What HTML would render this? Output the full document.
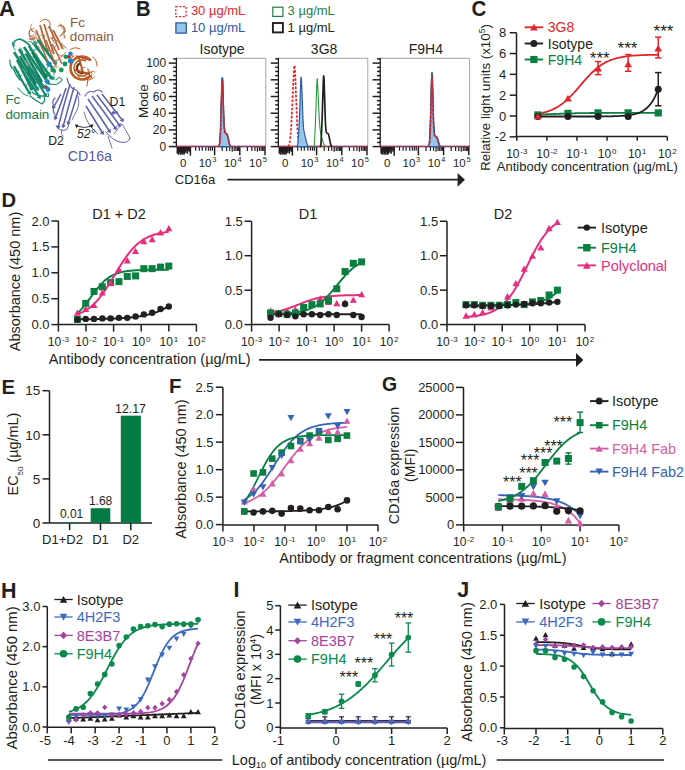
<!DOCTYPE html>
<html><head><meta charset="utf-8"><style>
html,body{margin:0;padding:0;background:#fff;}
svg{display:block;}
text{font-family:"Liberation Sans", sans-serif;}
</style></head><body>
<svg width="685" height="770" viewBox="0 0 685 770" font-family='"Liberation Sans", sans-serif'>
<rect width="685" height="770" fill="#fff"/>
<text x="135.90" y="15.70" font-size="21.5" fill="#231f20" font-weight="bold" textLength="14.6" lengthAdjust="spacingAndGlyphs">B</text>
<rect x="175.8" y="6.6" width="10.3" height="10" fill="none" stroke="#e3242b" stroke-width="1.3" stroke-dasharray="2 1.6"/>
<text x="190.90" y="14.90" font-size="13" fill="#e3242b">30 µg/mL</text>
<rect x="175.9" y="22.9" width="10.4" height="10.2" fill="#95c6e8" stroke="#2b5aa6" stroke-width="1.3"/>
<text x="190.90" y="32.00" font-size="13" fill="#2b5aa6">10 µg/mL</text>
<rect x="272.8" y="7.2" width="10.1" height="9.2" fill="none" stroke="#1f7d45" stroke-width="1.2"/>
<text x="287.60" y="14.90" font-size="13" fill="#1f7d45">3 µg/mL</text>
<rect x="272.9" y="23.0" width="10.0" height="9.4" fill="none" stroke="#231f20" stroke-width="1.9"/>
<text x="287.60" y="32.00" font-size="13" fill="#231f20">1 µg/mL</text>
<polyline points="176.80,58.3 265.80,58.3 265.80,146.7" fill="none" stroke="#9a9a9a" stroke-width="0.9"/>
<text x="222.10" y="54.00" font-size="14" text-anchor="middle" fill="#231f20">Isotype</text>
<line x1="176.40" y1="57.70" x2="176.40" y2="146.70" stroke="#231f20" stroke-width="1.3" />
<line x1="173.20" y1="58.93" x2="176.80" y2="58.93" stroke="#231f20" stroke-width="1.5" />
<line x1="168.80" y1="63.10" x2="176.80" y2="63.10" stroke="#231f20" stroke-width="1.5" />
<line x1="173.20" y1="67.28" x2="176.80" y2="67.28" stroke="#231f20" stroke-width="1.5" />
<line x1="173.20" y1="71.45" x2="176.80" y2="71.45" stroke="#231f20" stroke-width="1.5" />
<line x1="173.20" y1="75.62" x2="176.80" y2="75.62" stroke="#231f20" stroke-width="1.5" />
<line x1="168.80" y1="79.80" x2="176.80" y2="79.80" stroke="#231f20" stroke-width="1.5" />
<line x1="173.20" y1="83.98" x2="176.80" y2="83.98" stroke="#231f20" stroke-width="1.5" />
<line x1="173.20" y1="88.15" x2="176.80" y2="88.15" stroke="#231f20" stroke-width="1.5" />
<line x1="173.20" y1="92.33" x2="176.80" y2="92.33" stroke="#231f20" stroke-width="1.5" />
<line x1="168.80" y1="96.50" x2="176.80" y2="96.50" stroke="#231f20" stroke-width="1.5" />
<line x1="173.20" y1="100.67" x2="176.80" y2="100.67" stroke="#231f20" stroke-width="1.5" />
<line x1="173.20" y1="104.85" x2="176.80" y2="104.85" stroke="#231f20" stroke-width="1.5" />
<line x1="173.20" y1="109.02" x2="176.80" y2="109.02" stroke="#231f20" stroke-width="1.5" />
<line x1="168.80" y1="113.20" x2="176.80" y2="113.20" stroke="#231f20" stroke-width="1.5" />
<line x1="173.20" y1="117.38" x2="176.80" y2="117.38" stroke="#231f20" stroke-width="1.5" />
<line x1="173.20" y1="121.55" x2="176.80" y2="121.55" stroke="#231f20" stroke-width="1.5" />
<line x1="173.20" y1="125.73" x2="176.80" y2="125.73" stroke="#231f20" stroke-width="1.5" />
<line x1="168.80" y1="129.90" x2="176.80" y2="129.90" stroke="#231f20" stroke-width="1.5" />
<line x1="173.20" y1="134.07" x2="176.80" y2="134.07" stroke="#231f20" stroke-width="1.5" />
<line x1="173.20" y1="138.25" x2="176.80" y2="138.25" stroke="#231f20" stroke-width="1.5" />
<line x1="173.20" y1="142.42" x2="176.80" y2="142.42" stroke="#231f20" stroke-width="1.5" />
<line x1="168.80" y1="146.60" x2="176.80" y2="146.60" stroke="#231f20" stroke-width="1.5" />
<line x1="176.40" y1="146.70" x2="265.80" y2="146.70" stroke="#231f20" stroke-width="1.3" />
<line x1="177.30" y1="146.70" x2="177.30" y2="153.70" stroke="#231f20" stroke-width="1.5" />
<line x1="177.90" y1="146.70" x2="177.90" y2="151.70" stroke="#231f20" stroke-width="1.5" />
<line x1="178.50" y1="146.70" x2="178.50" y2="154.70" stroke="#231f20" stroke-width="1.5" />
<line x1="179.10" y1="146.70" x2="179.10" y2="152.70" stroke="#231f20" stroke-width="1.5" />
<line x1="179.70" y1="146.70" x2="179.70" y2="151.70" stroke="#231f20" stroke-width="1.5" />
<line x1="180.30" y1="146.70" x2="180.30" y2="154.70" stroke="#231f20" stroke-width="1.5" />
<line x1="180.90" y1="146.70" x2="180.90" y2="152.70" stroke="#231f20" stroke-width="1.5" />
<line x1="181.50" y1="146.70" x2="181.50" y2="153.70" stroke="#231f20" stroke-width="1.5" />
<line x1="182.10" y1="146.70" x2="182.10" y2="154.70" stroke="#231f20" stroke-width="1.5" />
<line x1="182.70" y1="146.70" x2="182.70" y2="151.70" stroke="#231f20" stroke-width="1.5" />
<line x1="183.30" y1="146.70" x2="183.30" y2="152.70" stroke="#231f20" stroke-width="1.5" />
<line x1="183.90" y1="146.70" x2="183.90" y2="154.70" stroke="#231f20" stroke-width="1.5" />
<line x1="184.50" y1="146.70" x2="184.50" y2="153.70" stroke="#231f20" stroke-width="1.5" />
<line x1="185.10" y1="146.70" x2="185.10" y2="151.70" stroke="#231f20" stroke-width="1.5" />
<line x1="185.80" y1="146.70" x2="185.80" y2="152.70" stroke="#231f20" stroke-width="1.5" />
<line x1="186.60" y1="146.70" x2="186.60" y2="150.70" stroke="#231f20" stroke-width="1.5" />
<line x1="187.40" y1="146.70" x2="187.40" y2="153.70" stroke="#231f20" stroke-width="1.5" />
<line x1="188.30" y1="146.70" x2="188.30" y2="150.70" stroke="#231f20" stroke-width="1.5" />
<line x1="189.30" y1="146.70" x2="189.30" y2="151.70" stroke="#231f20" stroke-width="1.5" />
<line x1="190.40" y1="146.70" x2="190.40" y2="155.70" stroke="#231f20" stroke-width="1.5" />
<line x1="195.70" y1="146.70" x2="195.70" y2="150.70" stroke="#231f20" stroke-width="1.2" />
<line x1="199.30" y1="146.70" x2="199.30" y2="150.70" stroke="#231f20" stroke-width="1.2" />
<line x1="202.30" y1="146.70" x2="202.30" y2="150.70" stroke="#231f20" stroke-width="1.2" />
<line x1="205.90" y1="146.70" x2="205.90" y2="150.70" stroke="#231f20" stroke-width="1.2" />
<line x1="208.50" y1="146.70" x2="208.50" y2="150.70" stroke="#231f20" stroke-width="1.2" />
<line x1="210.50" y1="146.70" x2="210.50" y2="150.70" stroke="#231f20" stroke-width="1.2" />
<line x1="212.40" y1="146.70" x2="212.40" y2="150.70" stroke="#231f20" stroke-width="1.2" />
<line x1="214.60" y1="146.70" x2="214.60" y2="155.30" stroke="#231f20" stroke-width="1.5" />
<line x1="222.19" y1="146.70" x2="222.19" y2="150.90" stroke="#231f20" stroke-width="1.2" />
<line x1="226.62" y1="146.70" x2="226.62" y2="150.90" stroke="#231f20" stroke-width="1.2" />
<line x1="229.77" y1="146.70" x2="229.77" y2="150.90" stroke="#231f20" stroke-width="1.2" />
<line x1="232.21" y1="146.70" x2="232.21" y2="151.70" stroke="#231f20" stroke-width="1.2" />
<line x1="234.21" y1="146.70" x2="234.21" y2="150.90" stroke="#231f20" stroke-width="1.2" />
<line x1="235.90" y1="146.70" x2="235.90" y2="150.90" stroke="#231f20" stroke-width="1.2" />
<line x1="237.36" y1="146.70" x2="237.36" y2="150.90" stroke="#231f20" stroke-width="1.2" />
<line x1="238.65" y1="146.70" x2="238.65" y2="150.90" stroke="#231f20" stroke-width="1.2" />
<line x1="239.80" y1="146.70" x2="239.80" y2="155.30" stroke="#231f20" stroke-width="1.5" />
<line x1="247.39" y1="146.70" x2="247.39" y2="150.90" stroke="#231f20" stroke-width="1.2" />
<line x1="251.82" y1="146.70" x2="251.82" y2="150.90" stroke="#231f20" stroke-width="1.2" />
<line x1="254.97" y1="146.70" x2="254.97" y2="150.90" stroke="#231f20" stroke-width="1.2" />
<line x1="257.41" y1="146.70" x2="257.41" y2="151.70" stroke="#231f20" stroke-width="1.2" />
<line x1="259.41" y1="146.70" x2="259.41" y2="150.90" stroke="#231f20" stroke-width="1.2" />
<line x1="261.10" y1="146.70" x2="261.10" y2="150.90" stroke="#231f20" stroke-width="1.2" />
<line x1="262.56" y1="146.70" x2="262.56" y2="150.90" stroke="#231f20" stroke-width="1.2" />
<line x1="263.85" y1="146.70" x2="263.85" y2="150.90" stroke="#231f20" stroke-width="1.2" />
<line x1="265.00" y1="146.70" x2="265.00" y2="155.30" stroke="#231f20" stroke-width="1.5" />
<text x="183.30" y="167.00" font-size="11.5" text-anchor="middle" fill="#231f20">0</text>
<text x="207.60" y="167.00" font-size="11.5" text-anchor="middle" fill="#231f20">10<tspan font-size="7.5" dx="0.8" dy="-4.60">3</tspan></text>
<text x="232.80" y="167.00" font-size="11.5" text-anchor="middle" fill="#231f20">10<tspan font-size="7.5" dx="0.8" dy="-4.60">4</tspan></text>
<text x="258.00" y="167.00" font-size="11.5" text-anchor="middle" fill="#231f20">10<tspan font-size="7.5" dx="0.8" dy="-4.60">5</tspan></text>
<polyline points="278.80,58.3 367.80,58.3 367.80,146.7" fill="none" stroke="#9a9a9a" stroke-width="0.9"/>
<text x="324.10" y="54.00" font-size="14" text-anchor="middle" fill="#231f20">3G8</text>
<line x1="278.40" y1="57.70" x2="278.40" y2="146.70" stroke="#231f20" stroke-width="1.3" />
<line x1="275.20" y1="58.93" x2="278.80" y2="58.93" stroke="#231f20" stroke-width="1.5" />
<line x1="270.80" y1="63.10" x2="278.80" y2="63.10" stroke="#231f20" stroke-width="1.5" />
<line x1="275.20" y1="67.28" x2="278.80" y2="67.28" stroke="#231f20" stroke-width="1.5" />
<line x1="275.20" y1="71.45" x2="278.80" y2="71.45" stroke="#231f20" stroke-width="1.5" />
<line x1="275.20" y1="75.62" x2="278.80" y2="75.62" stroke="#231f20" stroke-width="1.5" />
<line x1="270.80" y1="79.80" x2="278.80" y2="79.80" stroke="#231f20" stroke-width="1.5" />
<line x1="275.20" y1="83.98" x2="278.80" y2="83.98" stroke="#231f20" stroke-width="1.5" />
<line x1="275.20" y1="88.15" x2="278.80" y2="88.15" stroke="#231f20" stroke-width="1.5" />
<line x1="275.20" y1="92.33" x2="278.80" y2="92.33" stroke="#231f20" stroke-width="1.5" />
<line x1="270.80" y1="96.50" x2="278.80" y2="96.50" stroke="#231f20" stroke-width="1.5" />
<line x1="275.20" y1="100.67" x2="278.80" y2="100.67" stroke="#231f20" stroke-width="1.5" />
<line x1="275.20" y1="104.85" x2="278.80" y2="104.85" stroke="#231f20" stroke-width="1.5" />
<line x1="275.20" y1="109.02" x2="278.80" y2="109.02" stroke="#231f20" stroke-width="1.5" />
<line x1="270.80" y1="113.20" x2="278.80" y2="113.20" stroke="#231f20" stroke-width="1.5" />
<line x1="275.20" y1="117.38" x2="278.80" y2="117.38" stroke="#231f20" stroke-width="1.5" />
<line x1="275.20" y1="121.55" x2="278.80" y2="121.55" stroke="#231f20" stroke-width="1.5" />
<line x1="275.20" y1="125.73" x2="278.80" y2="125.73" stroke="#231f20" stroke-width="1.5" />
<line x1="270.80" y1="129.90" x2="278.80" y2="129.90" stroke="#231f20" stroke-width="1.5" />
<line x1="275.20" y1="134.07" x2="278.80" y2="134.07" stroke="#231f20" stroke-width="1.5" />
<line x1="275.20" y1="138.25" x2="278.80" y2="138.25" stroke="#231f20" stroke-width="1.5" />
<line x1="275.20" y1="142.42" x2="278.80" y2="142.42" stroke="#231f20" stroke-width="1.5" />
<line x1="270.80" y1="146.60" x2="278.80" y2="146.60" stroke="#231f20" stroke-width="1.5" />
<line x1="278.40" y1="146.70" x2="367.80" y2="146.70" stroke="#231f20" stroke-width="1.3" />
<line x1="279.30" y1="146.70" x2="279.30" y2="153.70" stroke="#231f20" stroke-width="1.5" />
<line x1="279.90" y1="146.70" x2="279.90" y2="151.70" stroke="#231f20" stroke-width="1.5" />
<line x1="280.50" y1="146.70" x2="280.50" y2="154.70" stroke="#231f20" stroke-width="1.5" />
<line x1="281.10" y1="146.70" x2="281.10" y2="152.70" stroke="#231f20" stroke-width="1.5" />
<line x1="281.70" y1="146.70" x2="281.70" y2="151.70" stroke="#231f20" stroke-width="1.5" />
<line x1="282.30" y1="146.70" x2="282.30" y2="154.70" stroke="#231f20" stroke-width="1.5" />
<line x1="282.90" y1="146.70" x2="282.90" y2="152.70" stroke="#231f20" stroke-width="1.5" />
<line x1="283.50" y1="146.70" x2="283.50" y2="153.70" stroke="#231f20" stroke-width="1.5" />
<line x1="284.10" y1="146.70" x2="284.10" y2="154.70" stroke="#231f20" stroke-width="1.5" />
<line x1="284.70" y1="146.70" x2="284.70" y2="151.70" stroke="#231f20" stroke-width="1.5" />
<line x1="285.30" y1="146.70" x2="285.30" y2="152.70" stroke="#231f20" stroke-width="1.5" />
<line x1="285.90" y1="146.70" x2="285.90" y2="154.70" stroke="#231f20" stroke-width="1.5" />
<line x1="286.50" y1="146.70" x2="286.50" y2="153.70" stroke="#231f20" stroke-width="1.5" />
<line x1="287.10" y1="146.70" x2="287.10" y2="151.70" stroke="#231f20" stroke-width="1.5" />
<line x1="287.80" y1="146.70" x2="287.80" y2="152.70" stroke="#231f20" stroke-width="1.5" />
<line x1="288.60" y1="146.70" x2="288.60" y2="150.70" stroke="#231f20" stroke-width="1.5" />
<line x1="289.40" y1="146.70" x2="289.40" y2="153.70" stroke="#231f20" stroke-width="1.5" />
<line x1="290.30" y1="146.70" x2="290.30" y2="150.70" stroke="#231f20" stroke-width="1.5" />
<line x1="291.30" y1="146.70" x2="291.30" y2="151.70" stroke="#231f20" stroke-width="1.5" />
<line x1="292.40" y1="146.70" x2="292.40" y2="155.70" stroke="#231f20" stroke-width="1.5" />
<line x1="297.70" y1="146.70" x2="297.70" y2="150.70" stroke="#231f20" stroke-width="1.2" />
<line x1="301.30" y1="146.70" x2="301.30" y2="150.70" stroke="#231f20" stroke-width="1.2" />
<line x1="304.30" y1="146.70" x2="304.30" y2="150.70" stroke="#231f20" stroke-width="1.2" />
<line x1="307.90" y1="146.70" x2="307.90" y2="150.70" stroke="#231f20" stroke-width="1.2" />
<line x1="310.50" y1="146.70" x2="310.50" y2="150.70" stroke="#231f20" stroke-width="1.2" />
<line x1="312.50" y1="146.70" x2="312.50" y2="150.70" stroke="#231f20" stroke-width="1.2" />
<line x1="314.40" y1="146.70" x2="314.40" y2="150.70" stroke="#231f20" stroke-width="1.2" />
<line x1="316.60" y1="146.70" x2="316.60" y2="155.30" stroke="#231f20" stroke-width="1.5" />
<line x1="324.19" y1="146.70" x2="324.19" y2="150.90" stroke="#231f20" stroke-width="1.2" />
<line x1="328.62" y1="146.70" x2="328.62" y2="150.90" stroke="#231f20" stroke-width="1.2" />
<line x1="331.77" y1="146.70" x2="331.77" y2="150.90" stroke="#231f20" stroke-width="1.2" />
<line x1="334.21" y1="146.70" x2="334.21" y2="151.70" stroke="#231f20" stroke-width="1.2" />
<line x1="336.21" y1="146.70" x2="336.21" y2="150.90" stroke="#231f20" stroke-width="1.2" />
<line x1="337.90" y1="146.70" x2="337.90" y2="150.90" stroke="#231f20" stroke-width="1.2" />
<line x1="339.36" y1="146.70" x2="339.36" y2="150.90" stroke="#231f20" stroke-width="1.2" />
<line x1="340.65" y1="146.70" x2="340.65" y2="150.90" stroke="#231f20" stroke-width="1.2" />
<line x1="341.80" y1="146.70" x2="341.80" y2="155.30" stroke="#231f20" stroke-width="1.5" />
<line x1="349.39" y1="146.70" x2="349.39" y2="150.90" stroke="#231f20" stroke-width="1.2" />
<line x1="353.82" y1="146.70" x2="353.82" y2="150.90" stroke="#231f20" stroke-width="1.2" />
<line x1="356.97" y1="146.70" x2="356.97" y2="150.90" stroke="#231f20" stroke-width="1.2" />
<line x1="359.41" y1="146.70" x2="359.41" y2="151.70" stroke="#231f20" stroke-width="1.2" />
<line x1="361.41" y1="146.70" x2="361.41" y2="150.90" stroke="#231f20" stroke-width="1.2" />
<line x1="363.10" y1="146.70" x2="363.10" y2="150.90" stroke="#231f20" stroke-width="1.2" />
<line x1="364.56" y1="146.70" x2="364.56" y2="150.90" stroke="#231f20" stroke-width="1.2" />
<line x1="365.85" y1="146.70" x2="365.85" y2="150.90" stroke="#231f20" stroke-width="1.2" />
<line x1="367.00" y1="146.70" x2="367.00" y2="155.30" stroke="#231f20" stroke-width="1.5" />
<text x="285.30" y="167.00" font-size="11.5" text-anchor="middle" fill="#231f20">0</text>
<text x="309.60" y="167.00" font-size="11.5" text-anchor="middle" fill="#231f20">10<tspan font-size="7.5" dx="0.8" dy="-4.60">3</tspan></text>
<text x="334.80" y="167.00" font-size="11.5" text-anchor="middle" fill="#231f20">10<tspan font-size="7.5" dx="0.8" dy="-4.60">4</tspan></text>
<text x="360.00" y="167.00" font-size="11.5" text-anchor="middle" fill="#231f20">10<tspan font-size="7.5" dx="0.8" dy="-4.60">5</tspan></text>
<polyline points="380.60,58.3 469.60,58.3 469.60,146.7" fill="none" stroke="#9a9a9a" stroke-width="0.9"/>
<text x="425.90" y="54.00" font-size="14" text-anchor="middle" fill="#231f20">F9H4</text>
<line x1="380.20" y1="57.70" x2="380.20" y2="146.70" stroke="#231f20" stroke-width="1.3" />
<line x1="377.00" y1="58.93" x2="380.60" y2="58.93" stroke="#231f20" stroke-width="1.5" />
<line x1="372.60" y1="63.10" x2="380.60" y2="63.10" stroke="#231f20" stroke-width="1.5" />
<line x1="377.00" y1="67.28" x2="380.60" y2="67.28" stroke="#231f20" stroke-width="1.5" />
<line x1="377.00" y1="71.45" x2="380.60" y2="71.45" stroke="#231f20" stroke-width="1.5" />
<line x1="377.00" y1="75.62" x2="380.60" y2="75.62" stroke="#231f20" stroke-width="1.5" />
<line x1="372.60" y1="79.80" x2="380.60" y2="79.80" stroke="#231f20" stroke-width="1.5" />
<line x1="377.00" y1="83.98" x2="380.60" y2="83.98" stroke="#231f20" stroke-width="1.5" />
<line x1="377.00" y1="88.15" x2="380.60" y2="88.15" stroke="#231f20" stroke-width="1.5" />
<line x1="377.00" y1="92.33" x2="380.60" y2="92.33" stroke="#231f20" stroke-width="1.5" />
<line x1="372.60" y1="96.50" x2="380.60" y2="96.50" stroke="#231f20" stroke-width="1.5" />
<line x1="377.00" y1="100.67" x2="380.60" y2="100.67" stroke="#231f20" stroke-width="1.5" />
<line x1="377.00" y1="104.85" x2="380.60" y2="104.85" stroke="#231f20" stroke-width="1.5" />
<line x1="377.00" y1="109.02" x2="380.60" y2="109.02" stroke="#231f20" stroke-width="1.5" />
<line x1="372.60" y1="113.20" x2="380.60" y2="113.20" stroke="#231f20" stroke-width="1.5" />
<line x1="377.00" y1="117.38" x2="380.60" y2="117.38" stroke="#231f20" stroke-width="1.5" />
<line x1="377.00" y1="121.55" x2="380.60" y2="121.55" stroke="#231f20" stroke-width="1.5" />
<line x1="377.00" y1="125.73" x2="380.60" y2="125.73" stroke="#231f20" stroke-width="1.5" />
<line x1="372.60" y1="129.90" x2="380.60" y2="129.90" stroke="#231f20" stroke-width="1.5" />
<line x1="377.00" y1="134.07" x2="380.60" y2="134.07" stroke="#231f20" stroke-width="1.5" />
<line x1="377.00" y1="138.25" x2="380.60" y2="138.25" stroke="#231f20" stroke-width="1.5" />
<line x1="377.00" y1="142.42" x2="380.60" y2="142.42" stroke="#231f20" stroke-width="1.5" />
<line x1="372.60" y1="146.60" x2="380.60" y2="146.60" stroke="#231f20" stroke-width="1.5" />
<line x1="380.20" y1="146.70" x2="469.60" y2="146.70" stroke="#231f20" stroke-width="1.3" />
<line x1="381.10" y1="146.70" x2="381.10" y2="153.70" stroke="#231f20" stroke-width="1.5" />
<line x1="381.70" y1="146.70" x2="381.70" y2="151.70" stroke="#231f20" stroke-width="1.5" />
<line x1="382.30" y1="146.70" x2="382.30" y2="154.70" stroke="#231f20" stroke-width="1.5" />
<line x1="382.90" y1="146.70" x2="382.90" y2="152.70" stroke="#231f20" stroke-width="1.5" />
<line x1="383.50" y1="146.70" x2="383.50" y2="151.70" stroke="#231f20" stroke-width="1.5" />
<line x1="384.10" y1="146.70" x2="384.10" y2="154.70" stroke="#231f20" stroke-width="1.5" />
<line x1="384.70" y1="146.70" x2="384.70" y2="152.70" stroke="#231f20" stroke-width="1.5" />
<line x1="385.30" y1="146.70" x2="385.30" y2="153.70" stroke="#231f20" stroke-width="1.5" />
<line x1="385.90" y1="146.70" x2="385.90" y2="154.70" stroke="#231f20" stroke-width="1.5" />
<line x1="386.50" y1="146.70" x2="386.50" y2="151.70" stroke="#231f20" stroke-width="1.5" />
<line x1="387.10" y1="146.70" x2="387.10" y2="152.70" stroke="#231f20" stroke-width="1.5" />
<line x1="387.70" y1="146.70" x2="387.70" y2="154.70" stroke="#231f20" stroke-width="1.5" />
<line x1="388.30" y1="146.70" x2="388.30" y2="153.70" stroke="#231f20" stroke-width="1.5" />
<line x1="388.90" y1="146.70" x2="388.90" y2="151.70" stroke="#231f20" stroke-width="1.5" />
<line x1="389.60" y1="146.70" x2="389.60" y2="152.70" stroke="#231f20" stroke-width="1.5" />
<line x1="390.40" y1="146.70" x2="390.40" y2="150.70" stroke="#231f20" stroke-width="1.5" />
<line x1="391.20" y1="146.70" x2="391.20" y2="153.70" stroke="#231f20" stroke-width="1.5" />
<line x1="392.10" y1="146.70" x2="392.10" y2="150.70" stroke="#231f20" stroke-width="1.5" />
<line x1="393.10" y1="146.70" x2="393.10" y2="151.70" stroke="#231f20" stroke-width="1.5" />
<line x1="394.20" y1="146.70" x2="394.20" y2="155.70" stroke="#231f20" stroke-width="1.5" />
<line x1="399.50" y1="146.70" x2="399.50" y2="150.70" stroke="#231f20" stroke-width="1.2" />
<line x1="403.10" y1="146.70" x2="403.10" y2="150.70" stroke="#231f20" stroke-width="1.2" />
<line x1="406.10" y1="146.70" x2="406.10" y2="150.70" stroke="#231f20" stroke-width="1.2" />
<line x1="409.70" y1="146.70" x2="409.70" y2="150.70" stroke="#231f20" stroke-width="1.2" />
<line x1="412.30" y1="146.70" x2="412.30" y2="150.70" stroke="#231f20" stroke-width="1.2" />
<line x1="414.30" y1="146.70" x2="414.30" y2="150.70" stroke="#231f20" stroke-width="1.2" />
<line x1="416.20" y1="146.70" x2="416.20" y2="150.70" stroke="#231f20" stroke-width="1.2" />
<line x1="418.40" y1="146.70" x2="418.40" y2="155.30" stroke="#231f20" stroke-width="1.5" />
<line x1="425.99" y1="146.70" x2="425.99" y2="150.90" stroke="#231f20" stroke-width="1.2" />
<line x1="430.42" y1="146.70" x2="430.42" y2="150.90" stroke="#231f20" stroke-width="1.2" />
<line x1="433.57" y1="146.70" x2="433.57" y2="150.90" stroke="#231f20" stroke-width="1.2" />
<line x1="436.01" y1="146.70" x2="436.01" y2="151.70" stroke="#231f20" stroke-width="1.2" />
<line x1="438.01" y1="146.70" x2="438.01" y2="150.90" stroke="#231f20" stroke-width="1.2" />
<line x1="439.70" y1="146.70" x2="439.70" y2="150.90" stroke="#231f20" stroke-width="1.2" />
<line x1="441.16" y1="146.70" x2="441.16" y2="150.90" stroke="#231f20" stroke-width="1.2" />
<line x1="442.45" y1="146.70" x2="442.45" y2="150.90" stroke="#231f20" stroke-width="1.2" />
<line x1="443.60" y1="146.70" x2="443.60" y2="155.30" stroke="#231f20" stroke-width="1.5" />
<line x1="451.19" y1="146.70" x2="451.19" y2="150.90" stroke="#231f20" stroke-width="1.2" />
<line x1="455.62" y1="146.70" x2="455.62" y2="150.90" stroke="#231f20" stroke-width="1.2" />
<line x1="458.77" y1="146.70" x2="458.77" y2="150.90" stroke="#231f20" stroke-width="1.2" />
<line x1="461.21" y1="146.70" x2="461.21" y2="151.70" stroke="#231f20" stroke-width="1.2" />
<line x1="463.21" y1="146.70" x2="463.21" y2="150.90" stroke="#231f20" stroke-width="1.2" />
<line x1="464.90" y1="146.70" x2="464.90" y2="150.90" stroke="#231f20" stroke-width="1.2" />
<line x1="466.36" y1="146.70" x2="466.36" y2="150.90" stroke="#231f20" stroke-width="1.2" />
<line x1="467.65" y1="146.70" x2="467.65" y2="150.90" stroke="#231f20" stroke-width="1.2" />
<line x1="468.80" y1="146.70" x2="468.80" y2="155.30" stroke="#231f20" stroke-width="1.5" />
<text x="387.10" y="167.00" font-size="11.5" text-anchor="middle" fill="#231f20">0</text>
<text x="411.40" y="167.00" font-size="11.5" text-anchor="middle" fill="#231f20">10<tspan font-size="7.5" dx="0.8" dy="-4.60">3</tspan></text>
<text x="436.60" y="167.00" font-size="11.5" text-anchor="middle" fill="#231f20">10<tspan font-size="7.5" dx="0.8" dy="-4.60">4</tspan></text>
<text x="461.80" y="167.00" font-size="11.5" text-anchor="middle" fill="#231f20">10<tspan font-size="7.5" dx="0.8" dy="-4.60">5</tspan></text>
<text x="166.20" y="67.30" font-size="12" text-anchor="end" fill="#231f20">100</text>
<text x="166.20" y="84.00" font-size="12" text-anchor="end" fill="#231f20">80</text>
<text x="166.20" y="100.70" font-size="12" text-anchor="end" fill="#231f20">60</text>
<text x="166.20" y="117.40" font-size="12" text-anchor="end" fill="#231f20">40</text>
<text x="166.20" y="134.10" font-size="12" text-anchor="end" fill="#231f20">20</text>
<text x="166.20" y="150.80" font-size="12" text-anchor="end" fill="#231f20">0</text>
<text x="147.80" y="117.90" font-size="13.5" fill="#231f20" transform="rotate(-90 147.80 117.90)">Mode</text>
<line x1="176.80" y1="146.40" x2="265.80" y2="146.40" stroke="#2b5aa6" stroke-width="1.3" />
<line x1="176.80" y1="146.40" x2="265.80" y2="146.40" stroke="#e3242b" stroke-width="1.3" stroke-dasharray="2.2 1.6"/>
<line x1="278.80" y1="146.40" x2="367.80" y2="146.40" stroke="#2b5aa6" stroke-width="1.3" />
<line x1="278.80" y1="146.40" x2="367.80" y2="146.40" stroke="#e3242b" stroke-width="1.3" stroke-dasharray="2.2 1.6"/>
<line x1="380.60" y1="146.40" x2="469.60" y2="146.40" stroke="#2b5aa6" stroke-width="1.3" />
<line x1="380.60" y1="146.40" x2="469.60" y2="146.40" stroke="#e3242b" stroke-width="1.3" stroke-dasharray="2.2 1.6"/>
<path d="M218.50,146.60 C218.67,146.32 219.17,147.02 219.50,144.93 C219.83,142.84 220.17,141.45 220.50,134.07 C220.83,126.70 221.20,110.00 221.50,100.67 C221.80,91.35 222.05,78.83 222.30,78.13 C222.55,77.43 222.75,89.26 223.00,96.50 C223.25,103.74 223.53,115.84 223.80,121.55 C224.07,127.26 224.30,128.79 224.60,130.73 C224.90,132.68 225.23,132.68 225.60,133.24 C225.97,133.80 226.43,133.52 226.80,134.07 C227.17,134.63 227.47,135.33 227.80,136.58 C228.13,137.83 228.47,140.13 228.80,141.59 C229.13,143.05 229.47,144.51 229.80,145.35 C230.13,146.18 230.63,146.39 230.80,146.60" fill="none" stroke="#231f20" stroke-width="1.7"/>
<path d="M218.50,146.60 C218.67,146.32 219.17,147.02 219.50,144.93 C219.83,142.84 220.17,141.45 220.50,134.07 C220.83,126.70 221.20,110.00 221.50,100.67 C221.80,91.35 222.05,78.83 222.30,78.13 C222.55,77.43 222.75,89.26 223.00,96.50 C223.25,103.74 223.53,115.84 223.80,121.55 C224.07,127.26 224.30,128.79 224.60,130.73 C224.90,132.68 225.23,132.68 225.60,133.24 C225.97,133.80 226.43,133.52 226.80,134.07 C227.17,134.63 227.47,135.33 227.80,136.58 C228.13,137.83 228.47,140.13 228.80,141.59 C229.13,143.05 229.47,144.51 229.80,145.35 C230.13,146.18 230.63,146.39 230.80,146.60" fill="none" stroke="#2a9a3e" stroke-width="1.1"/>
<path d="M218.50,146.60 C218.67,146.32 219.17,147.02 219.50,144.93 C219.83,142.84 220.17,141.45 220.50,134.07 C220.83,126.70 221.20,110.00 221.50,100.67 C221.80,91.35 222.05,78.83 222.30,78.13 C222.55,77.43 222.75,89.26 223.00,96.50 C223.25,103.74 223.53,115.84 223.80,121.55 C224.07,127.26 224.30,128.79 224.60,130.73 C224.90,132.68 225.23,132.68 225.60,133.24 C225.97,133.80 226.43,133.52 226.80,134.07 C227.17,134.63 227.47,135.33 227.80,136.58 C228.13,137.83 228.47,140.13 228.80,141.59 C229.13,143.05 229.47,144.51 229.80,145.35 C230.13,146.18 230.63,146.39 230.80,146.60 Z" fill="#95c6e8" stroke="#2b5aa6" stroke-width="1.2"/>
<path d="M218.50,146.60 C218.67,146.34 219.17,147.00 219.50,145.01 C219.83,143.03 220.17,141.71 220.50,134.70 C220.83,127.69 221.20,111.83 221.50,102.97 C221.80,94.11 222.05,82.21 222.30,81.55 C222.55,80.89 222.75,92.13 223.00,99.00 C223.25,105.88 223.53,117.38 223.80,122.80 C224.07,128.22 224.30,129.68 224.60,131.53 C224.90,133.38 225.23,133.38 225.60,133.91 C225.97,134.44 226.43,134.17 226.80,134.70 C227.17,135.23 227.47,135.89 227.80,137.08 C228.13,138.27 228.47,140.45 228.80,141.84 C229.13,143.23 229.47,144.62 229.80,145.41 C230.13,146.20 230.63,146.40 230.80,146.60" fill="none" stroke="#e3242b" stroke-width="1.7" stroke-dasharray="2.6 1.5"/>
<path d="M428.20,146.60 C428.37,146.32 428.87,147.02 429.20,144.93 C429.53,142.84 429.87,141.87 430.20,134.07 C430.53,126.28 430.90,108.33 431.20,98.17 C431.50,88.01 431.75,73.40 432.00,73.12 C432.25,72.84 432.45,88.15 432.70,96.50 C432.95,104.85 433.23,116.96 433.50,123.22 C433.77,129.48 434.00,131.92 434.30,134.07 C434.60,136.23 434.93,135.68 435.30,136.16 C435.67,136.65 436.13,136.51 436.50,137.00 C436.87,137.48 437.17,138.11 437.50,139.09 C437.83,140.06 438.17,141.73 438.50,142.84 C438.83,143.96 439.17,145.14 439.50,145.76 C439.83,146.39 440.33,146.46 440.50,146.60" fill="none" stroke="#231f20" stroke-width="1.7"/>
<path d="M428.20,146.60 C428.37,146.32 428.87,147.02 429.20,144.93 C429.53,142.84 429.87,141.87 430.20,134.07 C430.53,126.28 430.90,108.33 431.20,98.17 C431.50,88.01 431.75,73.40 432.00,73.12 C432.25,72.84 432.45,88.15 432.70,96.50 C432.95,104.85 433.23,116.96 433.50,123.22 C433.77,129.48 434.00,131.92 434.30,134.07 C434.60,136.23 434.93,135.68 435.30,136.16 C435.67,136.65 436.13,136.51 436.50,137.00 C436.87,137.48 437.17,138.11 437.50,139.09 C437.83,140.06 438.17,141.73 438.50,142.84 C438.83,143.96 439.17,145.14 439.50,145.76 C439.83,146.39 440.33,146.46 440.50,146.60" fill="none" stroke="#2a9a3e" stroke-width="1.1"/>
<path d="M428.20,146.60 C428.37,146.32 428.87,147.02 429.20,144.93 C429.53,142.84 429.87,141.87 430.20,134.07 C430.53,126.28 430.90,108.33 431.20,98.17 C431.50,88.01 431.75,73.40 432.00,73.12 C432.25,72.84 432.45,88.15 432.70,96.50 C432.95,104.85 433.23,116.96 433.50,123.22 C433.77,129.48 434.00,131.92 434.30,134.07 C434.60,136.23 434.93,135.68 435.30,136.16 C435.67,136.65 436.13,136.51 436.50,137.00 C436.87,137.48 437.17,138.11 437.50,139.09 C437.83,140.06 438.17,141.73 438.50,142.84 C438.83,143.96 439.17,145.14 439.50,145.76 C439.83,146.39 440.33,146.46 440.50,146.60 Z" fill="#95c6e8" stroke="#2b5aa6" stroke-width="1.2"/>
<path d="M428.20,146.60 C428.37,146.34 428.87,147.00 429.20,145.01 C429.53,143.03 429.87,142.10 430.20,134.70 C430.53,127.30 430.90,110.24 431.20,100.59 C431.50,90.94 431.75,77.06 432.00,76.79 C432.25,76.53 432.45,91.07 432.70,99.00 C432.95,106.94 433.23,118.44 433.50,124.39 C433.77,130.34 434.00,132.65 434.30,134.70 C434.60,136.75 434.93,136.22 435.30,136.68 C435.67,137.15 436.13,137.01 436.50,137.48 C436.87,137.94 437.17,138.54 437.50,139.46 C437.83,140.39 438.17,141.97 438.50,143.03 C438.83,144.09 439.17,145.21 439.50,145.81 C439.83,146.40 440.33,146.47 440.50,146.60" fill="none" stroke="#e3242b" stroke-width="1.7" stroke-dasharray="2.6 1.5"/>
<path d="M288.00,146.60 C288.25,146.04 289.00,146.04 289.50,143.26 C290.00,140.48 290.50,137.00 291.00,129.90 C291.50,122.80 291.92,111.39 292.50,100.67 C293.08,89.96 293.88,65.61 294.50,65.61 C295.12,65.61 295.70,89.96 296.20,100.67 C296.70,111.39 297.07,122.94 297.50,129.90 C297.93,136.86 298.38,139.64 298.80,142.42 C299.22,145.21 299.80,145.90 300.00,146.60" fill="none" stroke="#e3242b" stroke-width="1.7" stroke-dasharray="2.6 1.5"/>
<path d="M296.50,146.60 C296.75,145.90 297.50,147.30 298.00,142.42 C298.50,137.55 299.08,126.42 299.50,117.38 C299.92,108.33 300.22,94.83 300.50,88.15 C300.78,81.47 300.95,76.60 301.20,77.30 C301.45,77.99 301.73,86.06 302.00,92.32 C302.27,98.59 302.53,108.89 302.80,114.87 C303.07,120.85 303.30,125.03 303.60,128.23 C303.90,131.43 304.27,132.40 304.60,134.07 C304.93,135.75 305.27,136.86 305.60,138.25 C305.93,139.64 306.23,141.17 306.60,142.42 C306.97,143.68 307.48,145.07 307.80,145.76 C308.12,146.46 308.38,146.46 308.50,146.60 Z" fill="#95c6e8" stroke="#2b5aa6" stroke-width="1.2"/>
<path d="M313.50,146.60 C313.67,145.90 314.12,147.99 314.50,142.42 C314.88,136.86 315.42,122.94 315.80,113.20 C316.18,103.46 316.53,89.54 316.80,83.97 C317.07,78.41 317.17,77.71 317.40,79.80 C317.63,81.89 317.90,90.24 318.20,96.50 C318.50,102.76 318.87,111.81 319.20,117.38 C319.53,122.94 319.87,126.84 320.20,129.90 C320.53,132.96 320.83,134.08 321.20,135.75 C321.57,137.41 321.97,138.53 322.40,139.92 C322.83,141.31 323.33,143.05 323.80,144.09 C324.27,145.14 324.83,145.77 325.20,146.18 C325.57,146.60 325.87,146.53 326.00,146.60" fill="none" stroke="#2a9a3e" stroke-width="1.1"/>
<path d="M320.00,146.60 C320.17,146.04 320.62,148.83 321.00,143.26 C321.38,137.69 321.92,123.50 322.30,113.20 C322.68,102.90 323.03,87.45 323.30,81.47 C323.57,75.49 323.68,74.79 323.90,77.30 C324.12,79.80 324.35,89.12 324.60,96.50 C324.85,103.88 325.13,115.70 325.40,121.55 C325.67,127.39 325.90,129.62 326.20,131.57 C326.50,133.52 326.83,132.82 327.20,133.24 C327.57,133.66 328.03,133.24 328.40,134.07 C328.77,134.91 329.07,136.72 329.40,138.25 C329.73,139.78 330.07,141.94 330.40,143.26 C330.73,144.58 331.13,145.63 331.40,146.18 C331.67,146.74 331.90,146.53 332.00,146.60" fill="none" stroke="#231f20" stroke-width="1.7"/>
<text x="174.80" y="183.50" font-size="13" fill="#231f20">CD16a</text>
<line x1="227.50" y1="179.60" x2="459.00" y2="179.60" stroke="#231f20" stroke-width="1.6" />
<polygon points="465.00,179.80 457.60,172.90 457.60,186.70" fill="#231f20" stroke="none" stroke-width="1" />
<text x="471.60" y="16.00" font-size="21.5" fill="#231f20" font-weight="bold" textLength="14.8" lengthAdjust="spacingAndGlyphs">C</text>
<line x1="516.50" y1="32.70" x2="516.50" y2="136.60" stroke="#231f20" stroke-width="1.5" />
<line x1="509.70" y1="32.72" x2="516.50" y2="32.72" stroke="#231f20" stroke-width="1.5" />
<text x="506.30" y="37.27" font-size="13" text-anchor="end" fill="#231f20">8</text>
<line x1="509.70" y1="53.54" x2="516.50" y2="53.54" stroke="#231f20" stroke-width="1.5" />
<text x="506.30" y="58.09" font-size="13" text-anchor="end" fill="#231f20">6</text>
<line x1="509.70" y1="74.36" x2="516.50" y2="74.36" stroke="#231f20" stroke-width="1.5" />
<text x="506.30" y="78.91" font-size="13" text-anchor="end" fill="#231f20">4</text>
<line x1="509.70" y1="95.18" x2="516.50" y2="95.18" stroke="#231f20" stroke-width="1.5" />
<text x="506.30" y="99.73" font-size="13" text-anchor="end" fill="#231f20">2</text>
<line x1="509.70" y1="116.00" x2="516.50" y2="116.00" stroke="#231f20" stroke-width="1.5" />
<text x="506.30" y="120.55" font-size="13" text-anchor="end" fill="#231f20">0</text>
<line x1="509.70" y1="136.82" x2="516.50" y2="136.82" stroke="#231f20" stroke-width="1.5" />
<text x="506.30" y="141.37" font-size="13" text-anchor="end" fill="#231f20">-2</text>
<line x1="516.50" y1="136.60" x2="667.30" y2="136.60" stroke="#231f20" stroke-width="1.5" />
<line x1="516.80" y1="136.60" x2="516.80" y2="140.80" stroke="#231f20" stroke-width="1.5" />
<line x1="546.90" y1="136.60" x2="546.90" y2="140.80" stroke="#231f20" stroke-width="1.5" />
<line x1="577.00" y1="136.60" x2="577.00" y2="140.80" stroke="#231f20" stroke-width="1.5" />
<line x1="607.10" y1="136.60" x2="607.10" y2="140.80" stroke="#231f20" stroke-width="1.5" />
<line x1="637.20" y1="136.60" x2="637.20" y2="140.80" stroke="#231f20" stroke-width="1.5" />
<line x1="667.30" y1="136.60" x2="667.30" y2="140.80" stroke="#231f20" stroke-width="1.5" />
<text x="516.80" y="157.80" font-size="12" text-anchor="middle" fill="#231f20">10<tspan font-size="8" dx="0.8" dy="-3.96">-3</tspan></text>
<text x="546.90" y="157.80" font-size="12" text-anchor="middle" fill="#231f20">10<tspan font-size="8" dx="0.8" dy="-3.96">-2</tspan></text>
<text x="577.00" y="157.80" font-size="12" text-anchor="middle" fill="#231f20">10<tspan font-size="8" dx="0.8" dy="-3.96">-1</tspan></text>
<text x="607.10" y="157.80" font-size="12" text-anchor="middle" fill="#231f20">10<tspan font-size="8" dx="0.8" dy="-3.96">0</tspan></text>
<text x="637.20" y="157.80" font-size="12" text-anchor="middle" fill="#231f20">10<tspan font-size="8" dx="0.8" dy="-3.96">1</tspan></text>
<text x="667.30" y="157.80" font-size="12" text-anchor="middle" fill="#231f20">10<tspan font-size="8" dx="0.8" dy="-3.96">2</tspan></text>
<text x="496.80" y="171.40" font-size="13" fill="#231f20">Antibody concentration (µg/mL)</text>
<text x="489.70" y="170.80" font-size="13.3" fill="#231f20" transform="rotate(-90 489.70 170.80)">Relative light units (x10<tspan font-size="8.5" dy="-5">5</tspan><tspan dy="5">)</tspan></text>
<polyline points="537.84,114.54 539.34,114.50 540.85,114.46 542.35,114.42 543.86,114.37 545.36,114.32 546.87,114.27 548.37,114.21 549.88,114.16 551.38,114.10 552.89,114.04 554.39,113.98 555.90,113.92 557.40,113.86 558.91,113.80 560.41,113.74 561.92,113.68 563.42,113.63 564.93,113.57 566.43,113.52 567.94,113.47 569.44,113.42 570.95,113.38 572.45,113.34 573.96,113.30 575.46,113.26 576.97,113.22 578.47,113.19 579.98,113.16 581.48,113.14 582.99,113.11 584.49,113.09 586.00,113.07 587.50,113.05 589.01,113.03 590.51,113.02 592.02,113.00 593.52,112.99 595.03,112.98 596.53,112.97 598.04,112.96 599.54,112.95 601.05,112.94 602.55,112.93 604.06,112.93 605.56,112.92 607.07,112.92 608.57,112.91 610.08,112.91 611.58,112.91 613.09,112.90 614.59,112.90 616.10,112.90 617.60,112.90 619.11,112.89 620.61,112.89 622.12,112.89 623.62,112.89 625.13,112.89 626.63,112.89 628.14,112.89 629.64,112.88 631.15,112.88 632.65,112.88 634.16,112.88 635.66,112.88 637.17,112.88 638.67,112.88 640.18,112.88 641.68,112.88 643.19,112.88 644.69,112.88 646.20,112.88 647.70,112.88 649.21,112.88 650.71,112.88 652.22,112.88 653.72,112.88 655.23,112.88 656.73,112.88 658.24,112.88" stroke="#0a7f40" stroke-width="1.8" fill="none" stroke-linejoin="round" />
<polyline points="537.84,116.52 539.34,116.52 540.85,116.52 542.35,116.52 543.86,116.52 545.36,116.52 546.87,116.52 548.37,116.52 549.88,116.52 551.38,116.52 552.89,116.52 554.39,116.52 555.90,116.52 557.40,116.52 558.91,116.52 560.41,116.52 561.92,116.52 563.42,116.52 564.93,116.52 566.43,116.52 567.94,116.52 569.44,116.52 570.95,116.52 572.45,116.52 573.96,116.52 575.46,116.52 576.97,116.51 578.47,116.51 579.98,116.51 581.48,116.51 582.99,116.51 584.49,116.51 586.00,116.50 587.50,116.50 589.01,116.50 590.51,116.50 592.02,116.49 593.52,116.49 595.03,116.48 596.53,116.47 598.04,116.47 599.54,116.46 601.05,116.45 602.55,116.43 604.06,116.42 605.56,116.40 607.07,116.38 608.57,116.36 610.08,116.33 611.58,116.30 613.09,116.26 614.59,116.22 616.10,116.17 617.60,116.11 619.11,116.04 620.61,115.95 622.12,115.86 623.62,115.75 625.13,115.62 626.63,115.47 628.14,115.29 629.64,115.08 631.15,114.84 632.65,114.56 634.16,114.23 635.66,113.84 637.17,113.39 638.67,112.86 640.18,112.25 641.68,111.53 643.19,110.69 644.69,109.71 646.20,108.56 647.70,107.23 649.21,105.66 650.71,103.84 652.22,101.71 653.72,99.21 655.23,96.30 656.73,92.91 658.24,88.93" stroke="#231f20" stroke-width="1.8" fill="none" stroke-linejoin="round" />
<polyline points="537.84,113.73 539.34,113.46 540.85,113.16 542.35,112.84 543.86,112.47 545.36,112.07 546.87,111.62 548.37,111.13 549.88,110.59 551.38,109.99 552.89,109.34 554.39,108.62 555.90,107.84 557.40,107.00 558.91,106.07 560.41,105.08 561.92,104.01 563.42,102.86 564.93,101.63 566.43,100.32 567.94,98.94 569.44,97.48 570.95,95.96 572.45,94.38 573.96,92.74 575.46,91.05 576.97,89.33 578.47,87.58 579.98,85.82 581.48,84.05 582.99,82.29 584.49,80.55 586.00,78.85 587.50,77.18 589.01,75.56 590.51,74.00 592.02,72.50 593.52,71.08 595.03,69.73 596.53,68.45 598.04,67.25 599.54,66.14 601.05,65.09 602.55,64.13 604.06,63.24 605.56,62.42 607.07,61.66 608.57,60.97 610.08,60.34 611.58,59.77 613.09,59.25 614.59,58.77 616.10,58.35 617.60,57.96 619.11,57.61 620.61,57.30 622.12,57.01 623.62,56.76 625.13,56.53 626.63,56.32 628.14,56.14 629.64,55.97 631.15,55.82 632.65,55.69 634.16,55.57 635.66,55.47 637.17,55.37 638.67,55.29 640.18,55.21 641.68,55.14 643.19,55.08 644.69,55.03 646.20,54.98 647.70,54.94 649.21,54.90 650.71,54.86 652.22,54.83 653.72,54.81 655.23,54.78 656.73,54.76 658.24,54.74" stroke="#e3242b" stroke-width="1.8" fill="none" stroke-linejoin="round" />
<line x1="598.04" y1="61.56" x2="598.04" y2="74.67" stroke="#e3242b" stroke-width="1.5" />
<line x1="594.84" y1="61.56" x2="601.24" y2="61.56" stroke="#e3242b" stroke-width="1.5" />
<line x1="594.84" y1="74.67" x2="601.24" y2="74.67" stroke="#e3242b" stroke-width="1.5" />
<line x1="628.14" y1="54.58" x2="628.14" y2="71.24" stroke="#e3242b" stroke-width="1.5" />
<line x1="624.94" y1="54.58" x2="631.34" y2="54.58" stroke="#e3242b" stroke-width="1.5" />
<line x1="624.94" y1="71.24" x2="631.34" y2="71.24" stroke="#e3242b" stroke-width="1.5" />
<line x1="658.24" y1="37.20" x2="658.24" y2="57.91" stroke="#e3242b" stroke-width="1.5" />
<line x1="655.04" y1="37.20" x2="661.44" y2="37.20" stroke="#e3242b" stroke-width="1.5" />
<line x1="655.04" y1="57.91" x2="661.44" y2="57.91" stroke="#e3242b" stroke-width="1.5" />
<line x1="658.24" y1="72.59" x2="658.24" y2="105.80" stroke="#231f20" stroke-width="1.5" />
<line x1="655.04" y1="72.59" x2="661.44" y2="72.59" stroke="#231f20" stroke-width="1.5" />
<line x1="655.04" y1="105.80" x2="661.44" y2="105.80" stroke="#231f20" stroke-width="1.5" />
<rect x="534.24" y="111.36" width="7.20" height="7.20" fill="#0a7f40"/>
<rect x="564.34" y="109.80" width="7.20" height="7.20" fill="#0a7f40"/>
<rect x="594.44" y="109.28" width="7.20" height="7.20" fill="#0a7f40"/>
<rect x="624.54" y="109.28" width="7.20" height="7.20" fill="#0a7f40"/>
<rect x="654.64" y="109.28" width="7.20" height="7.20" fill="#0a7f40"/>
<circle cx="537.84" cy="116.52" r="3.50" fill="#231f20"/>
<circle cx="567.94" cy="116.52" r="3.50" fill="#231f20"/>
<circle cx="598.04" cy="116.52" r="3.50" fill="#231f20"/>
<circle cx="628.14" cy="116.52" r="3.50" fill="#231f20"/>
<circle cx="658.24" cy="89.25" r="3.50" fill="#231f20"/>
<polygon points="537.84,112.44 541.64,119.28 534.04,119.28" fill="#e3242b" stroke="none" stroke-width="1" />
<polygon points="567.94,94.75 571.74,101.59 564.14,101.59" fill="#e3242b" stroke="none" stroke-width="1" />
<polygon points="598.04,64.77 601.84,71.61 594.24,71.61" fill="#e3242b" stroke="none" stroke-width="1" />
<polygon points="628.14,60.39 631.94,67.23 624.34,67.23" fill="#e3242b" stroke="none" stroke-width="1" />
<polygon points="658.24,44.78 662.04,51.62 654.44,51.62" fill="#e3242b" stroke="none" stroke-width="1" />
<text x="599.80" y="64.16" font-size="17" text-anchor="middle" fill="#231f20">***</text>
<text x="627.50" y="53.76" font-size="17" text-anchor="middle" fill="#231f20">***</text>
<text x="663.50" y="37.05" font-size="17" text-anchor="middle" fill="#231f20">***</text>
<line x1="524.70" y1="27.30" x2="543.10" y2="27.30" stroke="#e3242b" stroke-width="1.9" />
<polygon points="533.90,23.74 537.70,30.58 530.10,30.58" fill="#e3242b" stroke="none" stroke-width="1" />
<text x="547.80" y="32.34" font-size="14" fill="#e3242b">3G8</text>
<line x1="524.70" y1="43.50" x2="543.10" y2="43.50" stroke="#231f20" stroke-width="1.9" />
<circle cx="533.90" cy="43.50" r="3.50" fill="#231f20"/>
<text x="547.80" y="48.54" font-size="14" fill="#231f20">Isotype</text>
<line x1="524.70" y1="59.50" x2="543.10" y2="59.50" stroke="#0a7f40" stroke-width="1.9" />
<rect x="530.30" y="55.90" width="7.20" height="7.20" fill="#0a7f40"/>
<text x="547.80" y="64.54" font-size="14" fill="#0a7f40">F9H4</text>
<text x="1.40" y="206.50" font-size="21" fill="#231f20" font-weight="bold" textLength="14.6" lengthAdjust="spacingAndGlyphs">D</text>
<line x1="58.40" y1="221.00" x2="58.40" y2="324.60" stroke="#231f20" stroke-width="1.5" />
<line x1="51.40" y1="221.00" x2="58.40" y2="221.00" stroke="#231f20" stroke-width="1.5" />
<text x="49.60" y="225.55" font-size="13" text-anchor="end" fill="#231f20">2.0</text>
<line x1="51.40" y1="246.90" x2="58.40" y2="246.90" stroke="#231f20" stroke-width="1.5" />
<text x="49.60" y="251.45" font-size="13" text-anchor="end" fill="#231f20">1.5</text>
<line x1="51.40" y1="272.80" x2="58.40" y2="272.80" stroke="#231f20" stroke-width="1.5" />
<text x="49.60" y="277.35" font-size="13" text-anchor="end" fill="#231f20">1.0</text>
<line x1="51.40" y1="298.70" x2="58.40" y2="298.70" stroke="#231f20" stroke-width="1.5" />
<text x="49.60" y="303.25" font-size="13" text-anchor="end" fill="#231f20">0.5</text>
<line x1="51.40" y1="324.60" x2="58.40" y2="324.60" stroke="#231f20" stroke-width="1.5" />
<text x="49.60" y="329.15" font-size="13" text-anchor="end" fill="#231f20">0.0</text>
<line x1="58.40" y1="324.60" x2="196.40" y2="324.60" stroke="#231f20" stroke-width="1.5" />
<line x1="58.40" y1="324.60" x2="58.40" y2="331.60" stroke="#231f20" stroke-width="1.5" />
<line x1="86.00" y1="324.60" x2="86.00" y2="331.60" stroke="#231f20" stroke-width="1.5" />
<line x1="113.60" y1="324.60" x2="113.60" y2="331.60" stroke="#231f20" stroke-width="1.5" />
<line x1="141.20" y1="324.60" x2="141.20" y2="331.60" stroke="#231f20" stroke-width="1.5" />
<line x1="168.80" y1="324.60" x2="168.80" y2="331.60" stroke="#231f20" stroke-width="1.5" />
<line x1="196.40" y1="324.60" x2="196.40" y2="331.60" stroke="#231f20" stroke-width="1.5" />
<text x="58.40" y="346.00" font-size="12" text-anchor="middle" fill="#231f20">10<tspan font-size="8" dx="0.8" dy="-3.96">-3</tspan></text>
<text x="86.00" y="346.00" font-size="12" text-anchor="middle" fill="#231f20">10<tspan font-size="8" dx="0.8" dy="-3.96">-2</tspan></text>
<text x="113.60" y="346.00" font-size="12" text-anchor="middle" fill="#231f20">10<tspan font-size="8" dx="0.8" dy="-3.96">-1</tspan></text>
<text x="141.20" y="346.00" font-size="12" text-anchor="middle" fill="#231f20">10<tspan font-size="8" dx="0.8" dy="-3.96">0</tspan></text>
<text x="168.80" y="346.00" font-size="12" text-anchor="middle" fill="#231f20">10<tspan font-size="8" dx="0.8" dy="-3.96">1</tspan></text>
<text x="196.40" y="346.00" font-size="12" text-anchor="middle" fill="#231f20">10<tspan font-size="8" dx="0.8" dy="-3.96">2</tspan></text>
<text x="119.00" y="218.70" font-size="14.5" text-anchor="middle" fill="#231f20">D1 + D2</text>
<polyline points="77.41,313.27 78.55,312.20 79.69,311.07 80.83,309.87 81.98,308.61 83.12,307.28 84.26,305.90 85.40,304.46 86.55,302.98 87.69,301.47 88.83,299.92 89.97,298.36 91.12,296.79 92.26,295.23 93.40,293.67 94.54,292.14 95.69,290.64 96.83,289.18 97.97,287.77 99.11,286.41 100.26,285.11 101.40,283.87 102.54,282.70 103.68,281.60 104.83,280.57 105.97,279.61 107.11,278.71 108.25,277.88 109.39,277.12 110.54,276.41 111.68,275.77 112.82,275.18 113.96,274.64 115.11,274.15 116.25,273.70 117.39,273.29 118.53,272.93 119.68,272.60 120.82,272.30 121.96,272.03 123.10,271.79 124.25,271.57 125.39,271.37 126.53,271.19 127.67,271.04 128.82,270.89 129.96,270.77 131.10,270.65 132.24,270.55 133.39,270.46 134.53,270.38 135.67,270.30 136.81,270.24 137.95,270.18 139.10,270.13 140.24,270.08 141.38,270.04 142.52,270.00 143.67,269.97 144.81,269.94 145.95,269.91 147.09,269.89 148.24,269.87 149.38,269.85 150.52,269.83 151.66,269.82 152.81,269.80 153.95,269.79 155.09,269.78 156.23,269.77 157.38,269.76 158.52,269.75 159.66,269.75 160.80,269.74 161.95,269.74 163.09,269.73 164.23,269.73 165.37,269.72 166.52,269.72 167.66,269.72 168.80,269.71" stroke="#0a7f40" stroke-width="2.0" fill="none" stroke-linejoin="round" />
<polyline points="77.41,314.33 78.55,313.90 79.69,313.44 80.83,312.94 81.98,312.41 83.12,311.83 84.26,311.22 85.40,310.56 86.55,309.85 87.69,309.09 88.83,308.28 89.97,307.42 91.12,306.50 92.26,305.52 93.40,304.48 94.54,303.39 95.69,302.23 96.83,301.01 97.97,299.72 99.11,298.37 100.26,296.96 101.40,295.49 102.54,293.96 103.68,292.37 104.83,290.73 105.97,289.04 107.11,287.30 108.25,285.52 109.39,283.70 110.54,281.85 111.68,279.97 112.82,278.08 113.96,276.17 115.11,274.26 116.25,272.35 117.39,270.46 118.53,268.57 119.68,266.71 120.82,264.88 121.96,263.09 123.10,261.33 124.25,259.62 125.39,257.96 126.53,256.35 127.67,254.80 128.82,253.31 129.96,251.87 131.10,250.50 132.24,249.20 133.39,247.95 134.53,246.77 135.67,245.65 136.81,244.59 137.95,243.59 139.10,242.65 140.24,241.77 141.38,240.94 142.52,240.17 143.67,239.44 144.81,238.76 145.95,238.13 147.09,237.54 148.24,236.99 149.38,236.48 150.52,236.01 151.66,235.57 152.81,235.16 153.95,234.78 155.09,234.43 156.23,234.11 157.38,233.81 158.52,233.53 159.66,233.28 160.80,233.04 161.95,232.83 163.09,232.63 164.23,232.44 165.37,232.27 166.52,232.11 167.66,231.97 168.80,231.84" stroke="#e62e7f" stroke-width="2.0" fill="none" stroke-linejoin="round" />
<polyline points="77.41,319.28 78.55,319.27 79.69,319.26 80.83,319.26 81.98,319.25 83.12,319.24 84.26,319.22 85.40,319.21 86.55,319.20 87.69,319.19 88.83,319.17 89.97,319.16 91.12,319.14 92.26,319.13 93.40,319.11 94.54,319.09 95.69,319.07 96.83,319.05 97.97,319.03 99.11,319.01 100.26,318.98 101.40,318.96 102.54,318.93 103.68,318.90 104.83,318.87 105.97,318.84 107.11,318.81 108.25,318.77 109.39,318.73 110.54,318.69 111.68,318.65 112.82,318.60 113.96,318.55 115.11,318.50 116.25,318.45 117.39,318.39 118.53,318.33 119.68,318.27 120.82,318.20 121.96,318.13 123.10,318.05 124.25,317.97 125.39,317.89 126.53,317.80 127.67,317.70 128.82,317.60 129.96,317.49 131.10,317.38 132.24,317.26 133.39,317.13 134.53,317.00 135.67,316.85 136.81,316.70 137.95,316.54 139.10,316.37 140.24,316.20 141.38,316.01 142.52,315.81 143.67,315.59 144.81,315.37 145.95,315.13 147.09,314.88 148.24,314.61 149.38,314.33 150.52,314.03 151.66,313.71 152.81,313.37 153.95,313.02 155.09,312.64 156.23,312.24 157.38,311.82 158.52,311.37 159.66,310.90 160.80,310.39 161.95,309.86 163.09,309.30 164.23,308.71 165.37,308.08 166.52,307.41 167.66,306.70 168.80,305.95" stroke="#231f20" stroke-width="2.0" fill="none" stroke-linejoin="round" />
<rect x="73.91" y="315.92" width="7.00" height="7.00" fill="#0a7f40"/>
<rect x="82.22" y="299.86" width="7.00" height="7.00" fill="#0a7f40"/>
<rect x="90.52" y="287.95" width="7.00" height="7.00" fill="#0a7f40"/>
<rect x="98.83" y="283.29" width="7.00" height="7.00" fill="#0a7f40"/>
<rect x="107.14" y="279.14" width="7.00" height="7.00" fill="#0a7f40"/>
<rect x="115.45" y="278.11" width="7.00" height="7.00" fill="#0a7f40"/>
<rect x="123.76" y="272.93" width="7.00" height="7.00" fill="#0a7f40"/>
<rect x="132.07" y="272.41" width="7.00" height="7.00" fill="#0a7f40"/>
<rect x="140.37" y="265.16" width="7.00" height="7.00" fill="#0a7f40"/>
<rect x="148.68" y="265.16" width="7.00" height="7.00" fill="#0a7f40"/>
<rect x="156.99" y="263.60" width="7.00" height="7.00" fill="#0a7f40"/>
<rect x="165.30" y="262.57" width="7.00" height="7.00" fill="#0a7f40"/>
<polygon points="77.41,309.41 80.91,315.71 73.91,315.71" fill="#e62e7f" stroke="none" stroke-width="1" />
<polygon points="85.72,305.78 89.22,312.08 82.22,312.08" fill="#e62e7f" stroke="none" stroke-width="1" />
<polygon points="94.02,301.64 97.52,307.94 90.52,307.94" fill="#e62e7f" stroke="none" stroke-width="1" />
<polygon points="102.33,289.21 105.83,295.51 98.83,295.51" fill="#e62e7f" stroke="none" stroke-width="1" />
<polygon points="110.64,279.37 114.14,285.67 107.14,285.67" fill="#e62e7f" stroke="none" stroke-width="1" />
<polygon points="118.95,265.90 122.45,272.20 115.45,272.20" fill="#e62e7f" stroke="none" stroke-width="1" />
<polygon points="127.26,257.09 130.76,263.39 123.76,263.39" fill="#e62e7f" stroke="none" stroke-width="1" />
<polygon points="135.57,247.77 139.07,254.07 132.07,254.07" fill="#e62e7f" stroke="none" stroke-width="1" />
<polygon points="143.87,237.93 147.37,244.23 140.37,244.23" fill="#e62e7f" stroke="none" stroke-width="1" />
<polygon points="152.18,235.85 155.68,242.15 148.68,242.15" fill="#e62e7f" stroke="none" stroke-width="1" />
<polygon points="160.49,229.12 163.99,235.42 156.99,235.42" fill="#e62e7f" stroke="none" stroke-width="1" />
<polygon points="168.80,224.98 172.30,231.28 165.30,231.28" fill="#e62e7f" stroke="none" stroke-width="1" />
<circle cx="77.41" cy="319.58" r="3.20" fill="#231f20"/>
<circle cx="85.72" cy="318.90" r="3.20" fill="#231f20"/>
<circle cx="94.02" cy="318.90" r="3.20" fill="#231f20"/>
<circle cx="102.33" cy="318.38" r="3.20" fill="#231f20"/>
<circle cx="110.64" cy="318.38" r="3.20" fill="#231f20"/>
<circle cx="118.95" cy="317.87" r="3.20" fill="#231f20"/>
<circle cx="127.26" cy="317.87" r="3.20" fill="#231f20"/>
<circle cx="135.57" cy="316.47" r="3.20" fill="#231f20"/>
<circle cx="143.87" cy="314.40" r="3.20" fill="#231f20"/>
<circle cx="152.18" cy="312.69" r="3.20" fill="#231f20"/>
<circle cx="160.49" cy="309.06" r="3.20" fill="#231f20"/>
<circle cx="168.80" cy="306.47" r="3.20" fill="#231f20"/>
<line x1="251.60" y1="221.25" x2="251.60" y2="324.60" stroke="#231f20" stroke-width="1.5" />
<line x1="244.60" y1="221.25" x2="251.60" y2="221.25" stroke="#231f20" stroke-width="1.5" />
<text x="242.80" y="225.80" font-size="13" text-anchor="end" fill="#231f20">1.5</text>
<line x1="244.60" y1="255.70" x2="251.60" y2="255.70" stroke="#231f20" stroke-width="1.5" />
<text x="242.80" y="260.25" font-size="13" text-anchor="end" fill="#231f20">1.0</text>
<line x1="244.60" y1="290.15" x2="251.60" y2="290.15" stroke="#231f20" stroke-width="1.5" />
<text x="242.80" y="294.70" font-size="13" text-anchor="end" fill="#231f20">0.5</text>
<line x1="244.60" y1="324.60" x2="251.60" y2="324.60" stroke="#231f20" stroke-width="1.5" />
<text x="242.80" y="329.15" font-size="13" text-anchor="end" fill="#231f20">0.0</text>
<line x1="251.60" y1="324.60" x2="389.10" y2="324.60" stroke="#231f20" stroke-width="1.5" />
<line x1="251.60" y1="324.60" x2="251.60" y2="331.60" stroke="#231f20" stroke-width="1.5" />
<line x1="279.10" y1="324.60" x2="279.10" y2="331.60" stroke="#231f20" stroke-width="1.5" />
<line x1="306.60" y1="324.60" x2="306.60" y2="331.60" stroke="#231f20" stroke-width="1.5" />
<line x1="334.10" y1="324.60" x2="334.10" y2="331.60" stroke="#231f20" stroke-width="1.5" />
<line x1="361.60" y1="324.60" x2="361.60" y2="331.60" stroke="#231f20" stroke-width="1.5" />
<line x1="389.10" y1="324.60" x2="389.10" y2="331.60" stroke="#231f20" stroke-width="1.5" />
<text x="251.60" y="346.00" font-size="12" text-anchor="middle" fill="#231f20">10<tspan font-size="8" dx="0.8" dy="-3.96">-3</tspan></text>
<text x="279.10" y="346.00" font-size="12" text-anchor="middle" fill="#231f20">10<tspan font-size="8" dx="0.8" dy="-3.96">-2</tspan></text>
<text x="306.60" y="346.00" font-size="12" text-anchor="middle" fill="#231f20">10<tspan font-size="8" dx="0.8" dy="-3.96">-1</tspan></text>
<text x="334.10" y="346.00" font-size="12" text-anchor="middle" fill="#231f20">10<tspan font-size="8" dx="0.8" dy="-3.96">0</tspan></text>
<text x="361.60" y="346.00" font-size="12" text-anchor="middle" fill="#231f20">10<tspan font-size="8" dx="0.8" dy="-3.96">1</tspan></text>
<text x="389.10" y="346.00" font-size="12" text-anchor="middle" fill="#231f20">10<tspan font-size="8" dx="0.8" dy="-3.96">2</tspan></text>
<text x="308.00" y="218.70" font-size="14.5" text-anchor="middle" fill="#231f20">D1</text>
<polyline points="270.54,312.55 271.68,312.39 272.81,312.23 273.95,312.05 275.09,311.85 276.23,311.64 277.37,311.42 278.51,311.18 279.64,310.93 280.78,310.65 281.92,310.37 283.06,310.06 284.20,309.74 285.34,309.40 286.47,309.05 287.61,308.68 288.75,308.29 289.89,307.89 291.03,307.48 292.17,307.05 293.30,306.62 294.44,306.17 295.58,305.72 296.72,305.27 297.86,304.81 299.00,304.35 300.13,303.89 301.27,303.43 302.41,302.98 303.55,302.54 304.69,302.11 305.82,301.68 306.96,301.27 308.10,300.88 309.24,300.49 310.38,300.13 311.52,299.77 312.65,299.44 313.79,299.12 314.93,298.82 316.07,298.53 317.21,298.26 318.35,298.01 319.48,297.78 320.62,297.56 321.76,297.35 322.90,297.16 324.04,296.98 325.18,296.82 326.31,296.66 327.45,296.52 328.59,296.39 329.73,296.27 330.87,296.16 332.00,296.06 333.14,295.96 334.28,295.88 335.42,295.80 336.56,295.73 337.70,295.66 338.83,295.60 339.97,295.55 341.11,295.49 342.25,295.45 343.39,295.41 344.53,295.37 345.66,295.33 346.80,295.30 347.94,295.27 349.08,295.24 350.22,295.22 351.36,295.20 352.49,295.18 353.63,295.16 354.77,295.14 355.91,295.13 357.05,295.11 358.19,295.10 359.32,295.09 360.46,295.08 361.60,295.07" stroke="#e62e7f" stroke-width="2.0" fill="none" stroke-linejoin="round" />
<polyline points="270.54,314.05 271.68,314.02 272.81,314.00 273.95,313.97 275.09,313.94 276.23,313.91 277.37,313.88 278.51,313.84 279.64,313.80 280.78,313.75 281.92,313.70 283.06,313.64 284.20,313.58 285.34,313.52 286.47,313.44 287.61,313.36 288.75,313.27 289.89,313.17 291.03,313.07 292.17,312.95 293.30,312.82 294.44,312.68 295.58,312.53 296.72,312.36 297.86,312.18 299.00,311.98 300.13,311.76 301.27,311.52 302.41,311.26 303.55,310.97 304.69,310.66 305.82,310.33 306.96,309.96 308.10,309.57 309.24,309.14 310.38,308.67 311.52,308.17 312.65,307.63 313.79,307.05 314.93,306.43 316.07,305.76 317.21,305.04 318.35,304.27 319.48,303.46 320.62,302.59 321.76,301.68 322.90,300.71 324.04,299.69 325.18,298.63 326.31,297.51 327.45,296.35 328.59,295.14 329.73,293.89 330.87,292.61 332.00,291.29 333.14,289.95 334.28,288.58 335.42,287.20 336.56,285.81 337.70,284.42 338.83,283.02 339.97,281.64 341.11,280.27 342.25,278.92 343.39,277.60 344.53,276.31 345.66,275.06 346.80,273.84 347.94,272.67 349.08,271.54 350.22,270.47 351.36,269.44 352.49,268.46 353.63,267.54 354.77,266.66 355.91,265.84 357.05,265.06 358.19,264.34 359.32,263.66 360.46,263.03 361.60,262.44" stroke="#0a7f40" stroke-width="2.0" fill="none" stroke-linejoin="round" />
<polyline points="270.54,314.27 271.68,314.27 272.81,314.27 273.95,314.27 275.09,314.27 276.23,314.27 277.37,314.27 278.51,314.27 279.64,314.27 280.78,314.27 281.92,314.27 283.06,314.27 284.20,314.27 285.34,314.27 286.47,314.27 287.61,314.27 288.75,314.27 289.89,314.27 291.03,314.27 292.17,314.27 293.30,314.27 294.44,314.27 295.58,314.27 296.72,314.27 297.86,314.27 299.00,314.27 300.13,314.27 301.27,314.27 302.41,314.27 303.55,314.27 304.69,314.27 305.82,314.27 306.96,314.27 308.10,314.27 309.24,314.27 310.38,314.27 311.52,314.27 312.65,314.27 313.79,314.27 314.93,314.27 316.07,314.27 317.21,314.27 318.35,314.27 319.48,314.27 320.62,314.27 321.76,314.27 322.90,314.27 324.04,314.27 325.18,314.27 326.31,314.27 327.45,314.27 328.59,314.27 329.73,314.27 330.87,314.27 332.00,314.27 333.14,314.27 334.28,314.27 335.42,314.27 336.56,314.27 337.70,314.27 338.83,314.27 339.97,314.27 341.11,314.27 342.25,314.27 343.39,314.27 344.53,314.27 345.66,314.27 346.80,314.27 347.94,314.27 349.08,314.27 350.22,314.27 351.36,314.27 352.49,314.27 353.63,314.27 354.77,314.27 355.91,314.27 357.05,314.27 358.19,314.27 359.32,314.27 360.46,314.27 361.60,314.27" stroke="#231f20" stroke-width="2.0" fill="none" stroke-linejoin="round" />
<polygon points="270.54,307.54 274.04,313.84 267.04,313.84" fill="#e62e7f" stroke="none" stroke-width="1" />
<polygon points="278.82,309.61 282.32,315.91 275.32,315.91" fill="#e62e7f" stroke="none" stroke-width="1" />
<polygon points="287.10,307.54 290.60,313.84 283.60,313.84" fill="#e62e7f" stroke="none" stroke-width="1" />
<polygon points="295.37,306.17 298.87,312.47 291.87,312.47" fill="#e62e7f" stroke="none" stroke-width="1" />
<polygon points="303.65,303.41 307.15,309.71 300.15,309.71" fill="#e62e7f" stroke="none" stroke-width="1" />
<polygon points="311.93,300.65 315.43,306.95 308.43,306.95" fill="#e62e7f" stroke="none" stroke-width="1" />
<polygon points="320.21,295.14 323.71,301.44 316.71,301.44" fill="#e62e7f" stroke="none" stroke-width="1" />
<polygon points="328.49,298.59 331.99,304.89 324.99,304.89" fill="#e62e7f" stroke="none" stroke-width="1" />
<polygon points="336.77,299.97 340.27,306.27 333.27,306.27" fill="#e62e7f" stroke="none" stroke-width="1" />
<polygon points="345.04,299.28 348.54,305.58 341.54,305.58" fill="#e62e7f" stroke="none" stroke-width="1" />
<polygon points="353.32,296.52 356.82,302.82 349.82,302.82" fill="#e62e7f" stroke="none" stroke-width="1" />
<polygon points="361.60,291.01 365.10,297.31 358.10,297.31" fill="#e62e7f" stroke="none" stroke-width="1" />
<rect x="267.04" y="309.39" width="7.00" height="7.00" fill="#0a7f40"/>
<rect x="275.32" y="310.08" width="7.00" height="7.00" fill="#0a7f40"/>
<rect x="283.60" y="310.77" width="7.00" height="7.00" fill="#0a7f40"/>
<rect x="291.87" y="309.39" width="7.00" height="7.00" fill="#0a7f40"/>
<rect x="300.15" y="303.88" width="7.00" height="7.00" fill="#0a7f40"/>
<rect x="308.43" y="301.12" width="7.00" height="7.00" fill="#0a7f40"/>
<rect x="316.71" y="300.43" width="7.00" height="7.00" fill="#0a7f40"/>
<rect x="324.99" y="296.99" width="7.00" height="7.00" fill="#0a7f40"/>
<rect x="333.27" y="285.27" width="7.00" height="7.00" fill="#0a7f40"/>
<rect x="341.54" y="268.05" width="7.00" height="7.00" fill="#0a7f40"/>
<rect x="349.82" y="259.78" width="7.00" height="7.00" fill="#0a7f40"/>
<rect x="358.10" y="258.40" width="7.00" height="7.00" fill="#0a7f40"/>
<circle cx="270.54" cy="317.71" r="3.20" fill="#231f20"/>
<circle cx="278.82" cy="314.27" r="3.20" fill="#231f20"/>
<circle cx="287.10" cy="314.95" r="3.20" fill="#231f20"/>
<circle cx="295.37" cy="316.33" r="3.20" fill="#231f20"/>
<circle cx="303.65" cy="314.27" r="3.20" fill="#231f20"/>
<circle cx="311.93" cy="314.27" r="3.20" fill="#231f20"/>
<circle cx="320.21" cy="314.95" r="3.20" fill="#231f20"/>
<circle cx="328.49" cy="314.27" r="3.20" fill="#231f20"/>
<circle cx="336.77" cy="314.95" r="3.20" fill="#231f20"/>
<circle cx="345.04" cy="303.93" r="3.20" fill="#231f20"/>
<circle cx="353.32" cy="314.95" r="3.20" fill="#231f20"/>
<circle cx="361.60" cy="317.02" r="3.20" fill="#231f20"/>
<line x1="447.00" y1="221.25" x2="447.00" y2="324.60" stroke="#231f20" stroke-width="1.5" />
<line x1="440.00" y1="221.25" x2="447.00" y2="221.25" stroke="#231f20" stroke-width="1.5" />
<text x="438.20" y="225.80" font-size="13" text-anchor="end" fill="#231f20">1.5</text>
<line x1="440.00" y1="255.70" x2="447.00" y2="255.70" stroke="#231f20" stroke-width="1.5" />
<text x="438.20" y="260.25" font-size="13" text-anchor="end" fill="#231f20">1.0</text>
<line x1="440.00" y1="290.15" x2="447.00" y2="290.15" stroke="#231f20" stroke-width="1.5" />
<text x="438.20" y="294.70" font-size="13" text-anchor="end" fill="#231f20">0.5</text>
<line x1="440.00" y1="324.60" x2="447.00" y2="324.60" stroke="#231f20" stroke-width="1.5" />
<text x="438.20" y="329.15" font-size="13" text-anchor="end" fill="#231f20">0.0</text>
<line x1="447.00" y1="324.60" x2="585.00" y2="324.60" stroke="#231f20" stroke-width="1.5" />
<line x1="447.00" y1="324.60" x2="447.00" y2="331.60" stroke="#231f20" stroke-width="1.5" />
<line x1="474.60" y1="324.60" x2="474.60" y2="331.60" stroke="#231f20" stroke-width="1.5" />
<line x1="502.20" y1="324.60" x2="502.20" y2="331.60" stroke="#231f20" stroke-width="1.5" />
<line x1="529.80" y1="324.60" x2="529.80" y2="331.60" stroke="#231f20" stroke-width="1.5" />
<line x1="557.40" y1="324.60" x2="557.40" y2="331.60" stroke="#231f20" stroke-width="1.5" />
<line x1="585.00" y1="324.60" x2="585.00" y2="331.60" stroke="#231f20" stroke-width="1.5" />
<text x="447.00" y="346.00" font-size="12" text-anchor="middle" fill="#231f20">10<tspan font-size="8" dx="0.8" dy="-3.96">-3</tspan></text>
<text x="474.60" y="346.00" font-size="12" text-anchor="middle" fill="#231f20">10<tspan font-size="8" dx="0.8" dy="-3.96">-2</tspan></text>
<text x="502.20" y="346.00" font-size="12" text-anchor="middle" fill="#231f20">10<tspan font-size="8" dx="0.8" dy="-3.96">-1</tspan></text>
<text x="529.80" y="346.00" font-size="12" text-anchor="middle" fill="#231f20">10<tspan font-size="8" dx="0.8" dy="-3.96">0</tspan></text>
<text x="557.40" y="346.00" font-size="12" text-anchor="middle" fill="#231f20">10<tspan font-size="8" dx="0.8" dy="-3.96">1</tspan></text>
<text x="585.00" y="346.00" font-size="12" text-anchor="middle" fill="#231f20">10<tspan font-size="8" dx="0.8" dy="-3.96">2</tspan></text>
<text x="503.00" y="218.70" font-size="14.5" text-anchor="middle" fill="#231f20">D2</text>
<polyline points="466.01,316.90 467.15,316.83 468.29,316.74 469.43,316.65 470.58,316.55 471.72,316.45 472.86,316.33 474.00,316.20 475.15,316.06 476.29,315.90 477.43,315.74 478.57,315.55 479.72,315.35 480.86,315.13 482.00,314.90 483.14,314.64 484.29,314.36 485.43,314.05 486.57,313.72 487.71,313.35 488.86,312.96 490.00,312.53 491.14,312.07 492.28,311.57 493.43,311.02 494.57,310.43 495.71,309.80 496.85,309.11 497.99,308.37 499.14,307.57 500.28,306.71 501.42,305.79 502.56,304.80 503.71,303.74 504.85,302.61 505.99,301.41 507.13,300.12 508.28,298.76 509.42,297.32 510.56,295.80 511.70,294.19 512.85,292.51 513.99,290.74 515.13,288.90 516.27,286.98 517.42,284.99 518.56,282.93 519.70,280.82 520.84,278.64 521.99,276.42 523.13,274.15 524.27,271.86 525.41,269.54 526.55,267.20 527.70,264.86 528.84,262.53 529.98,260.21 531.12,257.91 532.27,255.65 533.41,253.43 534.55,251.25 535.69,249.13 536.84,247.08 537.98,245.09 539.12,243.17 540.26,241.32 541.41,239.56 542.55,237.87 543.69,236.27 544.83,234.75 545.98,233.31 547.12,231.95 548.26,230.66 549.40,229.46 550.55,228.33 551.69,227.27 552.83,226.28 553.97,225.36 555.12,224.50 556.26,223.70 557.40,222.96" stroke="#e62e7f" stroke-width="2.0" fill="none" stroke-linejoin="round" />
<polyline points="466.01,305.29 467.15,305.29 468.29,305.29 469.43,305.29 470.58,305.29 471.72,305.29 472.86,305.28 474.00,305.28 475.15,305.28 476.29,305.28 477.43,305.27 478.57,305.27 479.72,305.27 480.86,305.26 482.00,305.26 483.14,305.26 484.29,305.25 485.43,305.25 486.57,305.24 487.71,305.23 488.86,305.23 490.00,305.22 491.14,305.21 492.28,305.20 493.43,305.19 494.57,305.18 495.71,305.17 496.85,305.16 497.99,305.15 499.14,305.13 500.28,305.12 501.42,305.10 502.56,305.08 503.71,305.06 504.85,305.04 505.99,305.02 507.13,304.99 508.28,304.96 509.42,304.93 510.56,304.90 511.70,304.86 512.85,304.82 513.99,304.78 515.13,304.73 516.27,304.68 517.42,304.62 518.56,304.56 519.70,304.50 520.84,304.42 521.99,304.34 523.13,304.26 524.27,304.16 525.41,304.06 526.55,303.95 527.70,303.83 528.84,303.69 529.98,303.55 531.12,303.39 532.27,303.22 533.41,303.03 534.55,302.83 535.69,302.61 536.84,302.37 537.98,302.10 539.12,301.81 540.26,301.50 541.41,301.16 542.55,300.79 543.69,300.39 544.83,299.94 545.98,299.46 547.12,298.94 548.26,298.37 549.40,297.75 550.55,297.07 551.69,296.33 552.83,295.53 553.97,294.65 555.12,293.70 556.26,292.66 557.40,291.53" stroke="#0a7f40" stroke-width="2.0" fill="none" stroke-linejoin="round" />
<polyline points="466.01,305.80 467.15,305.79 468.29,305.79 469.43,305.78 470.58,305.77 471.72,305.76 472.86,305.75 474.00,305.74 475.15,305.73 476.29,305.72 477.43,305.71 478.57,305.70 479.72,305.69 480.86,305.68 482.00,305.66 483.14,305.65 484.29,305.64 485.43,305.62 486.57,305.61 487.71,305.59 488.86,305.58 490.00,305.56 491.14,305.54 492.28,305.53 493.43,305.51 494.57,305.49 495.71,305.47 496.85,305.45 497.99,305.43 499.14,305.41 500.28,305.38 501.42,305.36 502.56,305.33 503.71,305.31 504.85,305.28 505.99,305.25 507.13,305.22 508.28,305.19 509.42,305.16 510.56,305.13 511.70,305.10 512.85,305.06 513.99,305.03 515.13,304.99 516.27,304.95 517.42,304.91 518.56,304.87 519.70,304.82 520.84,304.78 521.99,304.73 523.13,304.68 524.27,304.63 525.41,304.58 526.55,304.52 527.70,304.46 528.84,304.40 529.98,304.34 531.12,304.28 532.27,304.21 533.41,304.14 534.55,304.07 535.69,303.99 536.84,303.92 537.98,303.83 539.12,303.75 540.26,303.66 541.41,303.57 542.55,303.48 543.69,303.38 544.83,303.28 545.98,303.17 547.12,303.06 548.26,302.95 549.40,302.83 550.55,302.71 551.69,302.58 552.83,302.45 553.97,302.31 555.12,302.17 556.26,302.02 557.40,301.86" stroke="#231f20" stroke-width="2.0" fill="none" stroke-linejoin="round" />
<polygon points="466.01,312.37 469.51,318.67 462.51,318.67" fill="#e62e7f" stroke="none" stroke-width="1" />
<polygon points="474.32,310.99 477.82,317.29 470.82,317.29" fill="#e62e7f" stroke="none" stroke-width="1" />
<polygon points="482.62,308.92 486.12,315.22 479.12,315.22" fill="#e62e7f" stroke="none" stroke-width="1" />
<polygon points="490.93,304.10 494.43,310.40 487.43,310.40" fill="#e62e7f" stroke="none" stroke-width="1" />
<polygon points="499.24,300.65 502.74,306.95 495.74,306.95" fill="#e62e7f" stroke="none" stroke-width="1" />
<polygon points="507.55,293.07 511.05,299.38 504.05,299.38" fill="#e62e7f" stroke="none" stroke-width="1" />
<polygon points="515.86,279.98 519.36,286.28 512.36,286.28" fill="#e62e7f" stroke="none" stroke-width="1" />
<polygon points="524.17,265.51 527.67,271.81 520.67,271.81" fill="#e62e7f" stroke="none" stroke-width="1" />
<polygon points="532.47,252.42 535.97,258.72 528.97,258.72" fill="#e62e7f" stroke="none" stroke-width="1" />
<polygon points="540.78,244.16 544.28,250.46 537.28,250.46" fill="#e62e7f" stroke="none" stroke-width="1" />
<polygon points="549.09,224.86 552.59,231.16 545.59,231.16" fill="#e62e7f" stroke="none" stroke-width="1" />
<polygon points="557.40,218.66 560.90,224.96 553.90,224.96" fill="#e62e7f" stroke="none" stroke-width="1" />
<rect x="462.51" y="301.12" width="7.00" height="7.00" fill="#0a7f40"/>
<rect x="470.82" y="301.12" width="7.00" height="7.00" fill="#0a7f40"/>
<rect x="479.12" y="301.81" width="7.00" height="7.00" fill="#0a7f40"/>
<rect x="487.43" y="301.81" width="7.00" height="7.00" fill="#0a7f40"/>
<rect x="495.74" y="301.81" width="7.00" height="7.00" fill="#0a7f40"/>
<rect x="504.05" y="301.12" width="7.00" height="7.00" fill="#0a7f40"/>
<rect x="512.36" y="299.05" width="7.00" height="7.00" fill="#0a7f40"/>
<rect x="520.67" y="301.12" width="7.00" height="7.00" fill="#0a7f40"/>
<rect x="528.97" y="298.36" width="7.00" height="7.00" fill="#0a7f40"/>
<rect x="537.28" y="296.99" width="7.00" height="7.00" fill="#0a7f40"/>
<rect x="545.59" y="291.47" width="7.00" height="7.00" fill="#0a7f40"/>
<rect x="553.90" y="286.65" width="7.00" height="7.00" fill="#0a7f40"/>
<circle cx="466.01" cy="305.31" r="3.20" fill="#231f20"/>
<circle cx="474.32" cy="305.31" r="3.20" fill="#231f20"/>
<circle cx="482.62" cy="306.00" r="3.20" fill="#231f20"/>
<circle cx="490.93" cy="306.00" r="3.20" fill="#231f20"/>
<circle cx="499.24" cy="306.00" r="3.20" fill="#231f20"/>
<circle cx="507.55" cy="305.31" r="3.20" fill="#231f20"/>
<circle cx="515.86" cy="304.62" r="3.20" fill="#231f20"/>
<circle cx="524.17" cy="303.93" r="3.20" fill="#231f20"/>
<circle cx="532.47" cy="303.24" r="3.20" fill="#231f20"/>
<circle cx="540.78" cy="303.24" r="3.20" fill="#231f20"/>
<circle cx="549.09" cy="302.55" r="3.20" fill="#231f20"/>
<circle cx="557.40" cy="301.86" r="3.20" fill="#231f20"/>
<text x="20.10" y="351.20" font-size="14.5" fill="#231f20" transform="rotate(-90 20.10 351.20)">Absorbance (450 nm)</text>
<text x="48.80" y="363.70" font-size="14.5" fill="#231f20">Antibody concentration (µg/mL)</text>
<line x1="259.00" y1="359.90" x2="577.00" y2="359.90" stroke="#231f20" stroke-width="1.6" />
<polygon points="583.40,359.90 576.00,352.90 576.00,366.90" fill="#231f20" stroke="none" stroke-width="1" />
<line x1="577.60" y1="227.60" x2="596.00" y2="227.60" stroke="#231f20" stroke-width="1.9" />
<circle cx="586.80" cy="227.60" r="3.20" fill="#231f20"/>
<text x="601.00" y="232.82" font-size="14.5" fill="#231f20">Isotype</text>
<line x1="577.60" y1="247.70" x2="596.00" y2="247.70" stroke="#0a7f40" stroke-width="1.9" />
<rect x="583.10" y="244.00" width="7.40" height="7.40" fill="#0a7f40"/>
<text x="601.00" y="252.92" font-size="14.5" fill="#0a7f40">F9H4</text>
<line x1="577.60" y1="265.40" x2="596.00" y2="265.40" stroke="#e62e7f" stroke-width="1.9" />
<polygon points="586.80,261.84 590.60,268.68 583.00,268.68" fill="#e62e7f" stroke="none" stroke-width="1" />
<text x="601.00" y="270.62" font-size="14.5" fill="#e62e7f">Polyclonal</text>
<text x="1.50" y="393.80" font-size="21" fill="#231f20" font-weight="bold" textLength="13.6" lengthAdjust="spacingAndGlyphs">E</text>
<line x1="49.50" y1="390.70" x2="49.50" y2="523.00" stroke="#231f20" stroke-width="1.5" />
<line x1="42.50" y1="390.70" x2="49.50" y2="390.70" stroke="#231f20" stroke-width="1.5" />
<text x="40.20" y="395.43" font-size="13.5" text-anchor="end" fill="#231f20">15</text>
<line x1="42.50" y1="434.80" x2="49.50" y2="434.80" stroke="#231f20" stroke-width="1.5" />
<text x="40.20" y="439.53" font-size="13.5" text-anchor="end" fill="#231f20">10</text>
<line x1="42.50" y1="478.90" x2="49.50" y2="478.90" stroke="#231f20" stroke-width="1.5" />
<text x="40.20" y="483.62" font-size="13.5" text-anchor="end" fill="#231f20">5</text>
<line x1="42.50" y1="523.00" x2="49.50" y2="523.00" stroke="#231f20" stroke-width="1.5" />
<text x="40.20" y="527.73" font-size="13.5" text-anchor="end" fill="#231f20">0</text>
<line x1="49.50" y1="523.00" x2="152.00" y2="523.00" stroke="#231f20" stroke-width="1.5" />
<line x1="69.60" y1="523.00" x2="69.60" y2="530.20" stroke="#231f20" stroke-width="1.5" />
<line x1="100.50" y1="523.00" x2="100.50" y2="530.20" stroke="#231f20" stroke-width="1.5" />
<line x1="130.80" y1="523.00" x2="130.80" y2="530.20" stroke="#231f20" stroke-width="1.5" />
<rect x="90.7" y="508.18" width="19.6" height="14.82" fill="#037b42"/>
<rect x="120.8" y="415.66" width="20.1" height="107.34" fill="#037b42"/>
<rect x="59.8" y="522.61" width="19.6" height="0.6" fill="#037b42"/>
<text x="71.60" y="517.90" font-size="12" text-anchor="middle" fill="#231f20">0.01</text>
<text x="100.60" y="504.50" font-size="12" text-anchor="middle" fill="#231f20">1.68</text>
<text x="130.50" y="412.80" font-size="12.4" text-anchor="middle" fill="#231f20">12.17</text>
<text x="62.50" y="544.30" font-size="13" text-anchor="middle" fill="#231f20">D1+D2</text>
<text x="100.50" y="544.30" font-size="13" text-anchor="middle" fill="#231f20">D1</text>
<text x="130.80" y="544.30" font-size="13" text-anchor="middle" fill="#231f20">D2</text>
<text x="17.90" y="495.40" font-size="14.4" fill="#231f20" transform="rotate(-90 17.90 495.40)">EC<tspan font-size="8" dy="4.8">50</tspan><tspan dy="-4.8"> (µg/mL)</tspan></text>
<text x="168.90" y="393.40" font-size="21" fill="#231f20" font-weight="bold" textLength="12.4" lengthAdjust="spacingAndGlyphs">F</text>
<line x1="222.90" y1="387.20" x2="222.90" y2="525.00" stroke="#231f20" stroke-width="1.5" />
<line x1="215.90" y1="387.20" x2="222.90" y2="387.20" stroke="#231f20" stroke-width="1.5" />
<text x="213.50" y="391.75" font-size="13" text-anchor="end" fill="#231f20">2.5</text>
<line x1="215.90" y1="414.68" x2="222.90" y2="414.68" stroke="#231f20" stroke-width="1.5" />
<text x="213.50" y="419.23" font-size="13" text-anchor="end" fill="#231f20">2.0</text>
<line x1="215.90" y1="442.16" x2="222.90" y2="442.16" stroke="#231f20" stroke-width="1.5" />
<text x="213.50" y="446.71" font-size="13" text-anchor="end" fill="#231f20">1.5</text>
<line x1="215.90" y1="469.64" x2="222.90" y2="469.64" stroke="#231f20" stroke-width="1.5" />
<text x="213.50" y="474.19" font-size="13" text-anchor="end" fill="#231f20">1.0</text>
<line x1="215.90" y1="497.12" x2="222.90" y2="497.12" stroke="#231f20" stroke-width="1.5" />
<text x="213.50" y="501.67" font-size="13" text-anchor="end" fill="#231f20">0.5</text>
<line x1="215.90" y1="524.60" x2="222.90" y2="524.60" stroke="#231f20" stroke-width="1.5" />
<text x="213.50" y="529.15" font-size="13" text-anchor="end" fill="#231f20">0.0</text>
<line x1="222.90" y1="525.00" x2="378.00" y2="525.00" stroke="#231f20" stroke-width="1.5" />
<line x1="222.90" y1="525.00" x2="222.90" y2="531.50" stroke="#231f20" stroke-width="1.5" />
<line x1="253.92" y1="525.00" x2="253.92" y2="531.50" stroke="#231f20" stroke-width="1.5" />
<line x1="284.94" y1="525.00" x2="284.94" y2="531.50" stroke="#231f20" stroke-width="1.5" />
<line x1="315.96" y1="525.00" x2="315.96" y2="531.50" stroke="#231f20" stroke-width="1.5" />
<line x1="346.98" y1="525.00" x2="346.98" y2="531.50" stroke="#231f20" stroke-width="1.5" />
<line x1="378.00" y1="525.00" x2="378.00" y2="531.50" stroke="#231f20" stroke-width="1.5" />
<text x="222.90" y="546.40" font-size="12" text-anchor="middle" fill="#231f20">10<tspan font-size="8" dx="0.8" dy="-3.96">-3</tspan></text>
<text x="253.92" y="546.40" font-size="12" text-anchor="middle" fill="#231f20">10<tspan font-size="8" dx="0.8" dy="-3.96">-2</tspan></text>
<text x="284.94" y="546.40" font-size="12" text-anchor="middle" fill="#231f20">10<tspan font-size="8" dx="0.8" dy="-3.96">-1</tspan></text>
<text x="315.96" y="546.40" font-size="12" text-anchor="middle" fill="#231f20">10<tspan font-size="8" dx="0.8" dy="-3.96">0</tspan></text>
<text x="346.98" y="546.40" font-size="12" text-anchor="middle" fill="#231f20">10<tspan font-size="8" dx="0.8" dy="-3.96">1</tspan></text>
<text x="378.00" y="546.40" font-size="12" text-anchor="middle" fill="#231f20">10<tspan font-size="8" dx="0.8" dy="-3.96">2</tspan></text>
<polyline points="244.26,499.72 245.55,498.97 246.83,498.16 248.11,497.29 249.40,496.36 250.68,495.36 251.97,494.29 253.25,493.15 254.53,491.93 255.82,490.65 257.10,489.28 258.39,487.84 259.67,486.33 260.95,484.75 262.24,483.09 263.52,481.37 264.81,479.59 266.09,477.75 267.37,475.85 268.66,473.91 269.94,471.94 271.23,469.93 272.51,467.90 273.79,465.86 275.08,463.82 276.36,461.78 277.65,459.76 278.93,457.77 280.21,455.80 281.50,453.88 282.78,452.01 284.07,450.19 285.35,448.43 286.63,446.73 287.92,445.11 289.20,443.55 290.49,442.07 291.77,440.66 293.05,439.32 294.34,438.07 295.62,436.88 296.91,435.77 298.19,434.73 299.47,433.75 300.76,432.84 302.04,432.00 303.33,431.21 304.61,430.49 305.89,429.81 307.18,429.19 308.46,428.62 309.74,428.09 311.03,427.60 312.31,427.15 313.60,426.74 314.88,426.36 316.16,426.01 317.45,425.70 318.73,425.40 320.02,425.14 321.30,424.89 322.58,424.67 323.87,424.47 325.15,424.28 326.44,424.11 327.72,423.96 329.00,423.81 330.29,423.69 331.57,423.57 332.86,423.46 334.14,423.36 335.42,423.27 336.71,423.19 337.99,423.12 339.28,423.05 340.56,422.99 341.84,422.94 343.13,422.88 344.41,422.84 345.70,422.80 346.98,422.76" stroke="#3563b5" stroke-width="1.8" fill="none" stroke-linejoin="round" />
<polyline points="244.26,503.00 245.55,502.58 246.83,502.12 248.11,501.62 249.40,501.09 250.68,500.52 251.97,499.91 253.25,499.25 254.53,498.55 255.82,497.80 257.10,497.00 258.39,496.15 259.67,495.25 260.95,494.29 262.24,493.28 263.52,492.20 264.81,491.07 266.09,489.88 267.37,488.64 268.66,487.33 269.94,485.97 271.23,484.56 272.51,483.09 273.79,481.57 275.08,480.00 276.36,478.39 277.65,476.74 278.93,475.06 280.21,473.35 281.50,471.61 282.78,469.86 284.07,468.10 285.35,466.33 286.63,464.56 287.92,462.81 289.20,461.06 290.49,459.34 291.77,457.65 293.05,455.99 294.34,454.36 295.62,452.78 296.91,451.24 298.19,449.75 299.47,448.32 300.76,446.94 302.04,445.61 303.33,444.34 304.61,443.13 305.89,441.98 307.18,440.89 308.46,439.85 309.74,438.87 311.03,437.95 312.31,437.08 313.60,436.26 314.88,435.50 316.16,434.78 317.45,434.11 318.73,433.48 320.02,432.89 321.30,432.35 322.58,431.84 323.87,431.37 325.15,430.93 326.44,430.52 327.72,430.15 329.00,429.80 330.29,429.47 331.57,429.17 332.86,428.90 334.14,428.64 335.42,428.41 336.71,428.19 337.99,427.99 339.28,427.80 340.56,427.63 341.84,427.47 343.13,427.33 344.41,427.19 345.70,427.07 346.98,426.96" stroke="#d45fa6" stroke-width="1.8" fill="none" stroke-linejoin="round" />
<polyline points="244.26,502.06 245.55,500.31 246.83,498.44 248.11,496.45 249.40,494.34 250.68,492.12 251.97,489.80 253.25,487.40 254.53,484.92 255.82,482.38 257.10,479.80 258.39,477.19 259.67,474.59 260.95,472.01 262.24,469.47 263.52,466.98 264.81,464.56 266.09,462.23 267.37,460.00 268.66,457.88 269.94,455.88 271.23,454.00 272.51,452.24 273.79,450.60 275.08,449.09 276.36,447.70 277.65,446.42 278.93,445.25 280.21,444.19 281.50,443.23 282.78,442.35 284.07,441.56 285.35,440.85 286.63,440.22 287.92,439.64 289.20,439.13 290.49,438.67 291.77,438.26 293.05,437.90 294.34,437.57 295.62,437.28 296.91,437.02 298.19,436.79 299.47,436.59 300.76,436.41 302.04,436.25 303.33,436.11 304.61,435.98 305.89,435.87 307.18,435.77 308.46,435.68 309.74,435.61 311.03,435.54 312.31,435.48 313.60,435.42 314.88,435.38 316.16,435.33 317.45,435.30 318.73,435.26 320.02,435.24 321.30,435.21 322.58,435.19 323.87,435.17 325.15,435.15 326.44,435.13 327.72,435.12 329.00,435.11 330.29,435.10 331.57,435.09 332.86,435.08 334.14,435.07 335.42,435.07 336.71,435.06 337.99,435.05 339.28,435.05 340.56,435.05 341.84,435.04 343.13,435.04 344.41,435.04 345.70,435.03 346.98,435.03" stroke="#0a7f40" stroke-width="1.8" fill="none" stroke-linejoin="round" />
<polyline points="244.26,511.38 245.55,511.38 246.83,511.38 248.11,511.38 249.40,511.38 250.68,511.37 251.97,511.37 253.25,511.37 254.53,511.36 255.82,511.36 257.10,511.36 258.39,511.35 259.67,511.35 260.95,511.34 262.24,511.34 263.52,511.33 264.81,511.33 266.09,511.32 267.37,511.31 268.66,511.30 269.94,511.30 271.23,511.29 272.51,511.28 273.79,511.27 275.08,511.26 276.36,511.24 277.65,511.23 278.93,511.22 280.21,511.20 281.50,511.18 282.78,511.17 284.07,511.15 285.35,511.13 286.63,511.10 287.92,511.08 289.20,511.05 290.49,511.03 291.77,511.00 293.05,510.96 294.34,510.93 295.62,510.89 296.91,510.85 298.19,510.80 299.47,510.76 300.76,510.70 302.04,510.65 303.33,510.59 304.61,510.52 305.89,510.45 307.18,510.38 308.46,510.29 309.74,510.21 311.03,510.11 312.31,510.01 313.60,509.90 314.88,509.78 316.16,509.65 317.45,509.51 318.73,509.36 320.02,509.19 321.30,509.02 322.58,508.83 323.87,508.62 325.15,508.40 326.44,508.16 327.72,507.91 329.00,507.63 330.29,507.33 331.57,507.01 332.86,506.66 334.14,506.28 335.42,505.88 336.71,505.44 337.99,504.96 339.28,504.45 340.56,503.90 341.84,503.31 343.13,502.67 344.41,501.97 345.70,501.22 346.98,500.42" stroke="#231f20" stroke-width="1.8" fill="none" stroke-linejoin="round" />
<circle cx="244.26" cy="511.41" r="3.30" fill="#231f20"/>
<circle cx="253.60" cy="512.51" r="3.30" fill="#231f20"/>
<circle cx="262.94" cy="511.41" r="3.30" fill="#231f20"/>
<circle cx="272.28" cy="510.86" r="3.30" fill="#231f20"/>
<circle cx="281.61" cy="513.61" r="3.30" fill="#231f20"/>
<circle cx="290.95" cy="508.11" r="3.30" fill="#231f20"/>
<circle cx="300.29" cy="508.66" r="3.30" fill="#231f20"/>
<circle cx="309.63" cy="510.31" r="3.30" fill="#231f20"/>
<circle cx="318.97" cy="510.31" r="3.30" fill="#231f20"/>
<circle cx="328.30" cy="507.01" r="3.30" fill="#231f20"/>
<circle cx="337.64" cy="509.21" r="3.30" fill="#231f20"/>
<circle cx="346.98" cy="500.42" r="3.30" fill="#231f20"/>
<rect x="240.96" y="508.11" width="6.60" height="6.60" fill="#0a7f40"/>
<rect x="250.30" y="470.19" width="6.60" height="6.60" fill="#0a7f40"/>
<rect x="259.64" y="469.09" width="6.60" height="6.60" fill="#0a7f40"/>
<rect x="268.98" y="455.35" width="6.60" height="6.60" fill="#0a7f40"/>
<rect x="278.31" y="449.30" width="6.60" height="6.60" fill="#0a7f40"/>
<rect x="287.65" y="442.71" width="6.60" height="6.60" fill="#0a7f40"/>
<rect x="296.99" y="437.76" width="6.60" height="6.60" fill="#0a7f40"/>
<rect x="306.33" y="432.26" width="6.60" height="6.60" fill="#0a7f40"/>
<rect x="315.67" y="427.87" width="6.60" height="6.60" fill="#0a7f40"/>
<rect x="325.00" y="436.66" width="6.60" height="6.60" fill="#0a7f40"/>
<rect x="334.34" y="435.56" width="6.60" height="6.60" fill="#0a7f40"/>
<rect x="343.68" y="432.26" width="6.60" height="6.60" fill="#0a7f40"/>
<polygon points="244.26,498.24 247.76,504.54 240.76,504.54" fill="#d45fa6" stroke="none" stroke-width="1" />
<polygon points="253.60,485.60 257.10,491.90 250.10,491.90" fill="#d45fa6" stroke="none" stroke-width="1" />
<polygon points="262.94,490.55 266.44,496.85 259.44,496.85" fill="#d45fa6" stroke="none" stroke-width="1" />
<polygon points="272.28,480.10 275.78,486.40 268.78,486.40" fill="#d45fa6" stroke="none" stroke-width="1" />
<polygon points="281.61,470.21 285.11,476.51 278.11,476.51" fill="#d45fa6" stroke="none" stroke-width="1" />
<polygon points="290.95,457.02 294.45,463.32 287.45,463.32" fill="#d45fa6" stroke="none" stroke-width="1" />
<polygon points="300.29,445.48 303.79,451.78 296.79,451.78" fill="#d45fa6" stroke="none" stroke-width="1" />
<polygon points="309.63,439.98 313.13,446.28 306.13,446.28" fill="#d45fa6" stroke="none" stroke-width="1" />
<polygon points="318.97,434.49 322.47,440.79 315.47,440.79" fill="#d45fa6" stroke="none" stroke-width="1" />
<polygon points="328.30,427.89 331.80,434.19 324.80,434.19" fill="#d45fa6" stroke="none" stroke-width="1" />
<polygon points="337.64,428.44 341.14,434.74 334.14,434.74" fill="#d45fa6" stroke="none" stroke-width="1" />
<polygon points="346.98,417.45 350.48,423.75 343.48,423.75" fill="#d45fa6" stroke="none" stroke-width="1" />
<polygon points="244.26,505.89 247.76,499.59 240.76,499.59" fill="#3563b5" stroke="none" stroke-width="1" />
<polygon points="253.60,497.65 257.10,491.35 250.10,491.35" fill="#3563b5" stroke="none" stroke-width="1" />
<polygon points="262.94,490.50 266.44,484.20 259.44,484.20" fill="#3563b5" stroke="none" stroke-width="1" />
<polygon points="272.28,471.27 275.78,464.97 268.78,464.97" fill="#3563b5" stroke="none" stroke-width="1" />
<polygon points="281.61,459.18 285.11,452.88 278.11,452.88" fill="#3563b5" stroke="none" stroke-width="1" />
<polygon points="290.95,421.25 294.45,414.95 287.45,414.95" fill="#3563b5" stroke="none" stroke-width="1" />
<polygon points="300.29,445.44 303.79,439.14 296.79,439.14" fill="#3563b5" stroke="none" stroke-width="1" />
<polygon points="309.63,443.24 313.13,436.94 306.13,436.94" fill="#3563b5" stroke="none" stroke-width="1" />
<polygon points="318.97,434.44 322.47,428.14 315.47,428.14" fill="#3563b5" stroke="none" stroke-width="1" />
<polygon points="328.30,419.60 331.80,413.30 324.80,413.30" fill="#3563b5" stroke="none" stroke-width="1" />
<polygon points="337.64,429.50 341.14,423.20 334.14,423.20" fill="#3563b5" stroke="none" stroke-width="1" />
<polygon points="346.98,415.21 350.48,408.91 343.48,408.91" fill="#3563b5" stroke="none" stroke-width="1" />
<text x="186.00" y="538.80" font-size="14.5" fill="#231f20" transform="rotate(-90 186.00 538.80)">Absorbance (450 nm)</text>
<text x="279.30" y="562.80" font-size="14.5" fill="#231f20">Antibody or fragment concentrations (µg/mL)</text>
<text x="381.90" y="391.40" font-size="19.5" fill="#231f20" font-weight="bold">G</text>
<line x1="463.50" y1="387.40" x2="463.50" y2="524.90" stroke="#231f20" stroke-width="1.5" />
<line x1="456.00" y1="387.40" x2="463.50" y2="387.40" stroke="#231f20" stroke-width="1.5" />
<text x="454.30" y="391.95" font-size="13" text-anchor="end" fill="#231f20">25000</text>
<line x1="456.00" y1="414.90" x2="463.50" y2="414.90" stroke="#231f20" stroke-width="1.5" />
<text x="454.30" y="419.45" font-size="13" text-anchor="end" fill="#231f20">20000</text>
<line x1="456.00" y1="442.40" x2="463.50" y2="442.40" stroke="#231f20" stroke-width="1.5" />
<text x="454.30" y="446.95" font-size="13" text-anchor="end" fill="#231f20">15000</text>
<line x1="456.00" y1="469.90" x2="463.50" y2="469.90" stroke="#231f20" stroke-width="1.5" />
<text x="454.30" y="474.45" font-size="13" text-anchor="end" fill="#231f20">10000</text>
<line x1="456.00" y1="497.40" x2="463.50" y2="497.40" stroke="#231f20" stroke-width="1.5" />
<text x="454.30" y="501.95" font-size="13" text-anchor="end" fill="#231f20">5000</text>
<line x1="456.00" y1="524.90" x2="463.50" y2="524.90" stroke="#231f20" stroke-width="1.5" />
<text x="454.30" y="529.45" font-size="13" text-anchor="end" fill="#231f20">0</text>
<line x1="463.50" y1="524.90" x2="618.90" y2="524.90" stroke="#231f20" stroke-width="1.5" />
<line x1="463.70" y1="524.90" x2="463.70" y2="531.40" stroke="#231f20" stroke-width="1.5" />
<line x1="502.50" y1="524.90" x2="502.50" y2="531.40" stroke="#231f20" stroke-width="1.5" />
<line x1="541.30" y1="524.90" x2="541.30" y2="531.40" stroke="#231f20" stroke-width="1.5" />
<line x1="580.10" y1="524.90" x2="580.10" y2="531.40" stroke="#231f20" stroke-width="1.5" />
<line x1="618.90" y1="524.90" x2="618.90" y2="531.40" stroke="#231f20" stroke-width="1.5" />
<text x="463.70" y="546.40" font-size="12" text-anchor="middle" fill="#231f20">10<tspan font-size="8" dx="0.8" dy="-3.96">-2</tspan></text>
<text x="502.50" y="546.40" font-size="12" text-anchor="middle" fill="#231f20">10<tspan font-size="8" dx="0.8" dy="-3.96">-1</tspan></text>
<text x="541.30" y="546.40" font-size="12" text-anchor="middle" fill="#231f20">10<tspan font-size="8" dx="0.8" dy="-3.96">0</tspan></text>
<text x="580.10" y="546.40" font-size="12" text-anchor="middle" fill="#231f20">10<tspan font-size="8" dx="0.8" dy="-3.96">1</tspan></text>
<text x="618.90" y="546.40" font-size="12" text-anchor="middle" fill="#231f20">10<tspan font-size="8" dx="0.8" dy="-3.96">2</tspan></text>
<polyline points="498.34,495.18 499.36,495.20 500.38,495.21 501.41,495.23 502.43,495.25 503.45,495.26 504.47,495.28 505.49,495.30 506.52,495.32 507.54,495.35 508.56,495.37 509.58,495.40 510.60,495.42 511.63,495.45 512.65,495.48 513.67,495.51 514.69,495.54 515.71,495.58 516.74,495.61 517.76,495.65 518.78,495.69 519.80,495.74 520.82,495.78 521.85,495.83 522.87,495.88 523.89,495.94 524.91,495.99 525.93,496.05 526.96,496.12 527.98,496.18 529.00,496.25 530.02,496.33 531.04,496.41 532.07,496.49 533.09,496.58 534.11,496.67 535.13,496.77 536.15,496.87 537.18,496.98 538.20,497.10 539.22,497.22 540.24,497.35 541.26,497.48 542.29,497.63 543.31,497.78 544.33,497.94 545.35,498.11 546.37,498.28 547.40,498.47 548.42,498.67 549.44,498.88 550.46,499.10 551.48,499.34 552.51,499.59 553.53,499.85 554.55,500.12 555.57,500.42 556.59,500.72 557.62,501.05 558.64,501.39 559.66,501.76 560.68,502.14 561.70,502.54 562.73,502.97 563.75,503.42 564.77,503.90 565.79,504.40 566.81,504.93 567.84,505.50 568.86,506.09 569.88,506.71 570.90,507.38 571.92,508.07 572.95,508.81 573.97,509.59 574.99,510.41 576.01,511.28 577.03,512.20 578.06,513.17 579.08,514.19 580.10,515.27" stroke="#3563b5" stroke-width="1.8" fill="none" stroke-linejoin="round" />
<polyline points="498.34,499.24 499.36,499.25 500.38,499.26 501.41,499.28 502.43,499.29 503.45,499.31 504.47,499.32 505.49,499.34 506.52,499.36 507.54,499.38 508.56,499.40 509.58,499.42 510.60,499.44 511.63,499.47 512.65,499.49 513.67,499.52 514.69,499.55 515.71,499.58 516.74,499.61 517.76,499.65 518.78,499.69 519.80,499.73 520.82,499.77 521.85,499.81 522.87,499.86 523.89,499.91 524.91,499.97 525.93,500.02 526.96,500.08 527.98,500.15 529.00,500.22 530.02,500.29 531.04,500.37 532.07,500.45 533.09,500.54 534.11,500.63 535.13,500.73 536.15,500.83 537.18,500.94 538.20,501.06 539.22,501.19 540.24,501.32 541.26,501.46 542.29,501.62 543.31,501.78 544.33,501.95 545.35,502.13 546.37,502.32 547.40,502.52 548.42,502.74 549.44,502.97 550.46,503.22 551.48,503.48 552.51,503.76 553.53,504.05 554.55,504.36 555.57,504.69 556.59,505.05 557.62,505.42 558.64,505.82 559.66,506.24 560.68,506.69 561.70,507.17 562.73,507.68 563.75,508.22 564.77,508.79 565.79,509.40 566.81,510.05 567.84,510.74 568.86,511.47 569.88,512.25 570.90,513.07 571.92,513.95 572.95,514.88 573.97,515.87 574.99,516.92 576.01,518.04 577.03,519.22 578.06,520.49 579.08,521.83 580.10,523.25" stroke="#d45fa6" stroke-width="1.8" fill="none" stroke-linejoin="round" />
<polyline points="498.34,506.07 499.36,506.08 500.38,506.09 501.41,506.09 502.43,506.10 503.45,506.11 504.47,506.12 505.49,506.12 506.52,506.13 507.54,506.14 508.56,506.15 509.58,506.16 510.60,506.17 511.63,506.18 512.65,506.19 513.67,506.20 514.69,506.22 515.71,506.23 516.74,506.24 517.76,506.26 518.78,506.27 519.80,506.28 520.82,506.30 521.85,506.32 522.87,506.33 523.89,506.35 524.91,506.37 525.93,506.39 526.96,506.41 527.98,506.43 529.00,506.45 530.02,506.47 531.04,506.50 532.07,506.52 533.09,506.55 534.11,506.58 535.13,506.60 536.15,506.63 537.18,506.66 538.20,506.70 539.22,506.73 540.24,506.77 541.26,506.80 542.29,506.84 543.31,506.88 544.33,506.92 545.35,506.96 546.37,507.01 547.40,507.06 548.42,507.10 549.44,507.16 550.46,507.21 551.48,507.27 552.51,507.32 553.53,507.38 554.55,507.45 555.57,507.51 556.59,507.58 557.62,507.65 558.64,507.73 559.66,507.81 560.68,507.89 561.70,507.97 562.73,508.06 563.75,508.16 564.77,508.25 565.79,508.35 566.81,508.46 567.84,508.57 568.86,508.68 569.88,508.80 570.90,508.93 571.92,509.06 572.95,509.19 573.97,509.34 574.99,509.48 576.01,509.64 577.03,509.80 578.06,509.97 579.08,510.14 580.10,510.32" stroke="#231f20" stroke-width="1.8" fill="none" stroke-linejoin="round" />
<polyline points="498.34,501.04 499.36,500.83 500.38,500.61 501.41,500.38 502.43,500.13 503.45,499.87 504.47,499.59 505.49,499.29 506.52,498.97 507.54,498.63 508.56,498.27 509.58,497.89 510.60,497.48 511.63,497.06 512.65,496.60 513.67,496.12 514.69,495.61 515.71,495.08 516.74,494.51 517.76,493.91 518.78,493.28 519.80,492.62 520.82,491.93 521.85,491.20 522.87,490.43 523.89,489.63 524.91,488.80 525.93,487.93 526.96,487.02 527.98,486.07 529.00,485.09 530.02,484.07 531.04,483.02 532.07,481.93 533.09,480.81 534.11,479.66 535.13,478.48 536.15,477.26 537.18,476.02 538.20,474.76 539.22,473.47 540.24,472.17 541.26,470.84 542.29,469.51 543.31,468.16 544.33,466.80 545.35,465.44 546.37,464.08 547.40,462.72 548.42,461.37 549.44,460.02 550.46,458.69 551.48,457.37 552.51,456.07 553.53,454.79 554.55,453.53 555.57,452.30 556.59,451.09 557.62,449.92 558.64,448.77 559.66,447.66 560.68,446.58 561.70,445.54 562.73,444.53 563.75,443.56 564.77,442.63 565.79,441.73 566.81,440.87 567.84,440.04 568.86,439.25 569.88,438.50 570.90,437.78 571.92,437.09 572.95,436.44 573.97,435.82 574.99,435.23 576.01,434.67 577.03,434.14 578.06,433.64 579.08,433.17 580.10,432.72" stroke="#0a7f40" stroke-width="1.8" fill="none" stroke-linejoin="round" />
<line x1="568.42" y1="452.85" x2="568.42" y2="464.12" stroke="#0a7f40" stroke-width="1.4" />
<line x1="565.42" y1="452.85" x2="571.42" y2="452.85" stroke="#0a7f40" stroke-width="1.4" />
<line x1="565.42" y1="464.12" x2="571.42" y2="464.12" stroke="#0a7f40" stroke-width="1.4" />
<line x1="580.10" y1="412.15" x2="580.10" y2="432.50" stroke="#0a7f40" stroke-width="1.4" />
<line x1="577.10" y1="412.15" x2="583.10" y2="412.15" stroke="#0a7f40" stroke-width="1.4" />
<line x1="577.10" y1="432.50" x2="583.10" y2="432.50" stroke="#0a7f40" stroke-width="1.4" />
<polygon points="498.34,504.39 502.04,511.05 494.64,511.05" fill="#d45fa6" stroke="none" stroke-width="1" />
<polygon points="510.02,497.24 513.72,503.90 506.32,503.90" fill="#d45fa6" stroke="none" stroke-width="1" />
<polygon points="521.70,495.04 525.40,501.70 518.00,501.70" fill="#d45fa6" stroke="none" stroke-width="1" />
<polygon points="533.38,489.76 537.08,496.42 529.68,496.42" fill="#d45fa6" stroke="none" stroke-width="1" />
<polygon points="545.06,490.36 548.76,497.02 541.36,497.02" fill="#d45fa6" stroke="none" stroke-width="1" />
<polygon points="556.74,503.29 560.44,509.95 553.04,509.95" fill="#d45fa6" stroke="none" stroke-width="1" />
<polygon points="568.42,516.76 572.12,523.42 564.72,523.42" fill="#d45fa6" stroke="none" stroke-width="1" />
<polygon points="580.10,519.79 583.80,526.45 576.40,526.45" fill="#d45fa6" stroke="none" stroke-width="1" />
<polygon points="498.34,510.76 502.04,504.10 494.64,504.10" fill="#3563b5" stroke="none" stroke-width="1" />
<polygon points="510.02,500.86 513.72,494.20 506.32,494.20" fill="#3563b5" stroke="none" stroke-width="1" />
<polygon points="521.70,499.76 525.40,493.10 518.00,493.10" fill="#3563b5" stroke="none" stroke-width="1" />
<polygon points="533.38,490.41 537.08,483.75 529.68,483.75" fill="#3563b5" stroke="none" stroke-width="1" />
<polygon points="545.06,486.29 548.76,479.63 541.36,479.63" fill="#3563b5" stroke="none" stroke-width="1" />
<polygon points="556.74,504.99 560.44,498.33 553.04,498.33" fill="#3563b5" stroke="none" stroke-width="1" />
<polygon points="568.42,515.16 572.12,508.50 564.72,508.50" fill="#3563b5" stroke="none" stroke-width="1" />
<polygon points="580.10,519.56 583.80,512.90 576.40,512.90" fill="#3563b5" stroke="none" stroke-width="1" />
<circle cx="498.34" cy="506.31" r="3.60" fill="#231f20"/>
<circle cx="510.02" cy="506.20" r="3.60" fill="#231f20"/>
<circle cx="521.70" cy="506.20" r="3.60" fill="#231f20"/>
<circle cx="533.38" cy="505.92" r="3.60" fill="#231f20"/>
<circle cx="545.06" cy="505.65" r="3.60" fill="#231f20"/>
<circle cx="556.74" cy="511.31" r="3.60" fill="#231f20"/>
<circle cx="568.42" cy="510.60" r="3.60" fill="#231f20"/>
<circle cx="580.10" cy="510.88" r="3.60" fill="#231f20"/>
<rect x="494.84" y="503.25" width="7.00" height="7.00" fill="#0a7f40"/>
<rect x="506.52" y="495.30" width="7.00" height="7.00" fill="#0a7f40"/>
<rect x="518.20" y="482.90" width="7.00" height="7.00" fill="#0a7f40"/>
<rect x="529.88" y="477.20" width="7.00" height="7.00" fill="#0a7f40"/>
<rect x="541.56" y="459.00" width="7.00" height="7.00" fill="#0a7f40"/>
<rect x="553.24" y="457.60" width="7.00" height="7.00" fill="#0a7f40"/>
<rect x="564.92" y="455.01" width="7.00" height="7.00" fill="#0a7f40"/>
<rect x="576.60" y="419.10" width="7.00" height="7.00" fill="#0a7f40"/>
<text x="512.30" y="487.94" font-size="16" text-anchor="middle" fill="#231f20">***</text>
<text x="528.50" y="478.64" font-size="16" text-anchor="middle" fill="#231f20">***</text>
<text x="530.20" y="465.54" font-size="16" text-anchor="middle" fill="#231f20">***</text>
<text x="543.10" y="459.24" font-size="16" text-anchor="middle" fill="#231f20">***</text>
<text x="553.50" y="451.64" font-size="16" text-anchor="middle" fill="#231f20">***</text>
<text x="562.80" y="428.14" font-size="16" text-anchor="middle" fill="#231f20">***</text>
<text x="399.30" y="524.30" font-size="14.3" fill="#231f20" transform="rotate(-90 399.30 524.30)">CD16a expression</text>
<text x="414.80" y="481.90" font-size="14.0" fill="#231f20" transform="rotate(-90 414.80 481.90)">(MFI)</text>
<line x1="590.00" y1="401.10" x2="608.40" y2="401.10" stroke="#231f20" stroke-width="1.9" />
<circle cx="599.20" cy="401.10" r="3.50" fill="#231f20"/>
<text x="612.00" y="406.28" font-size="14.4" fill="#231f20">Isotype</text>
<line x1="590.00" y1="425.20" x2="608.40" y2="425.20" stroke="#0a7f40" stroke-width="1.9" />
<rect x="595.90" y="421.90" width="6.60" height="6.60" fill="#0a7f40"/>
<text x="612.00" y="430.38" font-size="14.4" fill="#0a7f40">F9H4</text>
<line x1="590.00" y1="448.60" x2="608.40" y2="448.60" stroke="#d45fa6" stroke-width="1.9" />
<polygon points="599.20,445.14 602.90,451.80 595.50,451.80" fill="#d45fa6" stroke="none" stroke-width="1" />
<text x="612.00" y="453.78" font-size="14.4" fill="#d45fa6">F9H4 Fab</text>
<line x1="590.00" y1="471.60" x2="608.40" y2="471.60" stroke="#3563b5" stroke-width="1.9" />
<polygon points="599.20,475.06 602.90,468.40 595.50,468.40" fill="#3563b5" stroke="none" stroke-width="1" />
<text x="612.00" y="476.78" font-size="14.4" fill="#3563b5">F9H4 Fab2</text>
<text x="1.10" y="597.80" font-size="21.5" fill="#231f20" font-weight="bold">H</text>
<line x1="47.30" y1="606.49" x2="47.30" y2="727.30" stroke="#231f20" stroke-width="1.5" />
<line x1="42.50" y1="606.49" x2="47.30" y2="606.49" stroke="#231f20" stroke-width="1.5" />
<text x="40.40" y="611.04" font-size="13" text-anchor="end" fill="#231f20">3.0</text>
<line x1="42.50" y1="646.66" x2="47.30" y2="646.66" stroke="#231f20" stroke-width="1.5" />
<text x="40.40" y="651.21" font-size="13" text-anchor="end" fill="#231f20">2.0</text>
<line x1="42.50" y1="686.83" x2="47.30" y2="686.83" stroke="#231f20" stroke-width="1.5" />
<text x="40.40" y="691.38" font-size="13" text-anchor="end" fill="#231f20">1.0</text>
<line x1="42.50" y1="727.00" x2="47.30" y2="727.00" stroke="#231f20" stroke-width="1.5" />
<text x="40.40" y="731.55" font-size="13" text-anchor="end" fill="#231f20">0.0</text>
<line x1="47.30" y1="727.30" x2="214.81" y2="727.30" stroke="#231f20" stroke-width="1.5" />
<line x1="47.30" y1="727.30" x2="47.30" y2="733.30" stroke="#231f20" stroke-width="1.5" />
<line x1="71.23" y1="727.30" x2="71.23" y2="733.30" stroke="#231f20" stroke-width="1.5" />
<line x1="95.16" y1="727.30" x2="95.16" y2="733.30" stroke="#231f20" stroke-width="1.5" />
<line x1="119.09" y1="727.30" x2="119.09" y2="733.30" stroke="#231f20" stroke-width="1.5" />
<line x1="143.02" y1="727.30" x2="143.02" y2="733.30" stroke="#231f20" stroke-width="1.5" />
<line x1="166.95" y1="727.30" x2="166.95" y2="733.30" stroke="#231f20" stroke-width="1.5" />
<line x1="190.88" y1="727.30" x2="190.88" y2="733.30" stroke="#231f20" stroke-width="1.5" />
<line x1="214.81" y1="727.30" x2="214.81" y2="733.30" stroke="#231f20" stroke-width="1.5" />
<text x="45.10" y="744.80" font-size="13" text-anchor="middle" fill="#231f20">-5</text>
<text x="69.03" y="744.80" font-size="13" text-anchor="middle" fill="#231f20">-4</text>
<text x="92.96" y="744.80" font-size="13" text-anchor="middle" fill="#231f20">-3</text>
<text x="116.89" y="744.80" font-size="13" text-anchor="middle" fill="#231f20">-2</text>
<text x="140.82" y="744.80" font-size="13" text-anchor="middle" fill="#231f20">-1</text>
<text x="166.95" y="744.80" font-size="13" text-anchor="middle" fill="#231f20">0</text>
<text x="190.88" y="744.80" font-size="13" text-anchor="middle" fill="#231f20">1</text>
<text x="214.81" y="744.80" font-size="13" text-anchor="middle" fill="#231f20">2</text>
<polyline points="68.84,718.16 70.45,718.10 72.07,718.03 73.68,717.97 75.30,717.90 76.91,717.84 78.53,717.77 80.14,717.71 81.76,717.64 83.37,717.58 84.99,717.51 86.61,717.44 88.22,717.38 89.84,717.31 91.45,717.25 93.07,717.18 94.68,717.12 96.30,717.05 97.91,716.99 99.53,716.92 101.14,716.86 102.76,716.79 104.37,716.73 105.99,716.66 107.60,716.60 109.22,716.53 110.83,716.47 112.45,716.40 114.06,716.33 115.68,716.27 117.30,716.20 118.91,716.14 120.53,716.07 122.14,716.01 123.76,715.94 125.37,715.88 126.99,715.81 128.60,715.75 130.22,715.68 131.83,715.62 133.45,715.55 135.06,715.49 136.68,715.42 138.29,715.36 139.91,715.29 141.52,715.23 143.14,715.16 144.75,715.09 146.37,715.03 147.99,714.96 149.60,714.90 151.22,714.83 152.83,714.77 154.45,714.70 156.06,714.64 157.68,714.57 159.29,714.51 160.91,714.44 162.52,714.38 164.14,714.31 165.75,714.25 167.37,714.18 168.98,714.12 170.60,714.05 172.21,713.98 173.83,713.92 175.45,713.85 177.06,713.79 178.68,713.72 180.29,713.66 181.91,713.59 183.52,713.53 185.14,713.46 186.75,713.40 188.37,713.33 189.98,713.27 191.60,713.20 193.21,713.14 194.83,713.07 196.44,713.01 198.06,712.94" stroke="#231f20" stroke-width="1.8" fill="none" stroke-linejoin="round" />
<polyline points="68.84,711.75 70.45,711.29 72.07,710.77 73.68,710.18 75.30,709.50 76.91,708.74 78.53,707.88 80.14,706.91 81.76,705.83 83.37,704.61 84.99,703.26 86.61,701.76 88.22,700.10 89.84,698.28 91.45,696.29 93.07,694.12 94.68,691.79 96.30,689.29 97.91,686.64 99.53,683.84 101.14,680.91 102.76,677.88 104.37,674.76 105.99,671.60 107.60,668.41 109.22,665.23 110.83,662.10 112.45,659.03 114.06,656.05 115.68,653.20 117.30,650.48 118.91,647.92 120.53,645.52 122.14,643.29 123.76,641.23 125.37,639.34 126.99,637.61 128.60,636.05 130.22,634.63 131.83,633.36 133.45,632.23 135.06,631.21 136.68,630.31 138.29,629.51 139.91,628.80 141.52,628.18 143.14,627.62 144.75,627.14 146.37,626.71 147.99,626.34 149.60,626.01 151.22,625.72 152.83,625.47 154.45,625.25 156.06,625.06 157.68,624.89 159.29,624.75 160.91,624.62 162.52,624.51 164.14,624.41 165.75,624.33 167.37,624.25 168.98,624.19 170.60,624.14 172.21,624.09 173.83,624.04 175.45,624.01 177.06,623.98 178.68,623.95 180.29,623.92 181.91,623.90 183.52,623.89 185.14,623.87 186.75,623.86 188.37,623.84 189.98,623.83 191.60,623.82 193.21,623.82 194.83,623.81 196.44,623.80 198.06,623.80" stroke="#0b8a4c" stroke-width="1.8" fill="none" stroke-linejoin="round" />
<polyline points="68.84,714.94 70.45,714.94 72.07,714.94 73.68,714.94 75.30,714.94 76.91,714.94 78.53,714.93 80.14,714.93 81.76,714.93 83.37,714.92 84.99,714.92 86.61,714.91 88.22,714.90 89.84,714.90 91.45,714.88 93.07,714.87 94.68,714.85 96.30,714.84 97.91,714.81 99.53,714.78 101.14,714.75 102.76,714.71 104.37,714.66 105.99,714.60 107.60,714.53 109.22,714.45 110.83,714.34 112.45,714.22 114.06,714.07 115.68,713.90 117.30,713.68 118.91,713.43 120.53,713.12 122.14,712.76 123.76,712.32 125.37,711.81 126.99,711.19 128.60,710.46 130.22,709.59 131.83,708.58 133.45,707.39 135.06,705.99 136.68,704.38 138.29,702.53 139.91,700.41 141.52,698.01 143.14,695.32 144.75,692.34 146.37,689.09 147.99,685.58 149.60,681.85 151.22,677.96 152.83,673.96 154.45,669.92 156.06,665.90 157.68,661.99 159.29,658.23 160.91,654.67 162.52,651.37 164.14,648.34 165.75,645.60 167.37,643.15 168.98,640.98 170.60,639.07 172.21,637.42 173.83,635.99 175.45,634.76 177.06,633.71 178.68,632.82 180.29,632.07 181.91,631.43 183.52,630.90 185.14,630.45 186.75,630.07 188.37,629.75 189.98,629.49 191.60,629.27 193.21,629.09 194.83,628.93 196.44,628.81 198.06,628.70" stroke="#3c69c2" stroke-width="1.8" fill="none" stroke-linejoin="round" />
<polyline points="68.84,713.74 70.45,713.74 72.07,713.74 73.68,713.74 75.30,713.74 76.91,713.74 78.53,713.74 80.14,713.74 81.76,713.74 83.37,713.74 84.99,713.74 86.61,713.74 88.22,713.74 89.84,713.74 91.45,713.74 93.07,713.74 94.68,713.74 96.30,713.74 97.91,713.74 99.53,713.74 101.14,713.74 102.76,713.73 104.37,713.73 105.99,713.73 107.60,713.73 109.22,713.72 110.83,713.72 112.45,713.72 114.06,713.71 115.68,713.70 117.30,713.70 118.91,713.69 120.53,713.68 122.14,713.67 123.76,713.65 125.37,713.63 126.99,713.61 128.60,713.59 130.22,713.56 131.83,713.53 133.45,713.49 135.06,713.44 136.68,713.38 138.29,713.31 139.91,713.24 141.52,713.14 143.14,713.03 144.75,712.90 146.37,712.74 147.99,712.56 149.60,712.34 151.22,712.08 152.83,711.78 154.45,711.42 156.06,711.00 157.68,710.50 159.29,709.92 160.91,709.24 162.52,708.44 164.14,707.52 165.75,706.44 167.37,705.20 168.98,703.77 170.60,702.12 172.21,700.25 173.83,698.13 175.45,695.75 177.06,693.09 178.68,690.16 180.29,686.95 181.91,683.47 183.52,679.76 185.14,675.85 186.75,671.77 188.37,667.58 189.98,663.35 191.60,659.12 193.21,654.97 194.83,650.95 196.44,647.11 198.06,643.48" stroke="#a3449d" stroke-width="1.8" fill="none" stroke-linejoin="round" />
<polygon points="68.84,716.25 71.74,721.47 65.94,721.47" fill="#231f20" stroke="none" stroke-width="1" />
<polygon points="76.02,715.45 78.92,720.67 73.12,720.67" fill="#231f20" stroke="none" stroke-width="1" />
<polygon points="83.20,716.25 86.10,721.47 80.30,721.47" fill="#231f20" stroke="none" stroke-width="1" />
<polygon points="90.37,715.45 93.27,720.67 87.47,720.67" fill="#231f20" stroke="none" stroke-width="1" />
<polygon points="97.55,717.06 100.45,722.27 94.65,722.27" fill="#231f20" stroke="none" stroke-width="1" />
<polygon points="104.73,716.25 107.63,721.47 101.83,721.47" fill="#231f20" stroke="none" stroke-width="1" />
<polygon points="111.91,715.45 114.81,720.67 109.01,720.67" fill="#231f20" stroke="none" stroke-width="1" />
<polygon points="119.09,712.23 121.99,717.45 116.19,717.45" fill="#231f20" stroke="none" stroke-width="1" />
<polygon points="126.27,714.24 129.17,719.46 123.37,719.46" fill="#231f20" stroke="none" stroke-width="1" />
<polygon points="133.45,713.04 136.35,718.26 130.55,718.26" fill="#231f20" stroke="none" stroke-width="1" />
<polygon points="140.63,714.24 143.53,719.46 137.73,719.46" fill="#231f20" stroke="none" stroke-width="1" />
<polygon points="147.81,714.24 150.71,719.46 144.91,719.46" fill="#231f20" stroke="none" stroke-width="1" />
<polygon points="154.99,713.04 157.89,718.26 152.09,718.26" fill="#231f20" stroke="none" stroke-width="1" />
<polygon points="162.16,713.04 165.06,718.26 159.26,718.26" fill="#231f20" stroke="none" stroke-width="1" />
<polygon points="169.34,712.23 172.24,717.45 166.44,717.45" fill="#231f20" stroke="none" stroke-width="1" />
<polygon points="176.52,713.04 179.42,718.26 173.62,718.26" fill="#231f20" stroke="none" stroke-width="1" />
<polygon points="183.70,713.04 186.60,718.26 180.80,718.26" fill="#231f20" stroke="none" stroke-width="1" />
<polygon points="190.88,709.02 193.78,714.24 187.98,714.24" fill="#231f20" stroke="none" stroke-width="1" />
<polygon points="198.06,709.02 200.96,714.24 195.16,714.24" fill="#231f20" stroke="none" stroke-width="1" />
<polygon points="68.84,724.89 71.74,719.67 65.94,719.67" fill="#3c69c2" stroke="none" stroke-width="1" />
<polygon points="76.02,719.67 78.92,714.45 73.12,714.45" fill="#3c69c2" stroke="none" stroke-width="1" />
<polygon points="83.20,718.47 86.10,713.25 80.30,713.25" fill="#3c69c2" stroke="none" stroke-width="1" />
<polygon points="90.37,717.66 93.27,712.44 87.47,712.44" fill="#3c69c2" stroke="none" stroke-width="1" />
<polygon points="97.55,718.47 100.45,713.25 94.65,713.25" fill="#3c69c2" stroke="none" stroke-width="1" />
<polygon points="104.73,718.47 107.63,713.25 101.83,713.25" fill="#3c69c2" stroke="none" stroke-width="1" />
<polygon points="111.91,717.66 114.81,712.44 109.01,712.44" fill="#3c69c2" stroke="none" stroke-width="1" />
<polygon points="119.09,711.64 121.99,706.42 116.19,706.42" fill="#3c69c2" stroke="none" stroke-width="1" />
<polygon points="126.27,712.84 129.17,707.62 123.37,707.62" fill="#3c69c2" stroke="none" stroke-width="1" />
<polygon points="133.45,709.63 136.35,704.41 130.55,704.41" fill="#3c69c2" stroke="none" stroke-width="1" />
<polygon points="140.63,702.40 143.53,697.18 137.73,697.18" fill="#3c69c2" stroke="none" stroke-width="1" />
<polygon points="147.81,682.72 150.71,677.50 144.91,677.50" fill="#3c69c2" stroke="none" stroke-width="1" />
<polygon points="154.99,669.46 157.89,664.24 152.09,664.24" fill="#3c69c2" stroke="none" stroke-width="1" />
<polygon points="162.16,657.81 165.06,652.59 159.26,652.59" fill="#3c69c2" stroke="none" stroke-width="1" />
<polygon points="169.34,650.98 172.24,645.76 166.44,645.76" fill="#3c69c2" stroke="none" stroke-width="1" />
<polygon points="176.52,641.74 179.42,636.52 173.62,636.52" fill="#3c69c2" stroke="none" stroke-width="1" />
<polygon points="183.70,636.92 186.60,631.70 180.80,631.70" fill="#3c69c2" stroke="none" stroke-width="1" />
<polygon points="190.88,629.29 193.78,624.07 187.98,624.07" fill="#3c69c2" stroke="none" stroke-width="1" />
<polygon points="198.06,623.67 200.96,618.45 195.16,618.45" fill="#3c69c2" stroke="none" stroke-width="1" />
<polygon points="68.84,716.07 71.51,718.97 68.84,721.87 66.17,718.97" fill="#a3449d" stroke="none" stroke-width="1" />
<polygon points="76.02,716.87 78.68,719.77 76.02,722.67 73.35,719.77" fill="#a3449d" stroke="none" stroke-width="1" />
<polygon points="83.20,712.05 85.86,714.95 83.20,717.85 80.53,714.95" fill="#a3449d" stroke="none" stroke-width="1" />
<polygon points="90.37,710.04 93.04,712.94 90.37,715.84 87.71,712.94" fill="#a3449d" stroke="none" stroke-width="1" />
<polygon points="97.55,710.04 100.22,712.94 97.55,715.84 94.89,712.94" fill="#a3449d" stroke="none" stroke-width="1" />
<polygon points="104.73,704.42 107.40,707.32 104.73,710.22 102.06,707.32" fill="#a3449d" stroke="none" stroke-width="1" />
<polygon points="111.91,712.05 114.58,714.95 111.91,717.85 109.24,714.95" fill="#a3449d" stroke="none" stroke-width="1" />
<polygon points="119.09,712.05 121.76,714.95 119.09,717.85 116.42,714.95" fill="#a3449d" stroke="none" stroke-width="1" />
<polygon points="126.27,711.25 128.94,714.15 126.27,717.05 123.60,714.15" fill="#a3449d" stroke="none" stroke-width="1" />
<polygon points="133.45,710.04 136.12,712.94 133.45,715.84 130.78,712.94" fill="#a3449d" stroke="none" stroke-width="1" />
<polygon points="140.63,708.84 143.30,711.74 140.63,714.64 137.96,711.74" fill="#a3449d" stroke="none" stroke-width="1" />
<polygon points="147.81,704.82 150.47,707.72 147.81,710.62 145.14,707.72" fill="#a3449d" stroke="none" stroke-width="1" />
<polygon points="154.99,704.82 157.65,707.72 154.99,710.62 152.32,707.72" fill="#a3449d" stroke="none" stroke-width="1" />
<polygon points="162.16,700.80 164.83,703.70 162.16,706.60 159.50,703.70" fill="#a3449d" stroke="none" stroke-width="1" />
<polygon points="169.34,696.78 172.01,699.68 169.34,702.58 166.68,699.68" fill="#a3449d" stroke="none" stroke-width="1" />
<polygon points="176.52,688.75 179.19,691.65 176.52,694.55 173.85,691.65" fill="#a3449d" stroke="none" stroke-width="1" />
<polygon points="183.70,671.88 186.37,674.78 183.70,677.68 181.03,674.78" fill="#a3449d" stroke="none" stroke-width="1" />
<polygon points="190.88,655.81 193.55,658.71 190.88,661.61 188.21,658.71" fill="#a3449d" stroke="none" stroke-width="1" />
<polygon points="198.06,640.55 200.73,643.45 198.06,646.35 195.39,643.45" fill="#a3449d" stroke="none" stroke-width="1" />
<circle cx="68.84" cy="716.96" r="2.80" fill="#0b8a4c"/>
<circle cx="76.02" cy="708.92" r="2.80" fill="#0b8a4c"/>
<circle cx="83.20" cy="707.32" r="2.80" fill="#0b8a4c"/>
<circle cx="90.37" cy="693.66" r="2.80" fill="#0b8a4c"/>
<circle cx="97.55" cy="684.02" r="2.80" fill="#0b8a4c"/>
<circle cx="104.73" cy="674.38" r="2.80" fill="#0b8a4c"/>
<circle cx="111.91" cy="663.93" r="2.80" fill="#0b8a4c"/>
<circle cx="119.09" cy="645.45" r="2.80" fill="#0b8a4c"/>
<circle cx="126.27" cy="637.02" r="2.80" fill="#0b8a4c"/>
<circle cx="133.45" cy="628.99" r="2.80" fill="#0b8a4c"/>
<circle cx="140.63" cy="626.58" r="2.80" fill="#0b8a4c"/>
<circle cx="147.81" cy="625.77" r="2.80" fill="#0b8a4c"/>
<circle cx="154.99" cy="624.57" r="2.80" fill="#0b8a4c"/>
<circle cx="162.16" cy="626.58" r="2.80" fill="#0b8a4c"/>
<circle cx="169.34" cy="624.16" r="2.80" fill="#0b8a4c"/>
<circle cx="176.52" cy="623.76" r="2.80" fill="#0b8a4c"/>
<circle cx="183.70" cy="624.16" r="2.80" fill="#0b8a4c"/>
<circle cx="190.88" cy="624.16" r="2.80" fill="#0b8a4c"/>
<circle cx="198.06" cy="619.75" r="2.80" fill="#0b8a4c"/>
<text x="16.80" y="749.50" font-size="14.9" fill="#231f20" transform="rotate(-90 16.80 749.50)">Absorbance (450 nm)</text>
<line x1="54.30" y1="599.50" x2="72.70" y2="599.50" stroke="#231f20" stroke-width="1.3" />
<polygon points="63.50,595.94 67.30,602.78 59.70,602.78" fill="#231f20" stroke="none" stroke-width="1" />
<text x="76.70" y="604.72" font-size="14.5" fill="#231f20">Isotype</text>
<line x1="54.30" y1="617.00" x2="72.70" y2="617.00" stroke="#3c69c2" stroke-width="1.3" />
<polygon points="63.50,620.56 67.30,613.72 59.70,613.72" fill="#3c69c2" stroke="none" stroke-width="1" />
<text x="76.70" y="622.22" font-size="14.5" fill="#3c69c2">4H2F3</text>
<line x1="54.30" y1="635.40" x2="72.70" y2="635.40" stroke="#a3449d" stroke-width="1.3" />
<polygon points="63.50,631.60 67.00,635.40 63.50,639.20 60.00,635.40" fill="#a3449d" stroke="none" stroke-width="1" />
<text x="76.70" y="640.62" font-size="14.5" fill="#a3449d">8E3B7</text>
<line x1="54.30" y1="653.80" x2="72.70" y2="653.80" stroke="#0b8a4c" stroke-width="1.3" />
<circle cx="63.50" cy="653.80" r="3.80" fill="#0b8a4c"/>
<text x="76.70" y="659.02" font-size="14.5" fill="#0b8a4c">F9H4</text>
<text x="233.40" y="597.40" font-size="21.5" fill="#231f20" font-weight="bold">I</text>
<line x1="280.40" y1="605.70" x2="280.40" y2="728.00" stroke="#231f20" stroke-width="1.5" />
<line x1="275.20" y1="605.70" x2="280.40" y2="605.70" stroke="#231f20" stroke-width="1.5" />
<text x="273.60" y="610.25" font-size="13" text-anchor="end" fill="#231f20">5</text>
<line x1="275.20" y1="630.02" x2="280.40" y2="630.02" stroke="#231f20" stroke-width="1.5" />
<text x="273.60" y="634.57" font-size="13" text-anchor="end" fill="#231f20">4</text>
<line x1="275.20" y1="654.34" x2="280.40" y2="654.34" stroke="#231f20" stroke-width="1.5" />
<text x="273.60" y="658.89" font-size="13" text-anchor="end" fill="#231f20">3</text>
<line x1="275.20" y1="678.66" x2="280.40" y2="678.66" stroke="#231f20" stroke-width="1.5" />
<text x="273.60" y="683.21" font-size="13" text-anchor="end" fill="#231f20">2</text>
<line x1="275.20" y1="702.98" x2="280.40" y2="702.98" stroke="#231f20" stroke-width="1.5" />
<text x="273.60" y="707.53" font-size="13" text-anchor="end" fill="#231f20">1</text>
<line x1="275.20" y1="727.30" x2="280.40" y2="727.30" stroke="#231f20" stroke-width="1.5" />
<text x="273.60" y="731.85" font-size="13" text-anchor="end" fill="#231f20">0</text>
<line x1="280.40" y1="728.00" x2="447.20" y2="728.00" stroke="#231f20" stroke-width="1.5" />
<line x1="280.40" y1="728.00" x2="280.40" y2="734.00" stroke="#231f20" stroke-width="1.5" />
<line x1="336.00" y1="728.00" x2="336.00" y2="734.00" stroke="#231f20" stroke-width="1.5" />
<line x1="391.60" y1="728.00" x2="391.60" y2="734.00" stroke="#231f20" stroke-width="1.5" />
<line x1="447.20" y1="728.00" x2="447.20" y2="734.00" stroke="#231f20" stroke-width="1.5" />
<text x="278.20" y="745.00" font-size="13" text-anchor="middle" fill="#231f20">-1</text>
<text x="336.00" y="745.00" font-size="13" text-anchor="middle" fill="#231f20">0</text>
<text x="391.60" y="745.00" font-size="13" text-anchor="middle" fill="#231f20">1</text>
<text x="447.20" y="745.00" font-size="13" text-anchor="middle" fill="#231f20">2</text>
<polyline points="308.20,720.98 309.45,720.98 310.70,720.98 311.95,720.98 313.20,720.98 314.45,720.98 315.71,720.98 316.96,720.98 318.21,720.98 319.46,720.98 320.71,720.98 321.96,720.98 323.21,720.98 324.46,720.98 325.71,720.98 326.96,720.98 328.22,720.98 329.47,720.98 330.72,720.98 331.97,720.98 333.22,720.98 334.47,720.98 335.72,720.98 336.97,720.98 338.22,720.98 339.47,720.98 340.73,720.98 341.98,720.98 343.23,720.98 344.48,720.98 345.73,720.98 346.98,720.98 348.23,720.98 349.48,720.98 350.73,720.98 351.99,720.98 353.24,720.98 354.49,720.98 355.74,720.98 356.99,720.98 358.24,720.98 359.49,720.98 360.74,720.98 361.99,720.98 363.24,720.98 364.50,720.98 365.75,720.98 367.00,720.98 368.25,720.98 369.50,720.98 370.75,720.98 372.00,720.98 373.25,720.98 374.50,720.98 375.75,720.98 377.00,720.98 378.26,720.98 379.51,720.98 380.76,720.98 382.01,720.98 383.26,720.98 384.51,720.98 385.76,720.98 387.01,720.98 388.26,720.98 389.51,720.98 390.77,720.98 392.02,720.98 393.27,720.98 394.52,720.98 395.77,720.98 397.02,720.98 398.27,720.98 399.52,720.98 400.77,720.98 402.02,720.98 403.28,720.98 404.53,720.98 405.78,720.98 407.03,720.98 408.28,720.98" stroke="#231f20" stroke-width="1.8" fill="none" stroke-linejoin="round" />
<polyline points="308.20,721.71 309.45,721.71 310.70,721.71 311.95,721.71 313.20,721.71 314.45,721.71 315.71,721.71 316.96,721.71 318.21,721.71 319.46,721.71 320.71,721.71 321.96,721.71 323.21,721.71 324.46,721.71 325.71,721.71 326.96,721.71 328.22,721.71 329.47,721.71 330.72,721.71 331.97,721.71 333.22,721.71 334.47,721.71 335.72,721.71 336.97,721.71 338.22,721.71 339.47,721.71 340.73,721.71 341.98,721.71 343.23,721.71 344.48,721.71 345.73,721.71 346.98,721.71 348.23,721.71 349.48,721.71 350.73,721.71 351.99,721.71 353.24,721.71 354.49,721.71 355.74,721.71 356.99,721.71 358.24,721.71 359.49,721.71 360.74,721.71 361.99,721.71 363.24,721.71 364.50,721.71 365.75,721.71 367.00,721.71 368.25,721.71 369.50,721.71 370.75,721.71 372.00,721.71 373.25,721.71 374.50,721.71 375.75,721.71 377.00,721.71 378.26,721.71 379.51,721.71 380.76,721.71 382.01,721.71 383.26,721.71 384.51,721.71 385.76,721.71 387.01,721.71 388.26,721.71 389.51,721.71 390.77,721.71 392.02,721.71 393.27,721.71 394.52,721.71 395.77,721.71 397.02,721.71 398.27,721.71 399.52,721.71 400.77,721.71 402.02,721.71 403.28,721.71 404.53,721.71 405.78,721.71 407.03,721.71 408.28,721.71" stroke="#a3449d" stroke-width="1.8" fill="none" stroke-linejoin="round" />
<polyline points="308.20,722.44 309.45,722.44 310.70,722.44 311.95,722.44 313.20,722.44 314.45,722.44 315.71,722.44 316.96,722.44 318.21,722.44 319.46,722.44 320.71,722.44 321.96,722.44 323.21,722.44 324.46,722.44 325.71,722.44 326.96,722.44 328.22,722.44 329.47,722.44 330.72,722.44 331.97,722.44 333.22,722.44 334.47,722.44 335.72,722.44 336.97,722.44 338.22,722.44 339.47,722.44 340.73,722.44 341.98,722.44 343.23,722.44 344.48,722.44 345.73,722.44 346.98,722.44 348.23,722.44 349.48,722.44 350.73,722.44 351.99,722.44 353.24,722.44 354.49,722.44 355.74,722.44 356.99,722.44 358.24,722.44 359.49,722.44 360.74,722.44 361.99,722.44 363.24,722.44 364.50,722.44 365.75,722.44 367.00,722.44 368.25,722.44 369.50,722.44 370.75,722.44 372.00,722.44 373.25,722.44 374.50,722.44 375.75,722.44 377.00,722.44 378.26,722.44 379.51,722.44 380.76,722.44 382.01,722.44 383.26,722.44 384.51,722.44 385.76,722.44 387.01,722.44 388.26,722.44 389.51,722.44 390.77,722.44 392.02,722.44 393.27,722.44 394.52,722.44 395.77,722.44 397.02,722.44 398.27,722.44 399.52,722.44 400.77,722.44 402.02,722.44 403.28,722.44 404.53,722.44 405.78,722.44 407.03,722.44 408.28,722.44" stroke="#3c69c2" stroke-width="1.8" fill="none" stroke-linejoin="round" />
<polyline points="308.20,714.93 309.45,714.70 310.70,714.47 311.95,714.23 313.20,713.97 314.45,713.70 315.71,713.42 316.96,713.13 318.21,712.82 319.46,712.50 320.71,712.16 321.96,711.81 323.21,711.44 324.46,711.05 325.71,710.65 326.96,710.22 328.22,709.78 329.47,709.32 330.72,708.84 331.97,708.34 333.22,707.82 334.47,707.27 335.72,706.70 336.97,706.11 338.22,705.50 339.47,704.86 340.73,704.19 341.98,703.50 343.23,702.79 344.48,702.04 345.73,701.27 346.98,700.47 348.23,699.65 349.48,698.79 350.73,697.91 351.99,696.99 353.24,696.05 354.49,695.08 355.74,694.08 356.99,693.05 358.24,691.99 359.49,690.90 360.74,689.78 361.99,688.64 363.24,687.46 364.50,686.26 365.75,685.04 367.00,683.79 368.25,682.51 369.50,681.21 370.75,679.89 372.00,678.55 373.25,677.18 374.50,675.80 375.75,674.40 377.00,672.99 378.26,671.56 379.51,670.12 380.76,668.67 382.01,667.22 383.26,665.75 384.51,664.28 385.76,662.81 387.01,661.34 388.26,659.87 389.51,658.41 390.77,656.95 392.02,655.49 393.27,654.05 394.52,652.62 395.77,651.20 397.02,649.79 398.27,648.40 399.52,647.03 400.77,645.68 402.02,644.35 403.28,643.04 404.53,641.75 405.78,640.49 407.03,639.25 408.28,638.04" stroke="#0b8a4c" stroke-width="1.8" fill="none" stroke-linejoin="round" />
<line x1="324.88" y1="716.84" x2="324.88" y2="720.98" stroke="#231f20" stroke-width="1.2" />
<line x1="322.38" y1="716.84" x2="327.38" y2="716.84" stroke="#231f20" stroke-width="1.2" />
<line x1="322.38" y1="720.98" x2="327.38" y2="720.98" stroke="#231f20" stroke-width="1.2" />
<line x1="341.56" y1="716.84" x2="341.56" y2="720.98" stroke="#231f20" stroke-width="1.2" />
<line x1="339.06" y1="716.84" x2="344.06" y2="716.84" stroke="#231f20" stroke-width="1.2" />
<line x1="339.06" y1="720.98" x2="344.06" y2="720.98" stroke="#231f20" stroke-width="1.2" />
<line x1="358.24" y1="716.84" x2="358.24" y2="720.98" stroke="#231f20" stroke-width="1.2" />
<line x1="355.74" y1="716.84" x2="360.74" y2="716.84" stroke="#231f20" stroke-width="1.2" />
<line x1="355.74" y1="720.98" x2="360.74" y2="720.98" stroke="#231f20" stroke-width="1.2" />
<line x1="374.92" y1="716.84" x2="374.92" y2="720.98" stroke="#231f20" stroke-width="1.2" />
<line x1="372.42" y1="716.84" x2="377.42" y2="716.84" stroke="#231f20" stroke-width="1.2" />
<line x1="372.42" y1="720.98" x2="377.42" y2="720.98" stroke="#231f20" stroke-width="1.2" />
<line x1="391.60" y1="716.84" x2="391.60" y2="720.98" stroke="#231f20" stroke-width="1.2" />
<line x1="389.10" y1="716.84" x2="394.10" y2="716.84" stroke="#231f20" stroke-width="1.2" />
<line x1="389.10" y1="720.98" x2="394.10" y2="720.98" stroke="#231f20" stroke-width="1.2" />
<line x1="408.28" y1="716.84" x2="408.28" y2="720.98" stroke="#231f20" stroke-width="1.2" />
<line x1="405.78" y1="716.84" x2="410.78" y2="716.84" stroke="#231f20" stroke-width="1.2" />
<line x1="405.78" y1="720.98" x2="410.78" y2="720.98" stroke="#231f20" stroke-width="1.2" />
<line x1="308.20" y1="713.68" x2="308.20" y2="718.54" stroke="#0b8a4c" stroke-width="1.3" />
<line x1="305.40" y1="713.68" x2="311.00" y2="713.68" stroke="#0b8a4c" stroke-width="1.3" />
<line x1="305.40" y1="718.54" x2="311.00" y2="718.54" stroke="#0b8a4c" stroke-width="1.3" />
<line x1="324.88" y1="709.79" x2="324.88" y2="713.68" stroke="#0b8a4c" stroke-width="1.3" />
<line x1="322.08" y1="709.79" x2="327.68" y2="709.79" stroke="#0b8a4c" stroke-width="1.3" />
<line x1="322.08" y1="713.68" x2="327.68" y2="713.68" stroke="#0b8a4c" stroke-width="1.3" />
<line x1="341.56" y1="694.22" x2="341.56" y2="708.33" stroke="#0b8a4c" stroke-width="1.3" />
<line x1="338.76" y1="694.22" x2="344.36" y2="694.22" stroke="#0b8a4c" stroke-width="1.3" />
<line x1="338.76" y1="708.33" x2="344.36" y2="708.33" stroke="#0b8a4c" stroke-width="1.3" />
<line x1="358.24" y1="682.06" x2="358.24" y2="685.96" stroke="#0b8a4c" stroke-width="1.3" />
<line x1="355.44" y1="682.06" x2="361.04" y2="682.06" stroke="#0b8a4c" stroke-width="1.3" />
<line x1="355.44" y1="685.96" x2="361.04" y2="685.96" stroke="#0b8a4c" stroke-width="1.3" />
<line x1="374.92" y1="668.69" x2="374.92" y2="681.82" stroke="#0b8a4c" stroke-width="1.3" />
<line x1="372.12" y1="668.69" x2="377.72" y2="668.69" stroke="#0b8a4c" stroke-width="1.3" />
<line x1="372.12" y1="681.82" x2="377.72" y2="681.82" stroke="#0b8a4c" stroke-width="1.3" />
<line x1="391.60" y1="643.15" x2="391.60" y2="666.01" stroke="#0b8a4c" stroke-width="1.3" />
<line x1="388.80" y1="643.15" x2="394.40" y2="643.15" stroke="#0b8a4c" stroke-width="1.3" />
<line x1="388.80" y1="666.01" x2="394.40" y2="666.01" stroke="#0b8a4c" stroke-width="1.3" />
<line x1="408.28" y1="622.97" x2="408.28" y2="652.15" stroke="#0b8a4c" stroke-width="1.3" />
<line x1="405.48" y1="622.97" x2="411.08" y2="622.97" stroke="#0b8a4c" stroke-width="1.3" />
<line x1="405.48" y1="652.15" x2="411.08" y2="652.15" stroke="#0b8a4c" stroke-width="1.3" />
<polygon points="308.20,718.17 311.20,723.57 305.20,723.57" fill="#231f20" stroke="none" stroke-width="1" />
<polygon points="324.88,718.17 327.88,723.57 321.88,723.57" fill="#231f20" stroke="none" stroke-width="1" />
<polygon points="341.56,718.17 344.56,723.57 338.56,723.57" fill="#231f20" stroke="none" stroke-width="1" />
<polygon points="358.24,718.17 361.24,723.57 355.24,723.57" fill="#231f20" stroke="none" stroke-width="1" />
<polygon points="374.92,718.17 377.92,723.57 371.92,723.57" fill="#231f20" stroke="none" stroke-width="1" />
<polygon points="391.60,718.17 394.60,723.57 388.60,723.57" fill="#231f20" stroke="none" stroke-width="1" />
<polygon points="408.28,718.17 411.28,723.57 405.28,723.57" fill="#231f20" stroke="none" stroke-width="1" />
<polygon points="308.20,718.71 310.96,721.71 308.20,724.71 305.44,721.71" fill="#a3449d" stroke="none" stroke-width="1" />
<polygon points="324.88,718.71 327.64,721.71 324.88,724.71 322.12,721.71" fill="#a3449d" stroke="none" stroke-width="1" />
<polygon points="341.56,718.71 344.32,721.71 341.56,724.71 338.80,721.71" fill="#a3449d" stroke="none" stroke-width="1" />
<polygon points="358.24,718.71 361.00,721.71 358.24,724.71 355.48,721.71" fill="#a3449d" stroke="none" stroke-width="1" />
<polygon points="374.92,718.71 377.68,721.71 374.92,724.71 372.16,721.71" fill="#a3449d" stroke="none" stroke-width="1" />
<polygon points="391.60,718.71 394.36,721.71 391.60,724.71 388.84,721.71" fill="#a3449d" stroke="none" stroke-width="1" />
<polygon points="408.28,718.71 411.04,721.71 408.28,724.71 405.52,721.71" fill="#a3449d" stroke="none" stroke-width="1" />
<polygon points="308.20,725.24 311.20,719.84 305.20,719.84" fill="#3c69c2" stroke="none" stroke-width="1" />
<polygon points="324.88,725.24 327.88,719.84 321.88,719.84" fill="#3c69c2" stroke="none" stroke-width="1" />
<polygon points="341.56,725.24 344.56,719.84 338.56,719.84" fill="#3c69c2" stroke="none" stroke-width="1" />
<polygon points="358.24,725.24 361.24,719.84 355.24,719.84" fill="#3c69c2" stroke="none" stroke-width="1" />
<polygon points="374.92,725.24 377.92,719.84 371.92,719.84" fill="#3c69c2" stroke="none" stroke-width="1" />
<polygon points="391.60,725.24 394.60,719.84 388.60,719.84" fill="#3c69c2" stroke="none" stroke-width="1" />
<polygon points="408.28,725.24 411.28,719.84 405.28,719.84" fill="#3c69c2" stroke="none" stroke-width="1" />
<circle cx="308.20" cy="716.11" r="2.90" fill="#0b8a4c"/>
<circle cx="324.88" cy="711.74" r="2.90" fill="#0b8a4c"/>
<circle cx="341.56" cy="701.28" r="2.90" fill="#0b8a4c"/>
<circle cx="358.24" cy="684.01" r="2.90" fill="#0b8a4c"/>
<circle cx="374.92" cy="675.26" r="2.90" fill="#0b8a4c"/>
<circle cx="391.60" cy="654.58" r="2.90" fill="#0b8a4c"/>
<circle cx="408.28" cy="637.56" r="2.90" fill="#0b8a4c"/>
<text x="348.80" y="682.64" font-size="16" text-anchor="middle" fill="#231f20">***</text>
<text x="363.80" y="669.24" font-size="16" text-anchor="middle" fill="#231f20">***</text>
<text x="383.00" y="644.54" font-size="16" text-anchor="middle" fill="#231f20">***</text>
<text x="404.00" y="624.04" font-size="16" text-anchor="middle" fill="#231f20">***</text>
<text x="245.00" y="729.60" font-size="14.5" fill="#231f20" transform="rotate(-90 245.00 729.60)">CD16a expression</text>
<text x="260.70" y="705.00" font-size="14.5" fill="#231f20" transform="rotate(-90 260.70 705.00)">(MFI x 10<tspan font-size="9" dy="-5">4</tspan><tspan dy="5">)</tspan></text>
<line x1="288.30" y1="605.10" x2="306.70" y2="605.10" stroke="#231f20" stroke-width="1.3" />
<polygon points="297.50,601.54 301.30,608.38 293.70,608.38" fill="#231f20" stroke="none" stroke-width="1" />
<text x="311.00" y="610.32" font-size="14.5" fill="#231f20">Isotype</text>
<line x1="288.30" y1="622.00" x2="306.70" y2="622.00" stroke="#3c69c2" stroke-width="1.3" />
<polygon points="297.50,625.56 301.30,618.72 293.70,618.72" fill="#3c69c2" stroke="none" stroke-width="1" />
<text x="311.00" y="627.22" font-size="14.5" fill="#3c69c2">4H2F3</text>
<line x1="288.30" y1="640.70" x2="306.70" y2="640.70" stroke="#a3449d" stroke-width="1.3" />
<polygon points="297.50,636.90 301.00,640.70 297.50,644.50 294.00,640.70" fill="#a3449d" stroke="none" stroke-width="1" />
<text x="311.00" y="645.92" font-size="14.5" fill="#a3449d">8E3B7</text>
<line x1="288.30" y1="659.10" x2="306.70" y2="659.10" stroke="#0b8a4c" stroke-width="1.3" />
<circle cx="297.50" cy="659.10" r="3.80" fill="#0b8a4c"/>
<text x="311.00" y="664.32" font-size="14.5" fill="#0b8a4c">F9H4</text>
<text x="457.20" y="597.40" font-size="21.5" fill="#231f20" font-weight="bold">J</text>
<line x1="504.50" y1="604.40" x2="504.50" y2="728.50" stroke="#231f20" stroke-width="1.5" />
<line x1="499.90" y1="604.40" x2="504.50" y2="604.40" stroke="#231f20" stroke-width="1.5" />
<text x="497.30" y="608.95" font-size="13" text-anchor="end" fill="#231f20">2.0</text>
<line x1="499.90" y1="635.25" x2="504.50" y2="635.25" stroke="#231f20" stroke-width="1.5" />
<text x="497.30" y="639.80" font-size="13" text-anchor="end" fill="#231f20">1.5</text>
<line x1="499.90" y1="666.10" x2="504.50" y2="666.10" stroke="#231f20" stroke-width="1.5" />
<text x="497.30" y="670.65" font-size="13" text-anchor="end" fill="#231f20">1.0</text>
<line x1="499.90" y1="696.95" x2="504.50" y2="696.95" stroke="#231f20" stroke-width="1.5" />
<text x="497.30" y="701.50" font-size="13" text-anchor="end" fill="#231f20">0.5</text>
<line x1="499.90" y1="727.80" x2="504.50" y2="727.80" stroke="#231f20" stroke-width="1.5" />
<text x="497.30" y="732.35" font-size="13" text-anchor="end" fill="#231f20">0.0</text>
<line x1="504.50" y1="728.50" x2="662.80" y2="728.50" stroke="#231f20" stroke-width="1.5" />
<line x1="504.30" y1="728.50" x2="504.30" y2="734.50" stroke="#231f20" stroke-width="1.5" />
<line x1="536.00" y1="728.50" x2="536.00" y2="734.50" stroke="#231f20" stroke-width="1.5" />
<line x1="567.70" y1="728.50" x2="567.70" y2="734.50" stroke="#231f20" stroke-width="1.5" />
<line x1="599.40" y1="728.50" x2="599.40" y2="734.50" stroke="#231f20" stroke-width="1.5" />
<line x1="631.10" y1="728.50" x2="631.10" y2="734.50" stroke="#231f20" stroke-width="1.5" />
<line x1="662.80" y1="728.50" x2="662.80" y2="734.50" stroke="#231f20" stroke-width="1.5" />
<text x="502.10" y="745.00" font-size="13" text-anchor="middle" fill="#231f20">-3</text>
<text x="533.80" y="745.00" font-size="13" text-anchor="middle" fill="#231f20">-2</text>
<text x="565.50" y="745.00" font-size="13" text-anchor="middle" fill="#231f20">-1</text>
<text x="599.40" y="745.00" font-size="13" text-anchor="middle" fill="#231f20">0</text>
<text x="631.10" y="745.00" font-size="13" text-anchor="middle" fill="#231f20">1</text>
<text x="662.80" y="745.00" font-size="13" text-anchor="middle" fill="#231f20">2</text>
<polyline points="536.00,642.10 537.19,642.10 538.38,642.11 539.57,642.12 540.75,642.13 541.94,642.15 543.13,642.16 544.32,642.18 545.51,642.20 546.70,642.22 547.89,642.25 549.08,642.27 550.26,642.31 551.45,642.34 552.64,642.38 553.83,642.43 555.02,642.48 556.21,642.53 557.40,642.60 558.59,642.67 559.77,642.75 560.96,642.83 562.15,642.93 563.34,643.04 564.53,643.15 565.72,643.28 566.91,643.42 568.10,643.58 569.28,643.74 570.47,643.91 571.66,644.10 572.85,644.30 574.04,644.51 575.23,644.73 576.42,644.95 577.61,645.18 578.80,645.42 579.98,645.66 581.17,645.90 582.36,646.14 583.55,646.37 584.74,646.60 585.93,646.82 587.12,647.04 588.31,647.24 589.49,647.44 590.68,647.62 591.87,647.79 593.06,647.95 594.25,648.10 595.44,648.24 596.63,648.36 597.82,648.48 599.00,648.58 600.19,648.67 601.38,648.76 602.57,648.84 603.76,648.90 604.95,648.96 606.14,649.02 607.33,649.07 608.51,649.11 609.70,649.15 610.89,649.18 612.08,649.21 613.27,649.24 614.46,649.26 615.65,649.29 616.84,649.30 618.02,649.32 619.21,649.33 620.40,649.35 621.59,649.36 622.78,649.37 623.97,649.38 625.16,649.39 626.35,649.39 627.53,649.40 628.72,649.40 629.91,649.41 631.10,649.41" stroke="#231f20" stroke-width="1.8" fill="none" stroke-linejoin="round" />
<polyline points="536.00,645.15 537.19,645.15 538.38,645.15 539.57,645.16 540.75,645.16 541.94,645.17 543.13,645.17 544.32,645.18 545.51,645.19 546.70,645.20 547.89,645.21 549.08,645.22 550.26,645.23 551.45,645.25 552.64,645.27 553.83,645.28 555.02,645.31 556.21,645.33 557.40,645.36 558.59,645.38 559.77,645.42 560.96,645.45 562.15,645.49 563.34,645.54 564.53,645.59 565.72,645.64 566.91,645.70 568.10,645.76 569.28,645.83 570.47,645.90 571.66,645.98 572.85,646.07 574.04,646.15 575.23,646.24 576.42,646.34 577.61,646.43 578.80,646.53 579.98,646.63 581.17,646.73 582.36,646.83 583.55,646.93 584.74,647.02 585.93,647.12 587.12,647.21 588.31,647.29 589.49,647.37 590.68,647.45 591.87,647.52 593.06,647.59 594.25,647.65 595.44,647.71 596.63,647.76 597.82,647.81 599.00,647.85 600.19,647.89 601.38,647.92 602.57,647.95 603.76,647.98 604.95,648.01 606.14,648.03 607.33,648.05 608.51,648.07 609.70,648.09 610.89,648.10 612.08,648.11 613.27,648.12 614.46,648.13 615.65,648.14 616.84,648.15 618.02,648.16 619.21,648.16 620.40,648.17 621.59,648.17 622.78,648.18 623.97,648.18 625.16,648.18 626.35,648.19 627.53,648.19 628.72,648.19 629.91,648.19 631.10,648.19" stroke="#a3449d" stroke-width="1.8" fill="none" stroke-linejoin="round" />
<polyline points="536.00,649.56 537.19,649.58 538.38,649.60 539.57,649.62 540.75,649.64 541.94,649.67 543.13,649.70 544.32,649.73 545.51,649.77 546.70,649.81 547.89,649.86 549.08,649.91 550.26,649.97 551.45,650.04 552.64,650.11 553.83,650.19 555.02,650.28 556.21,650.38 557.40,650.48 558.59,650.59 559.77,650.72 560.96,650.85 562.15,650.99 563.34,651.14 564.53,651.29 565.72,651.46 566.91,651.63 568.10,651.80 569.28,651.98 570.47,652.16 571.66,652.34 572.85,652.52 574.04,652.69 575.23,652.86 576.42,653.03 577.61,653.19 578.80,653.35 579.98,653.49 581.17,653.63 582.36,653.76 583.55,653.88 584.74,653.99 585.93,654.09 587.12,654.19 588.31,654.27 589.49,654.35 590.68,654.42 591.87,654.48 593.06,654.54 594.25,654.59 595.44,654.64 596.63,654.68 597.82,654.71 599.00,654.75 600.19,654.78 601.38,654.80 602.57,654.82 603.76,654.84 604.95,654.86 606.14,654.88 607.33,654.89 608.51,654.90 609.70,654.91 610.89,654.92 612.08,654.93 613.27,654.94 614.46,654.95 615.65,654.95 616.84,654.96 618.02,654.96 619.21,654.97 620.40,654.97 621.59,654.97 622.78,654.97 623.97,654.98 625.16,654.98 626.35,654.98 627.53,654.98 628.72,654.98 629.91,654.99 631.10,654.99" stroke="#3c69c2" stroke-width="1.8" fill="none" stroke-linejoin="round" />
<polyline points="536.00,653.93 537.19,653.96 538.38,653.98 539.57,654.02 540.75,654.05 541.94,654.09 543.13,654.14 544.32,654.19 545.51,654.25 546.70,654.31 547.89,654.39 549.08,654.47 550.26,654.57 551.45,654.68 552.64,654.81 553.83,654.95 555.02,655.11 556.21,655.29 557.40,655.50 558.59,655.73 559.77,655.99 560.96,656.29 562.15,656.63 563.34,657.00 564.53,657.42 565.72,657.89 566.91,658.42 568.10,659.01 569.28,659.67 570.47,660.40 571.66,661.21 572.85,662.10 574.04,663.08 575.23,664.15 576.42,665.31 577.61,666.58 578.80,667.95 579.98,669.41 581.17,670.97 582.36,672.62 583.55,674.36 584.74,676.17 585.93,678.05 587.12,679.98 588.31,681.95 589.49,683.94 590.68,685.94 591.87,687.93 593.06,689.89 594.25,691.80 595.44,693.66 596.63,695.45 597.82,697.16 599.00,698.78 600.19,700.31 601.38,701.74 602.57,703.07 603.76,704.31 604.95,705.44 606.14,706.48 607.33,707.43 608.51,708.29 609.70,709.07 610.89,709.78 612.08,710.41 613.27,710.98 614.46,711.49 615.65,711.94 616.84,712.35 618.02,712.71 619.21,713.03 620.40,713.32 621.59,713.57 622.78,713.79 623.97,713.99 625.16,714.16 626.35,714.32 627.53,714.46 628.72,714.58 629.91,714.68 631.10,714.78" stroke="#0b8a4c" stroke-width="1.8" fill="none" stroke-linejoin="round" />
<polygon points="536.00,635.62 538.90,640.84 533.10,640.84" fill="#231f20" stroke="none" stroke-width="1" />
<polygon points="545.51,631.92 548.41,637.14 542.61,637.14" fill="#231f20" stroke="none" stroke-width="1" />
<polygon points="555.02,642.41 557.92,647.63 552.12,647.63" fill="#231f20" stroke="none" stroke-width="1" />
<polygon points="564.53,642.41 567.43,647.63 561.63,647.63" fill="#231f20" stroke="none" stroke-width="1" />
<polygon points="574.04,645.49 576.94,650.71 571.14,650.71" fill="#231f20" stroke="none" stroke-width="1" />
<polygon points="583.55,644.88 586.45,650.10 580.65,650.10" fill="#231f20" stroke="none" stroke-width="1" />
<polygon points="593.06,644.88 595.96,650.10 590.16,650.10" fill="#231f20" stroke="none" stroke-width="1" />
<polygon points="602.57,646.11 605.47,651.33 599.67,651.33" fill="#231f20" stroke="none" stroke-width="1" />
<polygon points="612.08,651.05 614.98,656.27 609.18,656.27" fill="#231f20" stroke="none" stroke-width="1" />
<polygon points="621.59,644.88 624.49,650.10 618.69,650.10" fill="#231f20" stroke="none" stroke-width="1" />
<polygon points="631.10,641.17 634.00,646.39 628.20,646.39" fill="#231f20" stroke="none" stroke-width="1" />
<polygon points="536.00,640.99 538.67,643.89 536.00,646.79 533.33,643.89" fill="#a3449d" stroke="none" stroke-width="1" />
<polygon points="545.51,636.67 548.18,639.57 545.51,642.47 542.84,639.57" fill="#a3449d" stroke="none" stroke-width="1" />
<polygon points="555.02,642.84 557.69,645.74 555.02,648.64 552.35,645.74" fill="#a3449d" stroke="none" stroke-width="1" />
<polygon points="564.53,642.84 567.20,645.74 564.53,648.64 561.86,645.74" fill="#a3449d" stroke="none" stroke-width="1" />
<polygon points="574.04,642.84 576.71,645.74 574.04,648.64 571.37,645.74" fill="#a3449d" stroke="none" stroke-width="1" />
<polygon points="583.55,642.22 586.22,645.12 583.55,648.02 580.88,645.12" fill="#a3449d" stroke="none" stroke-width="1" />
<polygon points="593.06,644.69 595.73,647.59 593.06,650.49 590.39,647.59" fill="#a3449d" stroke="none" stroke-width="1" />
<polygon points="602.57,644.07 605.24,646.97 602.57,649.87 599.90,646.97" fill="#a3449d" stroke="none" stroke-width="1" />
<polygon points="612.08,644.69 614.75,647.59 612.08,650.49 609.41,647.59" fill="#a3449d" stroke="none" stroke-width="1" />
<polygon points="621.59,644.07 624.26,646.97 621.59,649.87 618.92,646.97" fill="#a3449d" stroke="none" stroke-width="1" />
<polygon points="631.10,644.07 633.77,646.97 631.10,649.87 628.43,646.97" fill="#a3449d" stroke="none" stroke-width="1" />
<polygon points="536.00,649.07 538.90,643.85 533.10,643.85" fill="#3c69c2" stroke="none" stroke-width="1" />
<polygon points="545.51,649.07 548.41,643.85 542.61,643.85" fill="#3c69c2" stroke="none" stroke-width="1" />
<polygon points="555.02,655.24 557.92,650.02 552.12,650.02" fill="#3c69c2" stroke="none" stroke-width="1" />
<polygon points="564.53,656.47 567.43,651.25 561.63,651.25" fill="#3c69c2" stroke="none" stroke-width="1" />
<polygon points="574.04,657.09 576.94,651.87 571.14,651.87" fill="#3c69c2" stroke="none" stroke-width="1" />
<polygon points="583.55,658.33 586.45,653.11 580.65,653.11" fill="#3c69c2" stroke="none" stroke-width="1" />
<polygon points="593.06,655.24 595.96,650.02 590.16,650.02" fill="#3c69c2" stroke="none" stroke-width="1" />
<polygon points="602.57,657.71 605.47,652.49 599.67,652.49" fill="#3c69c2" stroke="none" stroke-width="1" />
<polygon points="612.08,657.71 614.98,652.49 609.18,652.49" fill="#3c69c2" stroke="none" stroke-width="1" />
<polygon points="621.59,657.71 624.49,652.49 618.69,652.49" fill="#3c69c2" stroke="none" stroke-width="1" />
<polygon points="631.10,657.09 634.00,651.87 628.20,651.87" fill="#3c69c2" stroke="none" stroke-width="1" />
<circle cx="536.00" cy="650.67" r="2.80" fill="#0b8a4c"/>
<circle cx="545.51" cy="650.67" r="2.80" fill="#0b8a4c"/>
<circle cx="555.02" cy="657.46" r="2.80" fill="#0b8a4c"/>
<circle cx="564.53" cy="659.31" r="2.80" fill="#0b8a4c"/>
<circle cx="574.04" cy="667.03" r="2.80" fill="#0b8a4c"/>
<circle cx="583.55" cy="676.59" r="2.80" fill="#0b8a4c"/>
<circle cx="593.06" cy="690.78" r="2.80" fill="#0b8a4c"/>
<circle cx="602.57" cy="701.89" r="2.80" fill="#0b8a4c"/>
<circle cx="612.08" cy="712.38" r="2.80" fill="#0b8a4c"/>
<circle cx="621.59" cy="716.69" r="2.80" fill="#0b8a4c"/>
<circle cx="631.10" cy="721.01" r="2.80" fill="#0b8a4c"/>
<text x="471.90" y="741.70" font-size="14.5" fill="#231f20" transform="rotate(-90 471.90 741.70)">Absorbance (450 nm)</text>
<line x1="516.20" y1="603.50" x2="534.60" y2="603.50" stroke="#231f20" stroke-width="1.3" />
<polygon points="525.40,599.94 529.20,606.78 521.60,606.78" fill="#231f20" stroke="none" stroke-width="1" />
<text x="539.20" y="608.72" font-size="14.5" fill="#231f20">Isotype</text>
<line x1="516.20" y1="621.90" x2="534.60" y2="621.90" stroke="#3c69c2" stroke-width="1.3" />
<polygon points="525.40,625.46 529.20,618.62 521.60,618.62" fill="#3c69c2" stroke="none" stroke-width="1" />
<text x="539.20" y="627.12" font-size="14.5" fill="#3c69c2">4H2F3</text>
<line x1="592.40" y1="603.50" x2="610.70" y2="603.50" stroke="#a3449d" stroke-width="1.3" />
<polygon points="601.55,599.70 605.05,603.50 601.55,607.30 598.05,603.50" fill="#a3449d" stroke="none" stroke-width="1" />
<text x="615.60" y="608.72" font-size="14.5" fill="#a3449d">8E3B7</text>
<line x1="592.40" y1="621.90" x2="610.70" y2="621.90" stroke="#0b8a4c" stroke-width="1.3" />
<circle cx="601.55" cy="621.90" r="3.80" fill="#0b8a4c"/>
<text x="615.60" y="627.12" font-size="14.5" fill="#0b8a4c">F9H4</text>
<line x1="48.00" y1="760.00" x2="222.40" y2="760.00" stroke="#231f20" stroke-width="1.5" />
<line x1="496.70" y1="760.00" x2="664.00" y2="760.00" stroke="#231f20" stroke-width="1.5" />
<text x="231.80" y="765.00" font-size="14.5" fill="#231f20">Log<tspan font-size="9" dy="3">10</tspan><tspan dy="-3"> of antibody concentration (µg/mL)</tspan></text>
<path d="M40.8,35.2 Q45.0,34.9 45.1,35.7 Q41.9,35.8 43.2,38.8" stroke="#b5683c" stroke-width="0.9" fill="none" stroke-linecap="round" stroke-linejoin="round" opacity="0.9"/>
<path d="M31.4,40.2 Q33.3,35.6 38.1,40.3 Q39.7,41.4 36.2,36.6" stroke="#b5683c" stroke-width="0.9" fill="none" stroke-linecap="round" stroke-linejoin="round" opacity="0.9"/>
<path d="M33.9,28.8 Q29.2,28.5 29.0,31.9 Q29.2,33.3 29.2,34.9" stroke="#b5683c" stroke-width="0.9" fill="none" stroke-linecap="round" stroke-linejoin="round" opacity="0.9"/>
<path d="M54.9,43.9 Q55.0,44.0 53.2,41.3 Q51.0,37.0 53.7,36.0" stroke="#b5683c" stroke-width="0.9" fill="none" stroke-linecap="round" stroke-linejoin="round" opacity="0.9"/>
<path d="M53.9,40.9 Q48.9,38.0 53.0,37.7 Q55.0,36.7 50.7,38.0" stroke="#b5683c" stroke-width="0.9" fill="none" stroke-linecap="round" stroke-linejoin="round" opacity="0.9"/>
<path d="M31.3,30.7 Q35.9,33.2 32.1,30.7 Q29.0,26.3 32.0,24.0" stroke="#b5683c" stroke-width="0.9" fill="none" stroke-linecap="round" stroke-linejoin="round" opacity="0.9"/>
<path d="M34.0,38.6 Q30.3,40.1 29.0,39.3 Q29.0,37.0 33.7,40.0" stroke="#b5683c" stroke-width="0.9" fill="none" stroke-linecap="round" stroke-linejoin="round" opacity="0.9"/>
<path d="M34.5,31.9 Q38.0,33.3 34.0,38.2 Q31.2,35.8 33.9,34.1" stroke="#b5683c" stroke-width="0.9" fill="none" stroke-linecap="round" stroke-linejoin="round" opacity="0.9"/>
<path d="M31.3,35.7 Q29.0,36.7 29.0,36.2 Q33.6,36.0 34.3,39.7" stroke="#b5683c" stroke-width="0.9" fill="none" stroke-linecap="round" stroke-linejoin="round" opacity="0.9"/>
<path d="M64.9,35.8 Q62.4,32.7 64.8,37.1 Q61.8,38.0 65.6,38.0" stroke="#b5683c" stroke-width="0.9" fill="none" stroke-linecap="round" stroke-linejoin="round" opacity="0.9"/>
<path d="M54.5,37.6 Q54.0,38.0 54.0,38.0 Q55.0,35.9 54.0,38.0" stroke="#b5683c" stroke-width="0.9" fill="none" stroke-linecap="round" stroke-linejoin="round" opacity="0.9"/>
<path d="M60.7,36.2 Q61.9,34.0 66.0,31.1 Q61.2,28.8 60.6,26.0" stroke="#b5683c" stroke-width="0.9" fill="none" stroke-linecap="round" stroke-linejoin="round" opacity="0.9"/>
<path d="M30.0,30.0 Q27.0,36.0 33.0,40.0 Q38.0,44.0 36.0,48.0" stroke="#b5683c" stroke-width="1.0" fill="none" stroke-linecap="round" stroke-linejoin="round" opacity="1.0"/>
<path d="M40.0,22.0 Q44.0,17.0 49.0,21.0 Q52.0,26.0 48.0,28.0" stroke="#b5683c" stroke-width="1.0" fill="none" stroke-linecap="round" stroke-linejoin="round" opacity="1.0"/>
<path d="M58.0,26.0 Q64.0,24.0 65.0,29.0 Q63.0,34.0 60.0,36.0" stroke="#b5683c" stroke-width="1.0" fill="none" stroke-linecap="round" stroke-linejoin="round" opacity="1.0"/>
<path d="M40.0,25.0 Q44.6,39.9 49.0,56.0" stroke="#b5683c" stroke-width="1.8" fill="none" stroke-linecap="butt" opacity="1.0"/>
<path d="M44.0,24.0 Q48.8,39.6 54.0,54.0" stroke="#b5683c" stroke-width="1.8" fill="none" stroke-linecap="butt" opacity="1.0"/>
<path d="M49.0,26.0 Q54.8,38.3 59.0,50.0" stroke="#b5683c" stroke-width="1.8" fill="none" stroke-linecap="butt" opacity="1.0"/>
<path d="M53.0,30.0 Q58.3,39.6 63.0,49.0" stroke="#b5683c" stroke-width="1.8" fill="none" stroke-linecap="butt" opacity="1.0"/>
<path d="M36.0,30.0 Q39.4,38.3 44.0,48.0" stroke="#b5683c" stroke-width="1.8" fill="none" stroke-linecap="butt" opacity="1.0"/>
<path d="M36.5,53.5 Q38.5,56.0 36.0,56.0 Q36.0,56.0 36.0,56.0" stroke="#b5683c" stroke-width="0.8" fill="none" stroke-linecap="round" stroke-linejoin="round" opacity="0.9"/>
<path d="M56.6,53.2 Q59.0,55.2 61.9,56.0 Q60.5,56.0 64.0,56.0" stroke="#b5683c" stroke-width="0.8" fill="none" stroke-linecap="round" stroke-linejoin="round" opacity="0.9"/>
<path d="M60.2,44.0 Q61.4,42.9 62.3,44.0 Q58.1,45.3 63.0,49.1" stroke="#b5683c" stroke-width="0.8" fill="none" stroke-linecap="round" stroke-linejoin="round" opacity="0.9"/>
<path d="M56.6,44.3 Q56.0,47.7 51.8,50.2 Q47.1,51.2 46.9,48.5" stroke="#b5683c" stroke-width="0.8" fill="none" stroke-linecap="round" stroke-linejoin="round" opacity="0.9"/>
<path d="M53.2,53.8 Q50.8,48.9 48.8,50.7 Q45.8,47.4 49.9,49.0" stroke="#b5683c" stroke-width="0.8" fill="none" stroke-linecap="round" stroke-linejoin="round" opacity="0.9"/>
<path d="M45.2,46.6 Q42.1,46.0 45.2,50.1 Q49.0,48.9 49.8,47.1" stroke="#b5683c" stroke-width="0.8" fill="none" stroke-linecap="round" stroke-linejoin="round" opacity="0.9"/>
<path d="M56.0,40.0 Q62.0,44.0 66.0,48.0" stroke="#b5683c" stroke-width="1.0" fill="none" stroke-linecap="round" stroke-linejoin="round" opacity="1.0"/>
<path d="M60.0,24.0 Q66.0,27.0 64.0,34.0" stroke="#b5683c" stroke-width="0.9" fill="none" stroke-linecap="round" stroke-linejoin="round" opacity="1.0"/>
<path d="M49.0,56.0 Q53.0,62.0 58.0,60.0 Q62.0,56.0 66.0,52.0" stroke="#b5683c" stroke-width="0.9" fill="none" stroke-linecap="round" stroke-linejoin="round" opacity="1.0"/>
<path d="M90.8,75.4 A11.5,11.5 0 1 1 90.8,60.6" stroke="#c45a1e" stroke-width="2.6" fill="none" opacity="1.0"/>
<path d="M88.9,72.0 A8.0,8.0 0 1 1 86.0,61.1" stroke="#a8521e" stroke-width="1.4" fill="none" opacity="1.0"/>
<path d="M84.5,72.3 A5.0,5.0 0 1 1 80.3,63.3" stroke="#6e3512" stroke-width="2.4" fill="none" opacity="1.0"/>
<path d="M91.1,76.4 Q93.2,80.0 91.0,76.7 Q90.5,74.4 87.6,73.6" stroke="#c45a1e" stroke-width="0.9" fill="none" stroke-linecap="round" stroke-linejoin="round" opacity="0.9"/>
<path d="M78.6,76.1 Q83.4,75.7 79.1,71.0 Q82.9,66.4 85.0,67.1" stroke="#c45a1e" stroke-width="0.9" fill="none" stroke-linecap="round" stroke-linejoin="round" opacity="0.9"/>
<path d="M71.5,59.3 Q71.0,56.0 74.3,56.0 Q71.0,56.0 72.3,56.0" stroke="#c45a1e" stroke-width="0.9" fill="none" stroke-linecap="round" stroke-linejoin="round" opacity="0.9"/>
<path d="M90.4,79.0 Q92.2,76.0 92.0,72.8 Q87.1,72.5 89.2,69.3" stroke="#c45a1e" stroke-width="0.9" fill="none" stroke-linecap="round" stroke-linejoin="round" opacity="0.9"/>
<path d="M87.7,68.5 Q88.9,71.1 87.8,74.0 Q91.9,69.8 95.0,72.1" stroke="#c45a1e" stroke-width="0.9" fill="none" stroke-linecap="round" stroke-linejoin="round" opacity="0.9"/>
<path d="M86.0,77.8 Q84.8,78.5 88.6,80.0 Q93.0,79.6 94.5,76.7" stroke="#c45a1e" stroke-width="0.9" fill="none" stroke-linecap="round" stroke-linejoin="round" opacity="0.9"/>
<path d="M86.4,73.2 Q83.5,77.2 88.3,80.0 Q88.7,80.0 86.9,80.0" stroke="#c45a1e" stroke-width="0.9" fill="none" stroke-linecap="round" stroke-linejoin="round" opacity="0.9"/>
<path d="M76.0,56.0 Q82.3,57.9 90.0,60.0" stroke="#b0501c" stroke-width="1.8" fill="none" stroke-linecap="butt" opacity="1.0"/>
<path d="M75.0,70.0 Q82.6,72.4 90.0,74.0" stroke="#b0501c" stroke-width="1.8" fill="none" stroke-linecap="butt" opacity="1.0"/>
<path d="M79.0,58.0 Q81.0,64.7 83.0,73.0" stroke="#b0501c" stroke-width="1.8" fill="none" stroke-linecap="butt" opacity="1.0"/>
<path d="M88.0,76.0 Q88.0,80.0 87.0,86.0" stroke="#c45a1e" stroke-width="1.0" fill="none" stroke-linecap="round" stroke-linejoin="round" opacity="1.0"/>
<path d="M93.0,57.0 Q97.0,60.0 97.0,66.0" stroke="#c45a1e" stroke-width="1.0" fill="none" stroke-linecap="round" stroke-linejoin="round" opacity="1.0"/>
<path d="M70.0,50.0 Q74.0,46.0 80.0,49.0" stroke="#c45a1e" stroke-width="1.0" fill="none" stroke-linecap="round" stroke-linejoin="round" opacity="1.0"/>
<path d="M78.0,76.0 Q80.0,80.0 84.0,79.0" stroke="#c45a1e" stroke-width="1.0" fill="none" stroke-linecap="round" stroke-linejoin="round" opacity="1.0"/>
<path d="M34.7,42.2 Q37.7,41.0 36.0,43.9 Q32.4,41.0 32.6,43.2" stroke="#138a6b" stroke-width="1.0" fill="none" stroke-linecap="round" stroke-linejoin="round" opacity="0.9"/>
<path d="M38.5,49.9 Q40.0,45.7 37.2,46.0 Q35.1,48.3 36.5,48.5" stroke="#138a6b" stroke-width="1.0" fill="none" stroke-linecap="round" stroke-linejoin="round" opacity="0.9"/>
<path d="M20.7,47.9 Q24.2,51.9 21.3,55.4 Q25.9,55.6 26.7,52.6" stroke="#138a6b" stroke-width="1.0" fill="none" stroke-linecap="round" stroke-linejoin="round" opacity="0.9"/>
<path d="M28.9,41.5 Q33.6,41.7 32.6,44.7 Q33.3,44.6 35.2,41.0" stroke="#138a6b" stroke-width="1.0" fill="none" stroke-linecap="round" stroke-linejoin="round" opacity="0.9"/>
<path d="M38.8,57.6 Q36.5,57.4 32.8,56.7 Q35.9,59.0 35.7,57.2" stroke="#138a6b" stroke-width="1.0" fill="none" stroke-linecap="round" stroke-linejoin="round" opacity="0.9"/>
<path d="M37.9,43.3 Q40.0,41.0 36.9,41.0 Q38.8,41.0 37.4,42.2" stroke="#138a6b" stroke-width="1.0" fill="none" stroke-linecap="round" stroke-linejoin="round" opacity="0.9"/>
<path d="M15.4,50.2 Q12.9,47.2 13.2,46.5 Q12.0,45.7 12.3,42.3" stroke="#138a6b" stroke-width="1.0" fill="none" stroke-linecap="round" stroke-linejoin="round" opacity="0.9"/>
<path d="M29.9,50.5 Q33.4,51.7 37.0,49.0 Q39.4,52.1 40.0,50.2" stroke="#138a6b" stroke-width="1.0" fill="none" stroke-linecap="round" stroke-linejoin="round" opacity="0.9"/>
<path d="M25.9,90.0 Q29.7,86.3 27.1,88.6 Q24.7,84.5 28.0,83.7" stroke="#138a6b" stroke-width="0.9" fill="none" stroke-linecap="round" stroke-linejoin="round" opacity="0.9"/>
<path d="M32.5,80.6 Q27.7,77.6 29.5,81.7 Q34.2,77.8 34.2,80.4" stroke="#138a6b" stroke-width="0.9" fill="none" stroke-linecap="round" stroke-linejoin="round" opacity="0.9"/>
<path d="M24.8,62.1 Q20.9,60.0 21.4,60.1 Q22.1,60.0 18.9,60.0" stroke="#138a6b" stroke-width="0.9" fill="none" stroke-linecap="round" stroke-linejoin="round" opacity="0.9"/>
<path d="M51.4,62.9 Q47.0,67.4 46.6,70.0 Q44.9,69.7 45.0,69.0" stroke="#138a6b" stroke-width="0.9" fill="none" stroke-linecap="round" stroke-linejoin="round" opacity="0.9"/>
<path d="M43.2,85.3 Q40.0,84.9 42.4,83.9 Q39.4,80.6 39.5,75.7" stroke="#138a6b" stroke-width="0.9" fill="none" stroke-linecap="round" stroke-linejoin="round" opacity="0.9"/>
<path d="M43.4,85.8 Q44.7,84.9 45.7,84.9 Q50.5,88.0 48.1,90.0" stroke="#138a6b" stroke-width="0.9" fill="none" stroke-linecap="round" stroke-linejoin="round" opacity="0.9"/>
<path d="M47.3,72.2 Q51.3,76.0 53.2,78.6 Q54.0,77.7 54.0,73.4" stroke="#138a6b" stroke-width="0.9" fill="none" stroke-linecap="round" stroke-linejoin="round" opacity="0.9"/>
<path d="M18.4,70.7 Q19.8,71.9 18.0,76.4 Q19.7,74.7 21.3,75.4" stroke="#138a6b" stroke-width="0.9" fill="none" stroke-linecap="round" stroke-linejoin="round" opacity="0.9"/>
<path d="M54.0,79.3 Q54.0,81.9 54.0,77.1 Q54.0,79.5 51.6,78.5" stroke="#138a6b" stroke-width="0.9" fill="none" stroke-linecap="round" stroke-linejoin="round" opacity="0.9"/>
<path d="M31.5,63.0 Q29.0,67.0 29.5,67.1 Q34.2,67.8 39.2,69.1" stroke="#138a6b" stroke-width="0.9" fill="none" stroke-linecap="round" stroke-linejoin="round" opacity="0.9"/>
<path d="M14.0,52.0 Q26.2,71.4 38.0,90.0" stroke="#138a6b" stroke-width="2.6" fill="none" stroke-linecap="butt" opacity="1.0"/>
<polygon points="38.64,91.01 34.80,89.42 38.85,86.86" fill="#138a6b" stroke="none" stroke-width="1" opacity="1.0"/>
<path d="M19.0,49.0 Q30.8,69.2 44.0,88.0" stroke="#138a6b" stroke-width="2.6" fill="none" stroke-linecap="butt" opacity="1.0"/>
<polygon points="44.65,89.01 40.79,87.44 44.83,84.85" fill="#138a6b" stroke="none" stroke-width="1" opacity="1.0"/>
<path d="M24.0,47.0 Q36.0,65.5 49.0,84.0" stroke="#138a6b" stroke-width="2.6" fill="none" stroke-linecap="butt" opacity="1.0"/>
<polygon points="49.67,84.99 45.78,83.52 49.76,80.83" fill="#138a6b" stroke="none" stroke-width="1" opacity="1.0"/>
<path d="M29.0,46.0 Q40.0,62.5 52.0,79.0" stroke="#138a6b" stroke-width="2.6" fill="none" stroke-linecap="butt" opacity="1.0"/>
<polygon points="52.69,79.98 48.77,78.57 52.71,75.82" fill="#138a6b" stroke="none" stroke-width="1" opacity="1.0"/>
<path d="M17.0,60.0 Q24.7,74.3 32.0,90.0" stroke="#138a6b" stroke-width="2.6" fill="none" stroke-linecap="butt" opacity="1.0"/>
<polygon points="32.54,91.07 28.87,89.11 33.16,86.96" fill="#138a6b" stroke="none" stroke-width="1" opacity="1.0"/>
<path d="M34.0,44.0 Q45.2,57.9 55.0,72.0" stroke="#138a6b" stroke-width="2.6" fill="none" stroke-linecap="butt" opacity="1.0"/>
<polygon points="55.72,72.96 51.76,71.68 55.60,68.80" fill="#138a6b" stroke="none" stroke-width="1" opacity="1.0"/>
<path d="M38.0,40.0 Q47.0,52.2 56.0,64.0" stroke="#138a6b" stroke-width="2.6" fill="none" stroke-linecap="butt" opacity="1.0"/>
<polygon points="56.72,64.96 52.76,63.68 56.60,60.80" fill="#138a6b" stroke="none" stroke-width="1" opacity="1.0"/>
<path d="M14.0,46.0 Q12.0,40.0 20.0,39.0 Q27.0,42.0 30.0,46.0" stroke="#138a6b" stroke-width="1.6" fill="none" stroke-linecap="round" stroke-linejoin="round" opacity="1.0"/>
<path d="M50.0,84.0 Q58.0,86.0 62.0,80.0 Q60.0,75.0 56.0,80.0" stroke="#138a6b" stroke-width="1.1" fill="none" stroke-linecap="round" stroke-linejoin="round" opacity="1.0"/>
<path d="M32.0,92.0 Q38.0,97.0 46.0,96.0 Q50.0,98.0 48.0,93.0" stroke="#138a6b" stroke-width="1.1" fill="none" stroke-linecap="round" stroke-linejoin="round" opacity="1.0"/>
<path d="M10.0,60.0 Q9.0,66.0 14.0,70.0 Q16.0,76.0 20.0,80.0" stroke="#138a6b" stroke-width="1.2" fill="none" stroke-linecap="round" stroke-linejoin="round" opacity="1.0"/>
<path d="M22,62 L30,58 L34,68 L26,72 Z" fill="#aab8b0" opacity="0.35"/>
<path d="M20.0,56.0 Q27.8,69.7 36.0,84.0" stroke="#0e7d5e" stroke-width="2.4" fill="none" stroke-linecap="butt" opacity="1.0"/>
<path d="M26.0,54.0 Q34.2,68.1 42.0,82.0" stroke="#0e7d5e" stroke-width="2.4" fill="none" stroke-linecap="butt" opacity="1.0"/>
<path d="M32.0,52.0 Q39.2,65.3 47.0,78.0" stroke="#0e7d5e" stroke-width="2.4" fill="none" stroke-linecap="butt" opacity="1.0"/>
<path d="M22.0,70.0 Q30.7,83.2 40.0,98.0" stroke="#138a6b" stroke-width="2.2" fill="none" stroke-linecap="butt" opacity="1.0"/>
<polygon points="40.65,99.01 36.79,97.45 40.83,94.85" fill="#138a6b" stroke="none" stroke-width="1" opacity="1.0"/>
<path d="M28.0,66.0 Q36.6,80.3 46.0,96.0" stroke="#138a6b" stroke-width="2.2" fill="none" stroke-linecap="butt" opacity="1.0"/>
<polygon points="46.62,97.03 42.81,95.35 46.93,92.88" fill="#138a6b" stroke="none" stroke-width="1" opacity="1.0"/>
<path d="M14.0,66.0 Q21.5,80.4 30.0,94.0" stroke="#138a6b" stroke-width="2.2" fill="none" stroke-linecap="butt" opacity="1.0"/>
<polygon points="30.60,95.04 26.82,93.28 30.99,90.90" fill="#138a6b" stroke="none" stroke-width="1" opacity="1.0"/>
<path d="M30.0,96.0 Q36.0,101.0 42.0,104.0 Q46.0,101.0 44.0,97.0" stroke="#138a6b" stroke-width="1.2" fill="none" stroke-linecap="round" stroke-linejoin="round" opacity="1.0"/>
<path d="M18.0,88.0 Q22.0,94.0 28.0,96.0" stroke="#138a6b" stroke-width="1.0" fill="none" stroke-linecap="round" stroke-linejoin="round" opacity="1.0"/>
<path d="M46.0,40.0 Q50.8,53.6 56.0,66.0" stroke="#b5683c" stroke-width="1.5" fill="none" stroke-linecap="butt" opacity="1.0"/>
<path d="M52.0,44.0 Q57.4,53.3 62.0,64.0" stroke="#b5683c" stroke-width="1.5" fill="none" stroke-linecap="butt" opacity="1.0"/>
<path d="M40.0,44.0 Q44.8,53.7 48.0,62.0" stroke="#b5683c" stroke-width="1.5" fill="none" stroke-linecap="butt" opacity="1.0"/>
<path d="M48.0,62.0 Q52.0,68.0 58.0,67.0" stroke="#b5683c" stroke-width="0.9" fill="none" stroke-linecap="round" stroke-linejoin="round" opacity="1.0"/>
<circle cx="49" cy="64" r="2.6" fill="#1d86c8"/>
<circle cx="48" cy="74.2" r="2.4" fill="#14985a"/>
<circle cx="52.7" cy="70" r="2.4" fill="#14985a"/>
<circle cx="61.3" cy="70" r="2.4" fill="#14985a"/>
<circle cx="65" cy="64" r="2.4" fill="#14985a"/>
<circle cx="65.8" cy="56.8" r="2.2" fill="#14985a"/>
<circle cx="69" cy="56.8" r="1.9" fill="#d0202c"/>
<circle cx="70.5" cy="53.7" r="2.3" fill="#1d86c8"/>
<circle cx="70.5" cy="60.9" r="2.6" fill="#1d86c8"/>
<circle cx="47" cy="81.3" r="2.4" fill="#1d86c8"/>
<circle cx="46" cy="87.4" r="1.7" fill="#d0202c"/>
<circle cx="48" cy="89.5" r="2.4" fill="#1d86c8"/>
<path d="M70.0,84.0 Q63.3,106.6 58.0,128.0" stroke="#5c60aa" stroke-width="1.5" fill="none" stroke-linecap="butt" opacity="1.0"/>
<polygon points="57.68,129.16 56.26,125.25 60.89,126.51" fill="#5c60aa" stroke="none" stroke-width="1" opacity="1.0"/>
<path d="M74.0,87.0 Q68.4,107.0 63.0,127.0" stroke="#5c60aa" stroke-width="1.5" fill="none" stroke-linecap="butt" opacity="1.0"/>
<polygon points="62.68,128.16 61.27,124.24 65.90,125.52" fill="#5c60aa" stroke="none" stroke-width="1" opacity="1.0"/>
<path d="M66.0,88.0 Q61.3,103.1 55.0,119.0" stroke="#5c60aa" stroke-width="1.5" fill="none" stroke-linecap="butt" opacity="1.0"/>
<polygon points="54.60,120.13 53.47,116.12 58.00,117.73" fill="#5c60aa" stroke="none" stroke-width="1" opacity="1.0"/>
<path d="M78.0,92.0 Q73.0,108.7 68.0,124.0" stroke="#5c60aa" stroke-width="1.5" fill="none" stroke-linecap="butt" opacity="1.0"/>
<polygon points="67.64,125.15 66.37,121.18 70.95,122.62" fill="#5c60aa" stroke="none" stroke-width="1" opacity="1.0"/>
<path d="M61.0,94.0 Q57.4,100.9 53.0,108.0" stroke="#5c60aa" stroke-width="1.5" fill="none" stroke-linecap="butt" opacity="1.0"/>
<polygon points="52.40,109.04 52.01,104.90 56.18,107.28" fill="#5c60aa" stroke="none" stroke-width="1" opacity="1.0"/>
<path d="M67.0,78.0 Q68.0,84.0 72.0,88.0 Q78.0,90.0 80.0,95.0" stroke="#5c60aa" stroke-width="1.2" fill="none" stroke-linecap="round" stroke-linejoin="round" opacity="1.0"/>
<path d="M55.0,98.0 Q51.0,102.0 54.0,106.0 Q52.0,112.0 56.0,116.0" stroke="#5c60aa" stroke-width="1.1" fill="none" stroke-linecap="round" stroke-linejoin="round" opacity="1.0"/>
<path d="M56.0,126.0 Q60.0,132.0 66.0,130.0 Q70.0,126.0 68.0,122.0" stroke="#5c60aa" stroke-width="1.0" fill="none" stroke-linecap="round" stroke-linejoin="round" opacity="1.0"/>
<path d="M78.0,96.0 Q80.0,104.0 77.0,110.0 Q74.0,116.0 72.0,120.0" stroke="#5c60aa" stroke-width="0.9" fill="none" stroke-linecap="round" stroke-linejoin="round" opacity="1.0"/>
<path d="M62.0,130.0 Q60.0,134.0 63.0,136.0" stroke="#5c60aa" stroke-width="0.9" fill="none" stroke-linecap="round" stroke-linejoin="round" opacity="1.0"/>
<path d="M88.0,99.0 Q99.8,116.0 110.0,132.0" stroke="#5c60aa" stroke-width="1.5" fill="none" stroke-linecap="butt" opacity="1.0"/>
<polygon points="110.67,133.00 106.78,131.50 110.78,128.84" fill="#5c60aa" stroke="none" stroke-width="1" opacity="1.0"/>
<path d="M92.0,96.0 Q104.2,111.9 116.0,129.0" stroke="#5c60aa" stroke-width="1.5" fill="none" stroke-linecap="butt" opacity="1.0"/>
<polygon points="116.71,129.97 112.77,128.63 116.65,125.81" fill="#5c60aa" stroke="none" stroke-width="1" opacity="1.0"/>
<path d="M97.0,95.0 Q108.7,110.4 120.0,126.0" stroke="#5c60aa" stroke-width="1.5" fill="none" stroke-linecap="butt" opacity="1.0"/>
<polygon points="120.72,126.96 116.76,125.66 120.62,122.80" fill="#5c60aa" stroke="none" stroke-width="1" opacity="1.0"/>
<path d="M102.0,94.0 Q112.0,106.8 123.0,121.0" stroke="#5c60aa" stroke-width="1.5" fill="none" stroke-linecap="butt" opacity="1.0"/>
<polygon points="123.74,121.95 119.75,120.74 123.54,117.79" fill="#5c60aa" stroke="none" stroke-width="1" opacity="1.0"/>
<path d="M86.0,106.0 Q94.5,119.4 103.0,134.0" stroke="#5c60aa" stroke-width="1.5" fill="none" stroke-linecap="butt" opacity="1.0"/>
<polygon points="103.62,135.03 99.81,133.37 103.91,130.87" fill="#5c60aa" stroke="none" stroke-width="1" opacity="1.0"/>
<path d="M85.0,96.0 Q88.0,90.0 94.0,92.0 Q98.0,88.0 102.0,92.0" stroke="#5c60aa" stroke-width="1.1" fill="none" stroke-linecap="round" stroke-linejoin="round" opacity="1.0"/>
<path d="M106.0,132.0 Q112.0,140.0 120.0,142.0 Q128.0,144.0 130.0,138.0" stroke="#5c60aa" stroke-width="1.0" fill="none" stroke-linecap="round" stroke-linejoin="round" opacity="1.0"/>
<path d="M130.0,138.0 Q126.0,130.0 122.0,124.0 Q118.0,128.0 114.0,134.0" stroke="#5c60aa" stroke-width="0.9" fill="none" stroke-linecap="round" stroke-linejoin="round" opacity="1.0"/>
<path d="M108.0,136.0 Q110.0,142.0 112.0,148.0" stroke="#5c60aa" stroke-width="0.9" fill="none" stroke-linecap="round" stroke-linejoin="round" opacity="1.0"/>
<path d="M84.0,112.0 Q86.0,120.0 90.0,126.0 Q94.0,130.0 98.0,134.0" stroke="#5c60aa" stroke-width="0.9" fill="none" stroke-linecap="round" stroke-linejoin="round" opacity="1.0"/>
<path d="M118.0,112.0 Q114.9,112.8 112.0,113.0" stroke="#5c60aa" stroke-width="1.6" fill="none" stroke-linecap="butt" opacity="1.0"/>
<polygon points="110.82,113.20 113.78,110.27 114.56,115.01" fill="#5c60aa" stroke="none" stroke-width="1" opacity="1.0"/>
<text x="-1.00" y="15.70" font-size="22" fill="#231f20" font-weight="bold">A</text>
<text x="70.00" y="26.60" font-size="13.4" fill="#8a5a3a">Fc</text>
<text x="69.80" y="41.10" font-size="13.4" fill="#8a5a3a">domain</text>
<text x="5.40" y="104.00" font-size="13.4" fill="#157a4c">Fc</text>
<text x="5.40" y="118.70" font-size="13.4" fill="#157a4c">domain</text>
<text x="109.60" y="105.50" font-size="12.2" fill="#231f20">D1</text>
<text x="48.20" y="145.20" font-size="12.2" fill="#231f20">D2</text>
<text x="77.00" y="138.40" font-size="12.2" fill="#231f20" font-style="italic">52°</text>
<text x="67.80" y="161.40" font-size="14.2" fill="#5656a6">CD16a</text>
<path d="M76,126 Q84.5,129 92.5,126" stroke="#231f20" stroke-width="0.9" fill="none"/>
<polygon points="74.80,124.60 78.60,124.80 76.60,128.20" fill="#231f20" stroke="none" stroke-width="1" />
<polygon points="93.60,124.60 89.80,124.80 91.80,128.20" fill="#231f20" stroke="none" stroke-width="1" />
</svg></body></html>
